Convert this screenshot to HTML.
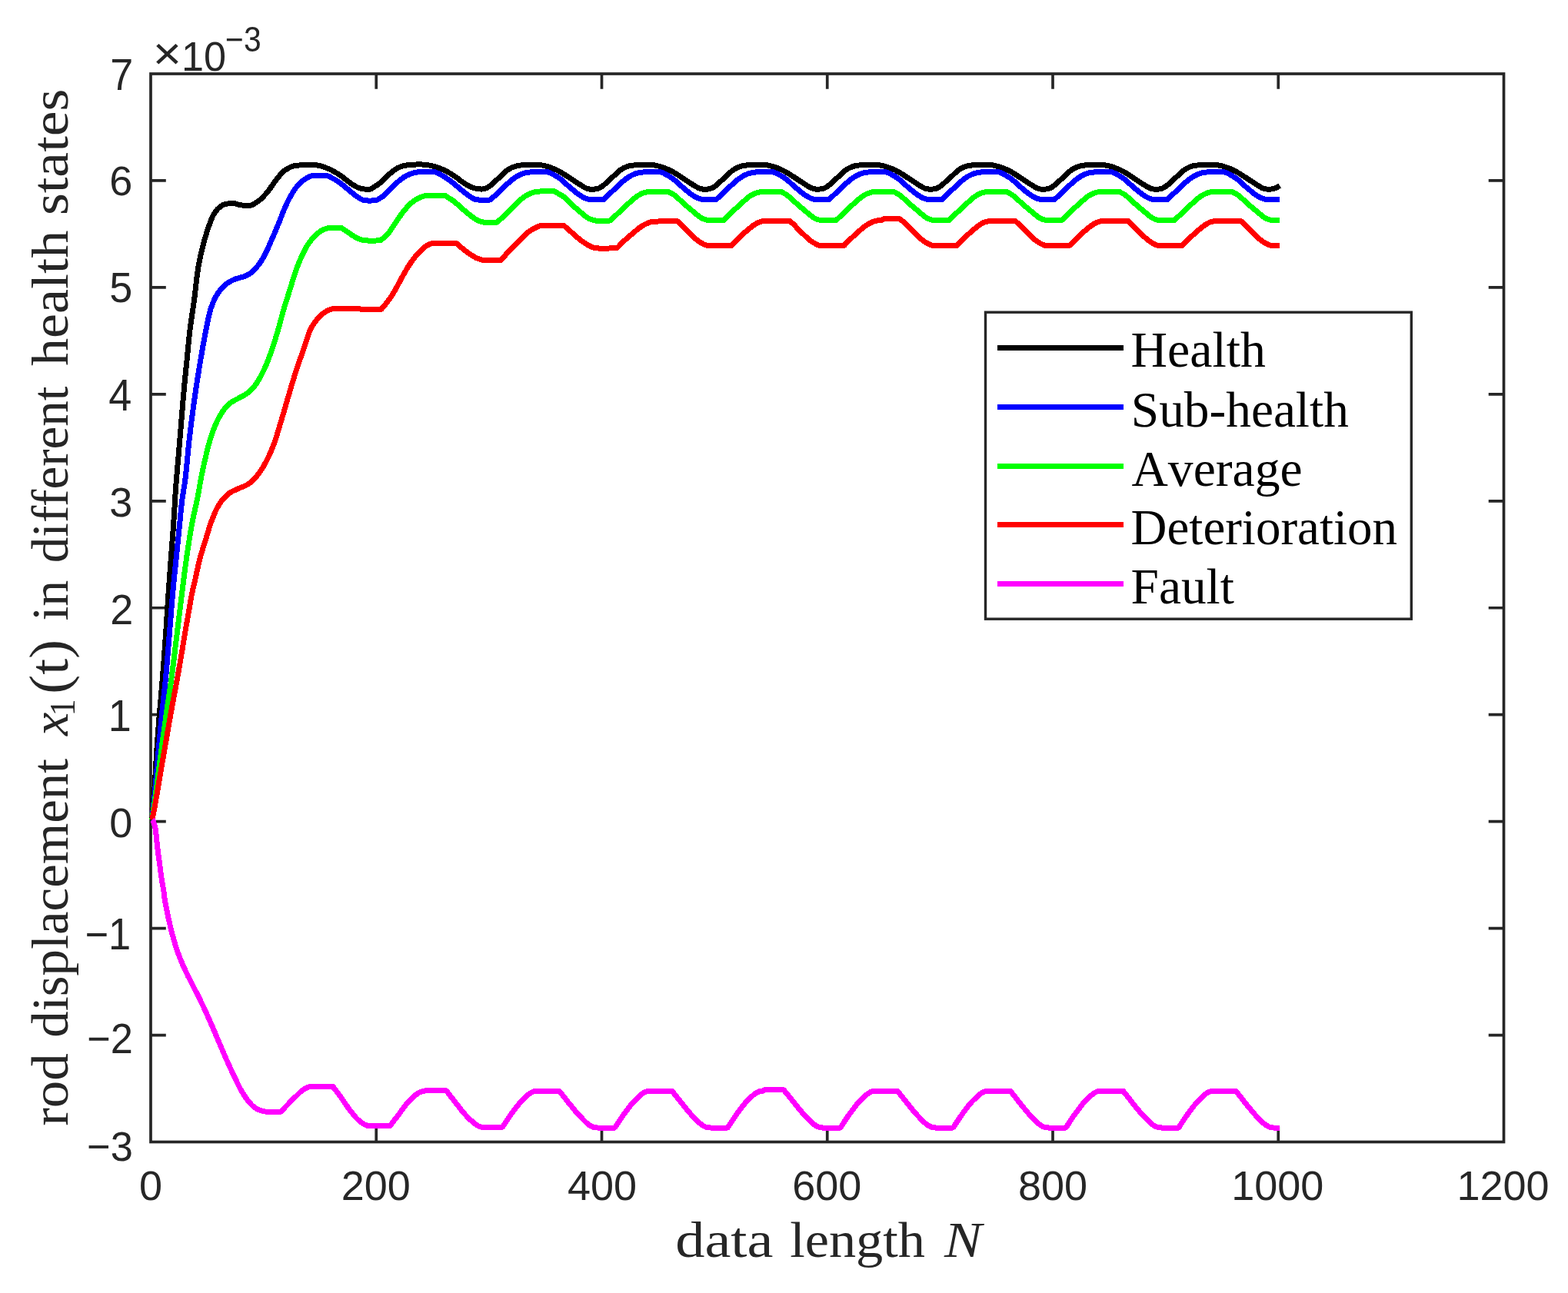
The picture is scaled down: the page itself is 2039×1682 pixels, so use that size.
<!DOCTYPE html>
<html lang="en"><head><meta charset="utf-8"><title>rod displacement in different health states</title>
<style>html,body{margin:0;padding:0;background:#fff}body{width:2039px;height:1682px;overflow:hidden}svg{display:block}text{white-space:pre}</style></head><body>
<svg width="2039" height="1682" viewBox="0 0 2039 1682">
<rect x="0" y="0" width="2039" height="1682" fill="#ffffff"/>
<g stroke="#262626" fill="none" stroke-linecap="butt">
<rect x="196.00" y="96.00" width="1759.50" height="1389.50" stroke-width="3.7"/>
<path d="M489.25,1485.50v-19.80 M489.25,96.00v19.80 M782.50,1485.50v-19.80 M782.50,96.00v19.80 M1075.75,1485.50v-19.80 M1075.75,96.00v19.80 M1369.00,1485.50v-19.80 M1369.00,96.00v19.80 M1662.25,1485.50v-19.80 M1662.25,96.00v19.80 M196.00,1346.55h19.80 M1955.50,1346.55h-19.80 M196.00,1207.60h19.80 M1955.50,1207.60h-19.80 M196.00,1068.65h19.80 M1955.50,1068.65h-19.80 M196.00,929.70h19.80 M1955.50,929.70h-19.80 M196.00,790.75h19.80 M1955.50,790.75h-19.80 M196.00,651.80h19.80 M1955.50,651.80h-19.80 M196.00,512.85h19.80 M1955.50,512.85h-19.80 M196.00,373.90h19.80 M1955.50,373.90h-19.80 M196.00,234.95h19.80 M1955.50,234.95h-19.80" stroke-width="3.7"/>
</g>
<g fill="none" stroke-width="7" stroke-linejoin="bevel" stroke-linecap="butt" shape-rendering="crispEdges">
<path stroke="#000000" d="M197.8,1066.0 L199.3,1048.2 L200.8,1027.4 L202.3,1003.0 L203.8,976.5 L205.3,955.3 L206.8,936.3 L208.3,917.9 L209.8,900.5 L211.3,882.5 L212.8,863.1 L214.3,842.6 L215.8,821.2 L217.3,798.2 L218.8,775.1 L220.3,753.7 L221.8,733.0 L223.3,713.2 L224.8,694.0 L226.3,672.0 L227.8,646.0 L229.3,625.2 L230.8,607.7 L232.3,590.3 L233.8,572.3 L235.3,554.3 L236.8,536.0 L238.3,517.7 L239.8,500.7 L241.3,485.5 L242.8,470.9 L244.3,455.6 L245.8,440.1 L247.3,426.7 L248.8,415.7 L250.3,405.7 L251.8,395.7 L253.3,384.4 L254.8,371.1 L256.3,358.1 L257.8,348.0 L259.3,339.8 L260.8,332.7 L262.3,326.3 L263.8,320.2 L265.3,314.5 L266.8,309.1 L268.3,304.1 L269.8,299.4 L271.3,295.0 L272.8,290.8 L274.3,286.7 L275.8,283.0 L277.3,280.0 L278.8,277.5 L280.3,275.3 L281.8,273.3 L283.3,271.6 L284.8,270.3 L286.3,269.1 L287.8,268.0 L289.3,267.0 L290.8,266.2 L292.3,265.6 L293.8,265.3 L295.3,265.1 L296.8,264.9 L298.3,264.7 L299.8,264.6 L301.3,264.5 L302.8,264.4 L304.3,264.5 L305.8,264.8 L307.3,265.2 L308.8,265.7 L310.3,266.2 L311.8,266.6 L313.3,266.9 L314.8,267.0 L316.3,267.1 L317.8,267.2 L319.3,267.3 L320.8,267.4 L322.3,267.4 L323.8,267.4 L325.3,267.3 L326.8,266.9 L328.3,266.3 L329.8,265.5 L331.3,264.6 L332.8,263.7 L334.3,262.7 L335.8,261.7 L337.3,260.6 L338.8,259.3 L340.3,257.9 L341.8,256.4 L343.3,254.8 L344.8,253.2 L346.3,251.6 L347.8,249.8 L349.3,247.9 L350.8,245.8 L352.3,243.6 L353.8,241.4 L355.3,239.2 L356.8,237.1 L358.3,235.1 L359.8,233.2 L361.3,231.3 L362.8,229.3 L364.3,227.5 L365.8,225.7 L367.3,224.1 L368.8,222.7 L370.3,221.6 L371.8,220.7 L373.3,219.8 L374.8,218.9 L376.3,218.1 L377.8,217.4 L379.3,216.8 L380.8,216.3 L382.3,215.9 L383.8,215.7 L385.3,215.5 L386.8,215.3 L388.3,215.1 L389.8,214.9 L391.3,214.8 L392.8,214.7 L394.3,214.6 L395.8,214.5 L397.3,214.5 L398.8,214.5 L400.3,214.5 L401.8,214.5 L403.3,214.6 L404.8,214.6 L406.3,214.7 L407.8,214.7 L409.3,214.8 L410.8,214.9 L412.3,215.0 L413.8,215.1 L415.3,215.4 L416.8,215.8 L418.3,216.2 L419.8,216.7 L421.3,217.3 L422.8,217.8 L424.3,218.4 L425.8,219.0 L427.3,219.6 L428.8,220.2 L430.3,221.0 L431.8,221.7 L433.3,222.5 L434.8,223.4 L436.3,224.3 L437.8,225.2 L439.3,226.1 L440.8,227.0 L442.3,228.0 L443.8,229.0 L445.3,230.1 L446.8,231.3 L448.3,232.5 L449.8,233.7 L451.3,234.9 L452.8,236.0 L454.3,237.2 L455.8,238.2 L457.3,239.3 L458.8,240.3 L460.3,241.2 L461.8,242.1 L463.3,242.9 L464.8,243.6 L466.3,244.3 L467.8,244.8 L469.3,245.2 L470.8,245.5 L472.3,245.8 L473.8,246.0 L475.3,246.0 L476.8,246.1 L478.3,246.1 L479.8,246.2 L481.3,246.0 L482.8,245.5 L484.3,244.7 L485.8,243.7 L487.3,242.7 L488.8,241.8 L490.3,240.8 L491.8,239.8 L493.3,238.7 L494.8,237.5 L496.3,236.3 L497.8,235.0 L499.3,233.7 L500.8,232.1 L502.3,230.5 L503.8,228.9 L505.3,227.4 L506.8,226.0 L508.3,224.8 L509.8,223.5 L511.3,222.3 L512.8,221.2 L514.3,220.2 L515.8,219.3 L517.3,218.5 L518.8,217.8 L520.3,217.1 L521.8,216.5 L523.3,216.0 L524.8,215.6 L526.3,215.4 L527.8,215.1 L529.3,214.9 L530.8,214.7 L532.3,214.6 L533.8,214.5 L535.3,214.4 L536.8,214.2 L538.3,214.1 L539.8,214.1 L541.3,214.0 L542.8,213.9 L544.3,213.9 L545.8,213.9 L547.3,213.9 L548.8,214.0 L550.3,214.1 L551.8,214.3 L553.3,214.4 L554.8,214.6 L556.3,214.8 L557.8,215.0 L559.3,215.2 L560.8,215.5 L562.3,215.9 L563.8,216.3 L565.3,216.7 L566.8,217.2 L568.3,217.6 L569.8,218.1 L571.3,218.6 L572.8,219.2 L574.3,219.8 L575.8,220.5 L577.3,221.2 L578.8,222.0 L580.3,222.7 L581.8,223.5 L583.3,224.3 L584.8,225.2 L586.3,226.1 L587.8,227.1 L589.3,228.1 L590.8,229.1 L592.3,230.1 L593.8,231.1 L595.3,232.2 L596.8,233.4 L598.3,234.6 L599.8,235.7 L601.3,236.8 L602.8,237.8 L604.3,238.8 L605.8,239.8 L607.3,240.7 L608.8,241.5 L610.3,242.2 L611.8,242.9 L613.3,243.5 L614.8,244.1 L616.3,244.6 L617.8,245.0 L619.3,245.3 L620.8,245.5 L622.3,245.7 L623.8,245.9 L625.3,246.0 L626.8,246.0 L628.3,245.9 L629.8,245.5 L631.3,245.1 L632.8,244.5 L634.3,243.7 L635.8,242.7 L637.3,241.7 L638.8,240.5 L640.3,239.1 L641.8,237.7 L643.3,236.3 L644.8,234.9 L646.3,233.6 L647.8,232.3 L649.3,230.9 L650.8,229.5 L652.3,228.2 L653.8,226.7 L655.3,225.3 L656.8,223.8 L658.3,222.5 L659.8,221.4 L661.3,220.4 L662.8,219.5 L664.3,218.7 L665.8,217.9 L667.3,217.3 L668.8,216.8 L670.3,216.3 L671.8,215.8 L673.3,215.5 L674.8,215.3 L676.3,215.1 L677.8,214.9 L679.3,214.8 L680.8,214.7 L682.3,214.6 L683.8,214.5 L685.3,214.5 L686.8,214.4 L688.3,214.3 L689.8,214.2 L691.3,214.2 L692.8,214.2 L694.3,214.2 L695.8,214.2 L697.3,214.2 L698.8,214.2 L700.3,214.3 L701.8,214.4 L703.3,214.7 L704.8,215.0 L706.3,215.3 L707.8,215.6 L709.3,216.0 L710.8,216.4 L712.3,216.8 L713.8,217.3 L715.3,217.8 L716.8,218.3 L718.3,218.8 L719.8,219.4 L721.3,220.1 L722.8,220.7 L724.3,221.4 L725.8,222.2 L727.3,223.0 L728.8,223.8 L730.3,224.7 L731.8,225.6 L733.3,226.5 L734.8,227.5 L736.3,228.5 L737.8,229.5 L739.3,230.4 L740.8,231.4 L742.3,232.4 L743.8,233.4 L745.3,234.4 L746.8,235.3 L748.3,236.3 L749.8,237.3 L751.3,238.3 L752.8,239.3 L754.3,240.2 L755.8,241.1 L757.3,242.1 L758.8,243.0 L760.3,243.9 L761.8,244.6 L763.3,245.2 L764.8,245.7 L766.3,246.0 L767.8,246.0 L769.3,246.0 L770.8,246.0 L772.3,246.0 L773.8,246.0 L775.3,245.8 L776.8,245.4 L778.3,245.0 L779.8,244.3 L781.3,243.5 L782.8,242.5 L784.3,241.4 L785.8,240.2 L787.3,238.8 L788.8,237.3 L790.3,235.9 L791.8,234.6 L793.3,233.3 L794.8,231.9 L796.3,230.6 L797.8,229.2 L799.3,227.8 L800.8,226.4 L802.3,224.9 L803.8,223.5 L805.3,222.2 L806.8,221.1 L808.3,220.2 L809.8,219.3 L811.3,218.5 L812.8,217.8 L814.3,217.2 L815.8,216.6 L817.3,216.1 L818.8,215.7 L820.3,215.4 L821.8,215.2 L823.3,215.1 L824.8,214.9 L826.3,214.8 L827.8,214.7 L829.3,214.6 L830.8,214.5 L832.3,214.4 L833.8,214.3 L835.3,214.2 L836.8,214.2 L838.3,214.2 L839.8,214.2 L841.3,214.2 L842.8,214.2 L844.3,214.2 L845.8,214.2 L847.3,214.3 L848.8,214.5 L850.3,214.8 L851.8,215.1 L853.3,215.4 L854.8,215.7 L856.3,216.1 L857.8,216.5 L859.3,216.9 L860.8,217.4 L862.3,217.9 L863.8,218.4 L865.3,219.0 L866.8,219.6 L868.3,220.2 L869.8,220.9 L871.3,221.6 L872.8,222.4 L874.3,223.2 L875.8,224.0 L877.3,224.9 L878.8,225.8 L880.3,226.7 L881.8,227.7 L883.3,228.7 L884.8,229.7 L886.3,230.7 L887.8,231.7 L889.3,232.6 L890.8,233.6 L892.3,234.6 L893.8,235.6 L895.3,236.6 L896.8,237.6 L898.3,238.6 L899.8,239.5 L901.3,240.5 L902.8,241.4 L904.3,242.3 L905.8,243.2 L907.3,244.1 L908.8,244.8 L910.3,245.3 L911.8,245.8 L913.3,246.0 L914.8,246.0 L916.3,246.0 L917.8,246.0 L919.3,246.0 L920.8,246.0 L922.3,245.7 L923.8,245.3 L925.3,244.8 L926.8,244.1 L928.3,243.2 L929.8,242.2 L931.3,241.1 L932.8,239.8 L934.3,238.4 L935.8,237.0 L937.3,235.6 L938.8,234.3 L940.3,232.9 L941.8,231.6 L943.3,230.2 L944.8,228.9 L946.3,227.5 L947.8,226.0 L949.3,224.5 L950.8,223.2 L952.3,221.9 L953.8,220.9 L955.3,219.9 L956.8,219.1 L958.3,218.3 L959.8,217.6 L961.3,217.0 L962.8,216.5 L964.3,216.0 L965.8,215.6 L967.3,215.4 L968.8,215.2 L970.3,215.0 L971.8,214.9 L973.3,214.8 L974.8,214.7 L976.3,214.6 L977.8,214.5 L979.3,214.4 L980.8,214.3 L982.3,214.2 L983.8,214.2 L985.3,214.2 L986.8,214.2 L988.3,214.2 L989.8,214.2 L991.3,214.2 L992.8,214.2 L994.3,214.4 L995.8,214.6 L997.3,214.8 L998.8,215.1 L1000.3,215.5 L1001.8,215.8 L1003.3,216.1 L1004.8,216.6 L1006.3,217.0 L1007.8,217.5 L1009.3,218.0 L1010.8,218.6 L1012.3,219.1 L1013.8,219.7 L1015.3,220.4 L1016.8,221.1 L1018.3,221.8 L1019.8,222.6 L1021.3,223.4 L1022.8,224.3 L1024.3,225.1 L1025.8,226.0 L1027.3,227.0 L1028.8,228.0 L1030.3,229.0 L1031.8,229.9 L1033.3,230.9 L1034.8,231.9 L1036.3,232.9 L1037.8,233.9 L1039.3,234.9 L1040.8,235.8 L1042.3,236.8 L1043.8,237.8 L1045.3,238.8 L1046.8,239.8 L1048.3,240.7 L1049.8,241.6 L1051.3,242.5 L1052.8,243.4 L1054.3,244.3 L1055.8,244.9 L1057.3,245.4 L1058.8,245.9 L1060.3,246.0 L1061.8,246.0 L1063.3,246.0 L1064.8,246.0 L1066.3,246.0 L1067.8,245.9 L1069.3,245.6 L1070.8,245.2 L1072.3,244.7 L1073.8,243.9 L1075.3,243.0 L1076.8,241.9 L1078.3,240.8 L1079.8,239.5 L1081.3,238.1 L1082.8,236.6 L1084.3,235.3 L1085.8,233.9 L1087.3,232.6 L1088.8,231.2 L1090.3,229.9 L1091.8,228.5 L1093.3,227.1 L1094.8,225.6 L1096.3,224.2 L1097.8,222.8 L1099.3,221.7 L1100.8,220.7 L1102.3,219.7 L1103.8,218.9 L1105.3,218.1 L1106.8,217.4 L1108.3,216.9 L1109.8,216.4 L1111.3,215.9 L1112.8,215.6 L1114.3,215.3 L1115.8,215.1 L1117.3,215.0 L1118.8,214.9 L1120.3,214.8 L1121.8,214.7 L1123.3,214.6 L1124.8,214.5 L1126.3,214.4 L1127.8,214.3 L1129.3,214.2 L1130.8,214.2 L1132.3,214.2 L1133.8,214.2 L1135.3,214.2 L1136.8,214.2 L1138.3,214.2 L1139.8,214.2 L1141.3,214.4 L1142.8,214.6 L1144.3,214.9 L1145.8,215.2 L1147.3,215.5 L1148.8,215.9 L1150.3,216.2 L1151.8,216.7 L1153.3,217.2 L1154.8,217.7 L1156.3,218.2 L1157.8,218.7 L1159.3,219.3 L1160.8,219.9 L1162.3,220.5 L1163.8,221.2 L1165.3,222.0 L1166.8,222.8 L1168.3,223.6 L1169.8,224.5 L1171.3,225.4 L1172.8,226.3 L1174.3,227.2 L1175.8,228.2 L1177.3,229.2 L1178.8,230.2 L1180.3,231.2 L1181.8,232.2 L1183.3,233.1 L1184.8,234.1 L1186.3,235.1 L1187.8,236.1 L1189.3,237.1 L1190.8,238.1 L1192.3,239.0 L1193.8,240.0 L1195.3,240.9 L1196.8,241.8 L1198.3,242.8 L1199.8,243.7 L1201.3,244.4 L1202.8,245.1 L1204.3,245.6 L1205.8,245.9 L1207.3,246.0 L1208.8,246.0 L1210.3,246.0 L1211.8,246.0 L1213.3,246.0 L1214.8,245.9 L1216.3,245.5 L1217.8,245.1 L1219.3,244.5 L1220.8,243.7 L1222.3,242.7 L1223.8,241.7 L1225.3,240.5 L1226.8,239.1 L1228.3,237.7 L1229.8,236.3 L1231.3,234.9 L1232.8,233.6 L1234.3,232.3 L1235.8,230.9 L1237.3,229.5 L1238.8,228.2 L1240.3,226.7 L1241.8,225.3 L1243.3,223.8 L1244.8,222.5 L1246.3,221.4 L1247.8,220.4 L1249.3,219.5 L1250.8,218.7 L1252.3,217.9 L1253.8,217.3 L1255.3,216.8 L1256.8,216.3 L1258.3,215.8 L1259.8,215.5 L1261.3,215.3 L1262.8,215.1 L1264.3,214.9 L1265.8,214.8 L1267.3,214.7 L1268.8,214.6 L1270.3,214.5 L1271.8,214.5 L1273.3,214.4 L1274.8,214.3 L1276.3,214.2 L1277.8,214.2 L1279.3,214.2 L1280.8,214.2 L1282.3,214.2 L1283.8,214.2 L1285.3,214.2 L1286.8,214.3 L1288.3,214.4 L1289.8,214.7 L1291.3,215.0 L1292.8,215.3 L1294.3,215.6 L1295.8,216.0 L1297.3,216.4 L1298.8,216.8 L1300.3,217.3 L1301.8,217.8 L1303.3,218.3 L1304.8,218.8 L1306.3,219.4 L1307.8,220.1 L1309.3,220.7 L1310.8,221.4 L1312.3,222.2 L1313.8,223.0 L1315.3,223.8 L1316.8,224.7 L1318.3,225.6 L1319.8,226.5 L1321.3,227.5 L1322.8,228.5 L1324.3,229.5 L1325.8,230.4 L1327.3,231.4 L1328.8,232.4 L1330.3,233.4 L1331.8,234.4 L1333.3,235.3 L1334.8,236.3 L1336.3,237.3 L1337.8,238.3 L1339.3,239.3 L1340.8,240.2 L1342.3,241.1 L1343.8,242.1 L1345.3,243.0 L1346.8,243.9 L1348.3,244.6 L1349.8,245.2 L1351.3,245.7 L1352.8,246.0 L1354.3,246.0 L1355.8,246.0 L1357.3,246.0 L1358.8,246.0 L1360.3,246.0 L1361.8,245.8 L1363.3,245.4 L1364.8,245.0 L1366.3,244.3 L1367.8,243.5 L1369.3,242.5 L1370.8,241.4 L1372.3,240.2 L1373.8,238.8 L1375.3,237.3 L1376.8,235.9 L1378.3,234.6 L1379.8,233.3 L1381.3,231.9 L1382.8,230.6 L1384.3,229.2 L1385.8,227.8 L1387.3,226.4 L1388.8,224.9 L1390.3,223.5 L1391.8,222.2 L1393.3,221.1 L1394.8,220.2 L1396.3,219.3 L1397.8,218.5 L1399.3,217.8 L1400.8,217.2 L1402.3,216.6 L1403.8,216.1 L1405.3,215.7 L1406.8,215.4 L1408.3,215.2 L1409.8,215.1 L1411.3,214.9 L1412.8,214.8 L1414.3,214.7 L1415.8,214.6 L1417.3,214.5 L1418.8,214.4 L1420.3,214.3 L1421.8,214.2 L1423.3,214.2 L1424.8,214.2 L1426.3,214.2 L1427.8,214.2 L1429.3,214.2 L1430.8,214.2 L1432.3,214.2 L1433.8,214.3 L1435.3,214.5 L1436.8,214.8 L1438.3,215.1 L1439.8,215.4 L1441.3,215.7 L1442.8,216.1 L1444.3,216.5 L1445.8,216.9 L1447.3,217.4 L1448.8,217.9 L1450.3,218.4 L1451.8,219.0 L1453.3,219.6 L1454.8,220.2 L1456.3,220.9 L1457.8,221.6 L1459.3,222.4 L1460.8,223.2 L1462.3,224.0 L1463.8,224.9 L1465.3,225.8 L1466.8,226.7 L1468.3,227.7 L1469.8,228.7 L1471.3,229.7 L1472.8,230.7 L1474.3,231.7 L1475.8,232.6 L1477.3,233.6 L1478.8,234.6 L1480.3,235.6 L1481.8,236.6 L1483.3,237.6 L1484.8,238.6 L1486.3,239.5 L1487.8,240.5 L1489.3,241.4 L1490.8,242.3 L1492.3,243.2 L1493.8,244.1 L1495.3,244.8 L1496.8,245.3 L1498.3,245.8 L1499.8,246.0 L1501.3,246.0 L1502.8,246.0 L1504.3,246.0 L1505.8,246.0 L1507.3,246.0 L1508.8,245.7 L1510.3,245.3 L1511.8,244.8 L1513.3,244.1 L1514.8,243.2 L1516.3,242.2 L1517.8,241.1 L1519.3,239.8 L1520.8,238.4 L1522.3,237.0 L1523.8,235.6 L1525.3,234.3 L1526.8,232.9 L1528.3,231.6 L1529.8,230.2 L1531.3,228.9 L1532.8,227.5 L1534.3,226.0 L1535.8,224.5 L1537.3,223.2 L1538.8,221.9 L1540.3,220.9 L1541.8,219.9 L1543.3,219.1 L1544.8,218.3 L1546.3,217.6 L1547.8,217.0 L1549.3,216.5 L1550.8,216.0 L1552.3,215.6 L1553.8,215.4 L1555.3,215.2 L1556.8,215.0 L1558.3,214.9 L1559.8,214.8 L1561.3,214.7 L1562.8,214.6 L1564.3,214.5 L1565.8,214.4 L1567.3,214.3 L1568.8,214.2 L1570.3,214.2 L1571.8,214.2 L1573.3,214.2 L1574.8,214.2 L1576.3,214.2 L1577.8,214.2 L1579.3,214.2 L1580.8,214.4 L1582.3,214.6 L1583.8,214.8 L1585.3,215.1 L1586.8,215.5 L1588.3,215.8 L1589.8,216.1 L1591.3,216.6 L1592.8,217.0 L1594.3,217.5 L1595.8,218.0 L1597.3,218.6 L1598.8,219.1 L1600.3,219.7 L1601.8,220.4 L1603.3,221.1 L1604.8,221.8 L1606.3,222.6 L1607.8,223.4 L1609.3,224.3 L1610.8,225.1 L1612.3,226.0 L1613.8,227.0 L1615.3,228.0 L1616.8,229.0 L1618.3,229.9 L1619.8,230.9 L1621.3,231.9 L1622.8,232.9 L1624.3,233.9 L1625.8,234.9 L1627.3,235.8 L1628.8,236.8 L1630.3,237.8 L1631.8,238.8 L1633.3,239.8 L1634.8,240.7 L1636.3,241.6 L1637.8,242.5 L1639.3,243.4 L1640.8,244.3 L1642.3,244.9 L1643.8,245.4 L1645.3,245.9 L1646.8,246.0 L1648.3,246.0 L1649.8,246.0 L1651.3,246.0 L1652.8,246.0 L1654.3,245.9 L1655.8,245.6 L1657.3,245.2 L1658.8,244.7 L1660.3,243.9 L1661.8,243.0 L1663.3,241.9 L1664.0,241.5" stroke-width="5.6" stroke-linejoin="round" shape-rendering="auto"/>
<path stroke="#000000" d="M197.8,1066.0 L199.3,1048.2 L200.8,1027.4 L202.3,1003.0 L203.8,976.5 L205.3,955.3 L206.8,936.3 L208.3,917.9 L209.8,900.5 L211.3,882.5 L212.8,863.1 L214.3,842.6 L215.8,821.2 L217.3,798.2 L218.8,775.1 L220.3,753.7 L221.8,733.0 L223.3,713.2 L224.8,694.0 L226.3,672.0 L227.8,646.0 L229.3,625.2 L230.8,607.7 L232.3,590.3 L233.8,572.3 L235.3,554.3 L236.8,536.0 L238.3,517.7 L239.8,500.7 L241.3,485.5 L242.8,470.9 L244.3,455.6 L245.8,440.1 L247.3,426.7 L248.8,415.7 L250.3,405.7 L251.8,395.7 L253.3,384.4 L254.8,371.1 L256.3,358.1 L257.8,348.0 L259.3,339.8 L260.8,332.7 L262.3,326.3 L263.8,320.2 L265.3,314.5 L266.8,309.1 L268.3,304.1 L269.8,299.4 L271.3,295.0 L272.8,290.8 L274.3,286.7 L275.8,283.0 L277.3,280.0 L278.8,277.5 L280.3,275.3 L281.8,273.3 L283.3,271.6 L284.8,270.3 L286.3,269.1 L287.8,268.0 L289.3,267.0 L290.8,266.2 L292.3,265.6 L293.8,265.3 L295.3,265.1 L296.8,264.9 L298.3,264.7 L299.8,264.6 L301.3,264.5 L302.8,264.4 L304.3,264.5 L305.8,264.8 L307.3,265.2 L308.8,265.7 L310.3,266.2 L311.8,266.6 L313.3,266.9 L314.8,267.0 L316.3,267.1 L317.8,267.2 L319.3,267.3 L320.8,267.4 L322.3,267.4 L323.8,267.4 L325.3,267.3 L326.8,266.9 L328.3,266.3 L329.8,265.5 L331.3,264.6 L332.8,263.7 L334.3,262.7 L335.8,261.7 L337.3,260.6 L338.8,259.3 L340.3,257.9 L341.8,256.4 L343.3,254.8 L344.8,253.2 L346.3,251.6 L347.8,249.8 L349.3,247.9 L350.8,245.8 L352.3,243.6 L353.8,241.4 L355.3,239.2 L356.8,237.1 L358.3,235.1 L359.8,233.2 L361.3,231.3 L362.8,229.3 L364.3,227.5 L365.8,225.7 L367.3,224.1 L368.8,222.7 L370.3,221.6 L371.8,220.7 L373.3,219.8 L374.8,218.9 L376.3,218.1 L377.8,217.4 L379.3,216.8 L380.8,216.3 L382.3,215.9 L383.8,215.7 L385.3,215.5 L386.8,215.3 L388.3,215.1 L389.8,214.9 L391.3,214.8 L392.8,214.7 L394.3,214.6 L395.8,214.5 L397.3,214.5 L398.8,214.5 L400.3,214.5 L401.8,214.5 L403.3,214.6 L404.8,214.6 L406.3,214.7 L407.8,214.7 L409.3,214.8 L410.8,214.9 L412.3,215.0 L413.8,215.1 L415.3,215.4 L416.8,215.8 L418.3,216.2 L419.8,216.7 L421.3,217.3 L422.8,217.8 L424.3,218.4 L425.8,219.0 L427.3,219.6 L428.8,220.2 L430.3,221.0 L431.8,221.7 L433.3,222.5 L434.8,223.4 L436.3,224.3 L437.8,225.2 L439.3,226.1 L440.8,227.0 L442.3,228.0 L443.8,229.0 L445.3,230.1 L446.8,231.3 L448.3,232.5 L449.8,233.7 L451.3,234.9 L452.8,236.0 L454.3,237.2 L455.8,238.2 L457.3,239.3 L458.8,240.3 L460.3,241.2 L461.8,242.1 L463.3,242.9 L464.8,243.6 L466.3,244.3 L467.8,244.8 L469.3,245.2 L470.8,245.5 L472.3,245.8 L473.8,246.0 L475.3,246.0 L476.8,246.1 L478.3,246.1 L479.8,246.2 L481.3,246.0 L482.8,245.5 L484.3,244.7 L485.8,243.7 L487.3,242.7 L488.8,241.8 L490.3,240.8 L491.8,239.8 L493.3,238.7 L494.8,237.5 L496.3,236.3 L497.8,235.0 L499.3,233.7 L500.8,232.1 L502.3,230.5 L503.8,228.9 L505.3,227.4 L506.8,226.0 L508.3,224.8 L509.8,223.5 L511.3,222.3 L512.8,221.2 L514.3,220.2 L515.8,219.3 L517.3,218.5 L518.8,217.8 L520.3,217.1 L521.8,216.5 L523.3,216.0 L524.8,215.6 L526.3,215.4 L527.8,215.1 L529.3,214.9 L530.8,214.7 L532.3,214.6 L533.8,214.5 L535.3,214.4 L536.8,214.2 L538.3,214.1 L539.8,214.1 L541.3,214.0 L542.8,213.9 L544.3,213.9 L545.8,213.9 L547.3,213.9 L548.8,214.0 L550.3,214.1 L551.8,214.3 L553.3,214.4 L554.8,214.6 L556.3,214.8 L557.8,215.0 L559.3,215.2 L560.8,215.5 L562.3,215.9 L563.8,216.3 L565.3,216.7 L566.8,217.2 L568.3,217.6 L569.8,218.1 L571.3,218.6 L572.8,219.2 L574.3,219.8 L575.8,220.5 L577.3,221.2 L578.8,222.0 L580.3,222.7 L581.8,223.5 L583.3,224.3 L584.8,225.2 L586.3,226.1 L587.8,227.1 L589.3,228.1 L590.8,229.1 L592.3,230.1 L593.8,231.1 L595.3,232.2 L596.8,233.4 L598.3,234.6 L599.8,235.7 L601.3,236.8 L602.8,237.8 L604.3,238.8 L605.8,239.8 L607.3,240.7 L608.8,241.5 L610.3,242.2 L611.8,242.9 L613.3,243.5 L614.8,244.1 L616.3,244.6 L617.8,245.0 L619.3,245.3 L620.8,245.5 L622.3,245.7 L623.8,245.9 L625.3,246.0 L626.8,246.0 L628.3,245.9 L629.8,245.5 L631.3,245.1 L632.8,244.5 L634.3,243.7 L635.8,242.7 L637.3,241.7 L638.8,240.5 L640.3,239.1 L641.8,237.7 L643.3,236.3 L644.8,234.9 L646.3,233.6 L647.8,232.3 L649.3,230.9 L650.8,229.5 L652.3,228.2 L653.8,226.7 L655.3,225.3 L656.8,223.8 L658.3,222.5 L659.8,221.4 L661.3,220.4 L662.8,219.5 L664.3,218.7 L665.8,217.9 L667.3,217.3 L668.8,216.8 L670.3,216.3 L671.8,215.8 L673.3,215.5 L674.8,215.3 L676.3,215.1 L677.8,214.9 L679.3,214.8 L680.8,214.7 L682.3,214.6 L683.8,214.5 L685.3,214.5 L686.8,214.4 L688.3,214.3 L689.8,214.2 L691.3,214.2 L692.8,214.2 L694.3,214.2 L695.8,214.2 L697.3,214.2 L698.8,214.2 L700.3,214.3 L701.8,214.4 L703.3,214.7 L704.8,215.0 L706.3,215.3 L707.8,215.6 L709.3,216.0 L710.8,216.4 L712.3,216.8 L713.8,217.3 L715.3,217.8 L716.8,218.3 L718.3,218.8 L719.8,219.4 L721.3,220.1 L722.8,220.7 L724.3,221.4 L725.8,222.2 L727.3,223.0 L728.8,223.8 L730.3,224.7 L731.8,225.6 L733.3,226.5 L734.8,227.5 L736.3,228.5 L737.8,229.5 L739.3,230.4 L740.8,231.4 L742.3,232.4 L743.8,233.4 L745.3,234.4 L746.8,235.3 L748.3,236.3 L749.8,237.3 L751.3,238.3 L752.8,239.3 L754.3,240.2 L755.8,241.1 L757.3,242.1 L758.8,243.0 L760.3,243.9 L761.8,244.6 L763.3,245.2 L764.8,245.7 L766.3,246.0 L767.8,246.0 L769.3,246.0 L770.8,246.0 L772.3,246.0 L773.8,246.0 L775.3,245.8 L776.8,245.4 L778.3,245.0 L779.8,244.3 L781.3,243.5 L782.8,242.5 L784.3,241.4 L785.8,240.2 L787.3,238.8 L788.8,237.3 L790.3,235.9 L791.8,234.6 L793.3,233.3 L794.8,231.9 L796.3,230.6 L797.8,229.2 L799.3,227.8 L800.8,226.4 L802.3,224.9 L803.8,223.5 L805.3,222.2 L806.8,221.1 L808.3,220.2 L809.8,219.3 L811.3,218.5 L812.8,217.8 L814.3,217.2 L815.8,216.6 L817.3,216.1 L818.8,215.7 L820.3,215.4 L821.8,215.2 L823.3,215.1 L824.8,214.9 L826.3,214.8 L827.8,214.7 L829.3,214.6 L830.8,214.5 L832.3,214.4 L833.8,214.3 L835.3,214.2 L836.8,214.2 L838.3,214.2 L839.8,214.2 L841.3,214.2 L842.8,214.2 L844.3,214.2 L845.8,214.2 L847.3,214.3 L848.8,214.5 L850.3,214.8 L851.8,215.1 L853.3,215.4 L854.8,215.7 L856.3,216.1 L857.8,216.5 L859.3,216.9 L860.8,217.4 L862.3,217.9 L863.8,218.4 L865.3,219.0 L866.8,219.6 L868.3,220.2 L869.8,220.9 L871.3,221.6 L872.8,222.4 L874.3,223.2 L875.8,224.0 L877.3,224.9 L878.8,225.8 L880.3,226.7 L881.8,227.7 L883.3,228.7 L884.8,229.7 L886.3,230.7 L887.8,231.7 L889.3,232.6 L890.8,233.6 L892.3,234.6 L893.8,235.6 L895.3,236.6 L896.8,237.6 L898.3,238.6 L899.8,239.5 L901.3,240.5 L902.8,241.4 L904.3,242.3 L905.8,243.2 L907.3,244.1 L908.8,244.8 L910.3,245.3 L911.8,245.8 L913.3,246.0 L914.8,246.0 L916.3,246.0 L917.8,246.0 L919.3,246.0 L920.8,246.0 L922.3,245.7 L923.8,245.3 L925.3,244.8 L926.8,244.1 L928.3,243.2 L929.8,242.2 L931.3,241.1 L932.8,239.8 L934.3,238.4 L935.8,237.0 L937.3,235.6 L938.8,234.3 L940.3,232.9 L941.8,231.6 L943.3,230.2 L944.8,228.9 L946.3,227.5 L947.8,226.0 L949.3,224.5 L950.8,223.2 L952.3,221.9 L953.8,220.9 L955.3,219.9 L956.8,219.1 L958.3,218.3 L959.8,217.6 L961.3,217.0 L962.8,216.5 L964.3,216.0 L965.8,215.6 L967.3,215.4 L968.8,215.2 L970.3,215.0 L971.8,214.9 L973.3,214.8 L974.8,214.7 L976.3,214.6 L977.8,214.5 L979.3,214.4 L980.8,214.3 L982.3,214.2 L983.8,214.2 L985.3,214.2 L986.8,214.2 L988.3,214.2 L989.8,214.2 L991.3,214.2 L992.8,214.2 L994.3,214.4 L995.8,214.6 L997.3,214.8 L998.8,215.1 L1000.3,215.5 L1001.8,215.8 L1003.3,216.1 L1004.8,216.6 L1006.3,217.0 L1007.8,217.5 L1009.3,218.0 L1010.8,218.6 L1012.3,219.1 L1013.8,219.7 L1015.3,220.4 L1016.8,221.1 L1018.3,221.8 L1019.8,222.6 L1021.3,223.4 L1022.8,224.3 L1024.3,225.1 L1025.8,226.0 L1027.3,227.0 L1028.8,228.0 L1030.3,229.0 L1031.8,229.9 L1033.3,230.9 L1034.8,231.9 L1036.3,232.9 L1037.8,233.9 L1039.3,234.9 L1040.8,235.8 L1042.3,236.8 L1043.8,237.8 L1045.3,238.8 L1046.8,239.8 L1048.3,240.7 L1049.8,241.6 L1051.3,242.5 L1052.8,243.4 L1054.3,244.3 L1055.8,244.9 L1057.3,245.4 L1058.8,245.9 L1060.3,246.0 L1061.8,246.0 L1063.3,246.0 L1064.8,246.0 L1066.3,246.0 L1067.8,245.9 L1069.3,245.6 L1070.8,245.2 L1072.3,244.7 L1073.8,243.9 L1075.3,243.0 L1076.8,241.9 L1078.3,240.8 L1079.8,239.5 L1081.3,238.1 L1082.8,236.6 L1084.3,235.3 L1085.8,233.9 L1087.3,232.6 L1088.8,231.2 L1090.3,229.9 L1091.8,228.5 L1093.3,227.1 L1094.8,225.6 L1096.3,224.2 L1097.8,222.8 L1099.3,221.7 L1100.8,220.7 L1102.3,219.7 L1103.8,218.9 L1105.3,218.1 L1106.8,217.4 L1108.3,216.9 L1109.8,216.4 L1111.3,215.9 L1112.8,215.6 L1114.3,215.3 L1115.8,215.1 L1117.3,215.0 L1118.8,214.9 L1120.3,214.8 L1121.8,214.7 L1123.3,214.6 L1124.8,214.5 L1126.3,214.4 L1127.8,214.3 L1129.3,214.2 L1130.8,214.2 L1132.3,214.2 L1133.8,214.2 L1135.3,214.2 L1136.8,214.2 L1138.3,214.2 L1139.8,214.2 L1141.3,214.4 L1142.8,214.6 L1144.3,214.9 L1145.8,215.2 L1147.3,215.5 L1148.8,215.9 L1150.3,216.2 L1151.8,216.7 L1153.3,217.2 L1154.8,217.7 L1156.3,218.2 L1157.8,218.7 L1159.3,219.3 L1160.8,219.9 L1162.3,220.5 L1163.8,221.2 L1165.3,222.0 L1166.8,222.8 L1168.3,223.6 L1169.8,224.5 L1171.3,225.4 L1172.8,226.3 L1174.3,227.2 L1175.8,228.2 L1177.3,229.2 L1178.8,230.2 L1180.3,231.2 L1181.8,232.2 L1183.3,233.1 L1184.8,234.1 L1186.3,235.1 L1187.8,236.1 L1189.3,237.1 L1190.8,238.1 L1192.3,239.0 L1193.8,240.0 L1195.3,240.9 L1196.8,241.8 L1198.3,242.8 L1199.8,243.7 L1201.3,244.4 L1202.8,245.1 L1204.3,245.6 L1205.8,245.9 L1207.3,246.0 L1208.8,246.0 L1210.3,246.0 L1211.8,246.0 L1213.3,246.0 L1214.8,245.9 L1216.3,245.5 L1217.8,245.1 L1219.3,244.5 L1220.8,243.7 L1222.3,242.7 L1223.8,241.7 L1225.3,240.5 L1226.8,239.1 L1228.3,237.7 L1229.8,236.3 L1231.3,234.9 L1232.8,233.6 L1234.3,232.3 L1235.8,230.9 L1237.3,229.5 L1238.8,228.2 L1240.3,226.7 L1241.8,225.3 L1243.3,223.8 L1244.8,222.5 L1246.3,221.4 L1247.8,220.4 L1249.3,219.5 L1250.8,218.7 L1252.3,217.9 L1253.8,217.3 L1255.3,216.8 L1256.8,216.3 L1258.3,215.8 L1259.8,215.5 L1261.3,215.3 L1262.8,215.1 L1264.3,214.9 L1265.8,214.8 L1267.3,214.7 L1268.8,214.6 L1270.3,214.5 L1271.8,214.5 L1273.3,214.4 L1274.8,214.3 L1276.3,214.2 L1277.8,214.2 L1279.3,214.2 L1280.8,214.2 L1282.3,214.2 L1283.8,214.2 L1285.3,214.2 L1286.8,214.3 L1288.3,214.4 L1289.8,214.7 L1291.3,215.0 L1292.8,215.3 L1294.3,215.6 L1295.8,216.0 L1297.3,216.4 L1298.8,216.8 L1300.3,217.3 L1301.8,217.8 L1303.3,218.3 L1304.8,218.8 L1306.3,219.4 L1307.8,220.1 L1309.3,220.7 L1310.8,221.4 L1312.3,222.2 L1313.8,223.0 L1315.3,223.8 L1316.8,224.7 L1318.3,225.6 L1319.8,226.5 L1321.3,227.5 L1322.8,228.5 L1324.3,229.5 L1325.8,230.4 L1327.3,231.4 L1328.8,232.4 L1330.3,233.4 L1331.8,234.4 L1333.3,235.3 L1334.8,236.3 L1336.3,237.3 L1337.8,238.3 L1339.3,239.3 L1340.8,240.2 L1342.3,241.1 L1343.8,242.1 L1345.3,243.0 L1346.8,243.9 L1348.3,244.6 L1349.8,245.2 L1351.3,245.7 L1352.8,246.0 L1354.3,246.0 L1355.8,246.0 L1357.3,246.0 L1358.8,246.0 L1360.3,246.0 L1361.8,245.8 L1363.3,245.4 L1364.8,245.0 L1366.3,244.3 L1367.8,243.5 L1369.3,242.5 L1370.8,241.4 L1372.3,240.2 L1373.8,238.8 L1375.3,237.3 L1376.8,235.9 L1378.3,234.6 L1379.8,233.3 L1381.3,231.9 L1382.8,230.6 L1384.3,229.2 L1385.8,227.8 L1387.3,226.4 L1388.8,224.9 L1390.3,223.5 L1391.8,222.2 L1393.3,221.1 L1394.8,220.2 L1396.3,219.3 L1397.8,218.5 L1399.3,217.8 L1400.8,217.2 L1402.3,216.6 L1403.8,216.1 L1405.3,215.7 L1406.8,215.4 L1408.3,215.2 L1409.8,215.1 L1411.3,214.9 L1412.8,214.8 L1414.3,214.7 L1415.8,214.6 L1417.3,214.5 L1418.8,214.4 L1420.3,214.3 L1421.8,214.2 L1423.3,214.2 L1424.8,214.2 L1426.3,214.2 L1427.8,214.2 L1429.3,214.2 L1430.8,214.2 L1432.3,214.2 L1433.8,214.3 L1435.3,214.5 L1436.8,214.8 L1438.3,215.1 L1439.8,215.4 L1441.3,215.7 L1442.8,216.1 L1444.3,216.5 L1445.8,216.9 L1447.3,217.4 L1448.8,217.9 L1450.3,218.4 L1451.8,219.0 L1453.3,219.6 L1454.8,220.2 L1456.3,220.9 L1457.8,221.6 L1459.3,222.4 L1460.8,223.2 L1462.3,224.0 L1463.8,224.9 L1465.3,225.8 L1466.8,226.7 L1468.3,227.7 L1469.8,228.7 L1471.3,229.7 L1472.8,230.7 L1474.3,231.7 L1475.8,232.6 L1477.3,233.6 L1478.8,234.6 L1480.3,235.6 L1481.8,236.6 L1483.3,237.6 L1484.8,238.6 L1486.3,239.5 L1487.8,240.5 L1489.3,241.4 L1490.8,242.3 L1492.3,243.2 L1493.8,244.1 L1495.3,244.8 L1496.8,245.3 L1498.3,245.8 L1499.8,246.0 L1501.3,246.0 L1502.8,246.0 L1504.3,246.0 L1505.8,246.0 L1507.3,246.0 L1508.8,245.7 L1510.3,245.3 L1511.8,244.8 L1513.3,244.1 L1514.8,243.2 L1516.3,242.2 L1517.8,241.1 L1519.3,239.8 L1520.8,238.4 L1522.3,237.0 L1523.8,235.6 L1525.3,234.3 L1526.8,232.9 L1528.3,231.6 L1529.8,230.2 L1531.3,228.9 L1532.8,227.5 L1534.3,226.0 L1535.8,224.5 L1537.3,223.2 L1538.8,221.9 L1540.3,220.9 L1541.8,219.9 L1543.3,219.1 L1544.8,218.3 L1546.3,217.6 L1547.8,217.0 L1549.3,216.5 L1550.8,216.0 L1552.3,215.6 L1553.8,215.4 L1555.3,215.2 L1556.8,215.0 L1558.3,214.9 L1559.8,214.8 L1561.3,214.7 L1562.8,214.6 L1564.3,214.5 L1565.8,214.4 L1567.3,214.3 L1568.8,214.2 L1570.3,214.2 L1571.8,214.2 L1573.3,214.2 L1574.8,214.2 L1576.3,214.2 L1577.8,214.2 L1579.3,214.2 L1580.8,214.4 L1582.3,214.6 L1583.8,214.8 L1585.3,215.1 L1586.8,215.5 L1588.3,215.8 L1589.8,216.1 L1591.3,216.6 L1592.8,217.0 L1594.3,217.5 L1595.8,218.0 L1597.3,218.6 L1598.8,219.1 L1600.3,219.7 L1601.8,220.4 L1603.3,221.1 L1604.8,221.8 L1606.3,222.6 L1607.8,223.4 L1609.3,224.3 L1610.8,225.1 L1612.3,226.0 L1613.8,227.0 L1615.3,228.0 L1616.8,229.0 L1618.3,229.9 L1619.8,230.9 L1621.3,231.9 L1622.8,232.9 L1624.3,233.9 L1625.8,234.9 L1627.3,235.8 L1628.8,236.8 L1630.3,237.8 L1631.8,238.8 L1633.3,239.8 L1634.8,240.7 L1636.3,241.6 L1637.8,242.5 L1639.3,243.4 L1640.8,244.3 L1642.3,244.9 L1643.8,245.4 L1645.3,245.9 L1646.8,246.0 L1648.3,246.0 L1649.8,246.0 L1651.3,246.0 L1652.8,246.0 L1654.3,245.9 L1655.8,245.6 L1657.3,245.2 L1658.8,244.7 L1660.3,243.9 L1661.8,243.0 L1663.3,241.9 L1664.0,241.5"/>
<path stroke="#0000ff" d="M197.8,1066.0 L199.3,1051.4 L200.8,1036.1 L202.3,1020.1 L203.8,1003.0 L205.3,985.3 L206.8,968.3 L208.3,951.9 L209.8,936.1 L211.3,921.3 L212.8,907.6 L214.3,893.9 L215.8,878.9 L217.3,862.0 L218.8,843.7 L220.3,825.2 L221.8,806.2 L223.3,787.0 L224.8,769.6 L226.3,754.1 L227.8,739.4 L229.3,724.6 L230.8,709.7 L232.3,694.9 L233.8,680.0 L235.3,664.2 L236.8,650.5 L238.3,640.5 L239.8,631.4 L241.3,620.3 L242.8,605.6 L244.3,589.6 L245.8,575.1 L247.3,562.1 L248.8,549.9 L250.3,538.2 L251.8,527.0 L253.3,516.4 L254.8,506.1 L256.3,496.2 L257.8,486.7 L259.3,477.4 L260.8,468.4 L262.3,459.6 L263.8,451.0 L265.3,442.7 L266.8,434.7 L268.3,427.1 L269.8,419.5 L271.3,412.3 L272.8,406.0 L274.3,401.0 L275.8,396.7 L277.3,392.9 L278.8,389.6 L280.3,386.6 L281.8,383.9 L283.3,381.5 L284.8,379.3 L286.3,377.3 L287.8,375.5 L289.3,373.9 L290.8,372.5 L292.3,371.1 L293.8,369.9 L295.3,368.7 L296.8,367.7 L298.3,366.8 L299.8,365.9 L301.3,365.1 L302.8,364.3 L304.3,363.7 L305.8,363.1 L307.3,362.5 L308.8,362.1 L310.3,361.7 L311.8,361.3 L313.3,360.9 L314.8,360.5 L316.3,360.0 L317.8,359.5 L319.3,358.9 L320.8,358.2 L322.3,357.4 L323.8,356.6 L325.3,355.7 L326.8,354.6 L328.3,353.3 L329.8,351.9 L331.3,350.3 L332.8,348.6 L334.3,346.9 L335.8,345.0 L337.3,343.0 L338.8,340.8 L340.3,338.5 L341.8,336.1 L343.3,333.5 L344.8,330.7 L346.3,327.7 L347.8,324.4 L349.3,321.0 L350.8,317.5 L352.3,314.1 L353.8,310.7 L355.3,307.3 L356.8,303.8 L358.3,300.3 L359.8,296.7 L361.3,293.1 L362.8,289.4 L364.3,285.6 L365.8,281.7 L367.3,277.8 L368.8,274.1 L370.3,270.6 L371.8,267.3 L373.3,264.1 L374.8,261.0 L376.3,258.0 L377.8,255.3 L379.3,252.7 L380.8,250.2 L382.3,247.9 L383.8,245.6 L385.3,243.6 L386.8,241.7 L388.3,240.0 L389.8,238.5 L391.3,237.1 L392.8,235.8 L394.3,234.6 L395.8,233.5 L397.3,232.6 L398.8,231.7 L400.3,230.9 L401.8,230.1 L403.3,229.4 L404.8,228.9 L406.3,228.7 L407.8,228.6 L409.3,228.5 L410.8,228.4 L412.3,228.4 L413.8,228.3 L415.3,228.3 L416.8,228.3 L418.3,228.3 L419.8,228.3 L421.3,228.3 L422.8,228.3 L424.3,228.3 L425.8,228.6 L427.3,229.2 L428.8,229.9 L430.3,230.7 L431.8,231.6 L433.3,232.3 L434.8,233.2 L436.3,234.1 L437.8,235.0 L439.3,236.0 L440.8,237.1 L442.3,238.1 L443.8,239.2 L445.3,240.4 L446.8,241.6 L448.3,242.8 L449.8,244.0 L451.3,245.3 L452.8,246.6 L454.3,247.8 L455.8,249.0 L457.3,250.3 L458.8,251.5 L460.3,252.8 L461.8,254.0 L463.3,255.1 L464.8,256.2 L466.3,257.1 L467.8,258.0 L469.3,258.9 L470.8,259.6 L472.3,260.2 L473.8,260.4 L475.3,260.7 L476.8,260.8 L478.3,261.0 L479.8,261.0 L481.3,261.0 L482.8,261.0 L484.3,260.9 L485.8,260.8 L487.3,260.7 L488.8,260.5 L490.3,260.3 L490.4,260.3 L491.8,259.3 L493.3,258.4 L494.8,257.4 L496.3,256.5 L497.8,255.5 L499.3,254.3 L500.8,253.1 L502.3,251.6 L503.8,250.1 L505.3,248.5 L506.8,246.9 L508.3,245.3 L509.8,243.9 L511.3,242.4 L512.8,240.9 L514.3,239.4 L515.8,238.0 L517.3,236.6 L518.8,235.3 L520.3,234.1 L521.8,233.0 L523.3,231.9 L524.8,230.8 L526.3,229.8 L527.8,228.9 L529.3,228.1 L530.8,227.5 L532.3,226.9 L533.8,226.3 L535.3,225.7 L536.8,225.3 L538.3,224.9 L539.8,224.5 L541.3,224.2 L542.8,224.0 L544.3,223.8 L545.8,223.5 L547.3,223.3 L548.8,223.2 L550.3,223.1 L551.8,223.1 L553.3,223.1 L554.8,223.1 L556.3,223.2 L557.8,223.2 L559.3,223.2 L560.8,223.3 L562.3,223.4 L563.8,223.4 L565.3,223.7 L566.8,224.2 L568.3,224.8 L569.8,225.5 L571.3,226.2 L572.8,227.1 L574.3,227.9 L575.8,228.7 L577.3,229.5 L578.8,230.5 L580.3,231.5 L581.8,232.6 L583.3,233.7 L584.8,234.8 L586.3,235.9 L587.8,237.1 L589.3,238.2 L590.8,239.4 L592.3,240.7 L593.8,241.9 L595.3,243.2 L596.8,244.4 L598.3,245.7 L599.8,246.9 L601.3,248.1 L602.8,249.4 L604.3,250.6 L605.8,251.8 L607.3,252.9 L608.8,254.0 L610.3,255.0 L611.8,256.0 L613.3,257.0 L614.8,257.9 L616.3,258.8 L617.8,259.4 L619.3,259.8 L620.8,259.9 L622.3,260.0 L623.8,260.1 L625.3,260.2 L626.8,260.3 L628.3,260.3 L629.8,260.3 L631.3,260.3 L632.8,260.2 L634.3,260.2 L635.8,260.1 L637.3,259.9 L637.6,259.9 L638.8,258.9 L640.3,257.5 L641.8,256.1 L643.3,254.8 L644.8,253.4 L646.3,251.9 L647.8,250.5 L649.3,249.1 L650.8,247.6 L652.3,246.2 L653.8,244.8 L655.3,243.3 L656.8,241.9 L658.3,240.5 L659.8,239.1 L661.3,237.8 L662.8,236.4 L664.3,235.2 L665.8,233.9 L667.3,232.8 L668.8,231.7 L670.3,230.7 L671.8,229.7 L673.3,228.9 L674.8,228.1 L676.3,227.4 L677.8,226.7 L679.3,226.0 L680.8,225.5 L682.3,225.1 L683.8,224.8 L685.3,224.5 L686.8,224.3 L688.3,224.1 L689.8,223.9 L691.3,223.8 L692.8,223.7 L694.3,223.6 L695.8,223.5 L697.3,223.5 L698.8,223.5 L700.3,223.5 L701.8,223.5 L703.3,223.5 L704.8,223.5 L706.3,223.5 L707.8,223.5 L709.3,223.5 L710.8,223.5 L712.3,223.8 L713.8,224.3 L715.3,224.9 L716.8,225.6 L718.3,226.3 L719.8,227.2 L721.3,228.0 L722.8,228.9 L724.3,229.8 L725.8,230.7 L727.3,231.7 L728.8,232.8 L730.3,234.0 L731.8,235.3 L733.3,236.6 L734.8,238.1 L736.3,239.5 L737.8,240.8 L739.3,242.1 L740.8,243.4 L742.3,244.7 L743.8,246.0 L745.3,247.2 L746.8,248.5 L748.3,249.7 L749.8,250.9 L751.3,252.1 L752.8,253.1 L754.3,254.1 L755.8,255.1 L757.3,256.0 L758.8,256.8 L760.3,257.5 L761.8,258.1 L763.3,258.6 L764.8,259.1 L766.3,259.5 L767.8,259.7 L769.3,259.8 L770.8,259.9 L772.3,259.9 L773.8,259.9 L775.3,259.9 L776.8,259.9 L778.3,259.9 L779.8,259.9 L781.3,259.9 L782.8,259.9 L784.3,259.9 L784.3,259.9 L785.8,258.5 L787.3,257.2 L788.8,255.8 L790.3,254.4 L791.8,253.0 L793.3,251.6 L794.8,250.1 L796.3,248.7 L797.8,247.3 L799.3,245.8 L800.8,244.4 L802.3,243.0 L803.8,241.5 L805.3,240.2 L806.8,238.8 L808.3,237.4 L809.8,236.1 L811.3,234.8 L812.8,233.7 L814.3,232.5 L815.8,231.5 L817.3,230.5 L818.8,229.5 L820.3,228.7 L821.8,227.9 L823.3,227.2 L824.8,226.5 L826.3,225.9 L827.8,225.4 L829.3,225.0 L830.8,224.7 L832.3,224.5 L833.8,224.2 L835.3,224.1 L836.8,223.9 L838.3,223.8 L839.8,223.6 L841.3,223.6 L842.8,223.5 L844.3,223.5 L845.8,223.5 L847.3,223.5 L848.8,223.5 L850.3,223.5 L851.8,223.5 L853.3,223.5 L854.8,223.5 L856.3,223.5 L857.8,223.5 L859.3,223.9 L860.8,224.4 L862.3,225.0 L863.8,225.7 L865.3,226.5 L866.8,227.4 L868.3,228.2 L869.8,229.1 L871.3,230.0 L872.8,231.0 L874.3,232.0 L875.8,233.1 L877.3,234.3 L878.8,235.6 L880.3,237.0 L881.8,238.4 L883.3,239.8 L884.8,241.1 L886.3,242.4 L887.8,243.7 L889.3,245.0 L890.8,246.3 L892.3,247.5 L893.8,248.8 L895.3,250.0 L896.8,251.2 L898.3,252.3 L899.8,253.4 L901.3,254.4 L902.8,255.3 L904.3,256.2 L905.8,257.0 L907.3,257.6 L908.8,258.2 L910.3,258.8 L911.8,259.2 L913.3,259.5 L914.8,259.7 L916.3,259.8 L917.8,259.9 L919.3,259.9 L920.8,259.9 L922.3,259.9 L923.8,259.9 L925.3,259.9 L926.8,259.9 L928.3,259.9 L929.8,259.9 L930.9,259.9 L931.3,259.7 L932.8,258.2 L934.3,256.8 L935.8,255.5 L937.3,254.1 L938.8,252.6 L940.3,251.2 L941.8,249.8 L943.3,248.4 L944.8,246.9 L946.3,245.5 L947.8,244.0 L949.3,242.6 L950.8,241.2 L952.3,239.8 L953.8,238.5 L955.3,237.1 L956.8,235.8 L958.3,234.5 L959.8,233.4 L961.3,232.3 L962.8,231.2 L964.3,230.2 L965.8,229.3 L967.3,228.5 L968.8,227.7 L970.3,227.0 L971.8,226.3 L973.3,225.8 L974.8,225.3 L976.3,225.0 L977.8,224.7 L979.3,224.4 L980.8,224.2 L982.3,224.0 L983.8,223.9 L985.3,223.7 L986.8,223.6 L988.3,223.5 L989.8,223.5 L991.3,223.5 L992.8,223.5 L994.3,223.5 L995.8,223.5 L997.3,223.5 L998.8,223.5 L1000.3,223.5 L1001.8,223.5 L1003.3,223.5 L1004.8,223.6 L1006.3,224.1 L1007.8,224.6 L1009.3,225.2 L1010.8,225.9 L1012.3,226.7 L1013.8,227.6 L1015.3,228.4 L1016.8,229.3 L1018.3,230.2 L1019.8,231.2 L1021.3,232.3 L1022.8,233.4 L1024.3,234.6 L1025.8,235.9 L1027.3,237.3 L1028.8,238.8 L1030.3,240.1 L1031.8,241.5 L1033.3,242.8 L1034.8,244.1 L1036.3,245.3 L1037.8,246.6 L1039.3,247.8 L1040.8,249.1 L1042.3,250.3 L1043.8,251.5 L1045.3,252.6 L1046.8,253.6 L1048.3,254.6 L1049.8,255.5 L1051.3,256.4 L1052.8,257.1 L1054.3,257.8 L1055.8,258.4 L1057.3,258.9 L1058.8,259.3 L1060.3,259.6 L1061.8,259.7 L1063.3,259.8 L1064.8,259.9 L1066.3,259.9 L1067.8,259.9 L1069.3,259.9 L1070.8,259.9 L1072.3,259.9 L1073.8,259.9 L1075.3,259.9 L1076.8,259.9 L1077.5,259.9 L1078.3,259.3 L1079.8,257.8 L1081.3,256.5 L1082.8,255.1 L1084.3,253.7 L1085.8,252.3 L1087.3,250.9 L1088.8,249.4 L1090.3,248.0 L1091.8,246.6 L1093.3,245.1 L1094.8,243.7 L1096.3,242.2 L1097.8,240.8 L1099.3,239.5 L1100.8,238.1 L1102.3,236.8 L1103.8,235.5 L1105.3,234.2 L1106.8,233.1 L1108.3,232.0 L1109.8,231.0 L1111.3,230.0 L1112.8,229.1 L1114.3,228.3 L1115.8,227.5 L1117.3,226.8 L1118.8,226.2 L1120.3,225.6 L1121.8,225.2 L1123.3,224.9 L1124.8,224.6 L1126.3,224.4 L1127.8,224.1 L1129.3,224.0 L1130.8,223.8 L1132.3,223.7 L1133.8,223.6 L1135.3,223.5 L1136.8,223.5 L1138.3,223.5 L1139.8,223.5 L1141.3,223.5 L1142.8,223.5 L1144.3,223.5 L1145.8,223.5 L1147.3,223.5 L1148.8,223.5 L1150.3,223.5 L1151.8,223.7 L1153.3,224.2 L1154.8,224.7 L1156.3,225.4 L1157.8,226.1 L1159.3,226.9 L1160.8,227.8 L1162.3,228.6 L1163.8,229.5 L1165.3,230.5 L1166.8,231.5 L1168.3,232.5 L1169.8,233.7 L1171.3,234.9 L1172.8,236.3 L1174.3,237.7 L1175.8,239.1 L1177.3,240.5 L1178.8,241.8 L1180.3,243.1 L1181.8,244.4 L1183.3,245.7 L1184.8,246.9 L1186.3,248.2 L1187.8,249.4 L1189.3,250.6 L1190.8,251.8 L1192.3,252.9 L1193.8,253.9 L1195.3,254.8 L1196.8,255.7 L1198.3,256.6 L1199.8,257.3 L1201.3,257.9 L1202.8,258.5 L1204.3,259.0 L1205.8,259.4 L1207.3,259.6 L1208.8,259.8 L1210.3,259.9 L1211.8,259.9 L1213.3,259.9 L1214.8,259.9 L1216.3,259.9 L1217.8,259.9 L1219.3,259.9 L1220.8,259.9 L1222.3,259.9 L1223.8,259.9 L1224.2,259.9 L1225.3,258.9 L1226.8,257.5 L1228.3,256.1 L1229.8,254.8 L1231.3,253.4 L1232.8,251.9 L1234.3,250.5 L1235.8,249.1 L1237.3,247.6 L1238.8,246.2 L1240.3,244.8 L1241.8,243.3 L1243.3,241.9 L1244.8,240.5 L1246.3,239.1 L1247.8,237.8 L1249.3,236.4 L1250.8,235.2 L1252.3,233.9 L1253.8,232.8 L1255.3,231.7 L1256.8,230.7 L1258.3,229.7 L1259.8,228.9 L1261.3,228.1 L1262.8,227.4 L1264.3,226.7 L1265.8,226.0 L1267.3,225.5 L1268.8,225.1 L1270.3,224.8 L1271.8,224.5 L1273.3,224.3 L1274.8,224.1 L1276.3,223.9 L1277.8,223.8 L1279.3,223.7 L1280.8,223.6 L1282.3,223.5 L1283.8,223.5 L1285.3,223.5 L1286.8,223.5 L1288.3,223.5 L1289.8,223.5 L1291.3,223.5 L1292.8,223.5 L1294.3,223.5 L1295.8,223.5 L1297.3,223.5 L1298.8,223.8 L1300.3,224.3 L1301.8,224.9 L1303.3,225.6 L1304.8,226.3 L1306.3,227.2 L1307.8,228.0 L1309.3,228.9 L1310.8,229.8 L1312.3,230.7 L1313.8,231.7 L1315.3,232.8 L1316.8,234.0 L1318.3,235.3 L1319.8,236.6 L1321.3,238.1 L1322.8,239.5 L1324.3,240.8 L1325.8,242.1 L1327.3,243.4 L1328.8,244.7 L1330.3,246.0 L1331.8,247.2 L1333.3,248.5 L1334.8,249.7 L1336.3,250.9 L1337.8,252.1 L1339.3,253.1 L1340.8,254.1 L1342.3,255.1 L1343.8,256.0 L1345.3,256.8 L1346.8,257.5 L1348.3,258.1 L1349.8,258.6 L1351.3,259.1 L1352.8,259.5 L1354.3,259.7 L1355.8,259.8 L1357.3,259.9 L1358.8,259.9 L1360.3,259.9 L1361.8,259.9 L1363.3,259.9 L1364.8,259.9 L1366.3,259.9 L1367.8,259.9 L1369.3,259.9 L1370.8,259.9 L1370.8,259.9 L1372.3,258.5 L1373.8,257.2 L1375.3,255.8 L1376.8,254.4 L1378.3,253.0 L1379.8,251.6 L1381.3,250.1 L1382.8,248.7 L1384.3,247.3 L1385.8,245.8 L1387.3,244.4 L1388.8,243.0 L1390.3,241.5 L1391.8,240.2 L1393.3,238.8 L1394.8,237.4 L1396.3,236.1 L1397.8,234.8 L1399.3,233.7 L1400.8,232.5 L1402.3,231.5 L1403.8,230.5 L1405.3,229.5 L1406.8,228.7 L1408.3,227.9 L1409.8,227.2 L1411.3,226.5 L1412.8,225.9 L1414.3,225.4 L1415.8,225.0 L1417.3,224.7 L1418.8,224.5 L1420.3,224.2 L1421.8,224.1 L1423.3,223.9 L1424.8,223.8 L1426.3,223.6 L1427.8,223.6 L1429.3,223.5 L1430.8,223.5 L1432.3,223.5 L1433.8,223.5 L1435.3,223.5 L1436.8,223.5 L1438.3,223.5 L1439.8,223.5 L1441.3,223.5 L1442.8,223.5 L1444.3,223.5 L1445.8,223.9 L1447.3,224.4 L1448.8,225.0 L1450.3,225.7 L1451.8,226.5 L1453.3,227.4 L1454.8,228.2 L1456.3,229.1 L1457.8,230.0 L1459.3,231.0 L1460.8,232.0 L1462.3,233.1 L1463.8,234.3 L1465.3,235.6 L1466.8,237.0 L1468.3,238.4 L1469.8,239.8 L1471.3,241.1 L1472.8,242.4 L1474.3,243.7 L1475.8,245.0 L1477.3,246.3 L1478.8,247.5 L1480.3,248.8 L1481.8,250.0 L1483.3,251.2 L1484.8,252.3 L1486.3,253.4 L1487.8,254.4 L1489.3,255.3 L1490.8,256.2 L1492.3,257.0 L1493.8,257.6 L1495.3,258.2 L1496.8,258.8 L1498.3,259.2 L1499.8,259.5 L1501.3,259.7 L1502.8,259.8 L1504.3,259.9 L1505.8,259.9 L1507.3,259.9 L1508.8,259.9 L1510.3,259.9 L1511.8,259.9 L1513.3,259.9 L1514.8,259.9 L1516.3,259.9 L1517.4,259.9 L1517.8,259.7 L1519.3,258.2 L1520.8,256.8 L1522.3,255.5 L1523.8,254.1 L1525.3,252.6 L1526.8,251.2 L1528.3,249.8 L1529.8,248.4 L1531.3,246.9 L1532.8,245.5 L1534.3,244.0 L1535.8,242.6 L1537.3,241.2 L1538.8,239.8 L1540.3,238.5 L1541.8,237.1 L1543.3,235.8 L1544.8,234.5 L1546.3,233.4 L1547.8,232.3 L1549.3,231.2 L1550.8,230.2 L1552.3,229.3 L1553.8,228.5 L1555.3,227.7 L1556.8,227.0 L1558.3,226.3 L1559.8,225.8 L1561.3,225.3 L1562.8,225.0 L1564.3,224.7 L1565.8,224.4 L1567.3,224.2 L1568.8,224.0 L1570.3,223.9 L1571.8,223.7 L1573.3,223.6 L1574.8,223.5 L1576.3,223.5 L1577.8,223.5 L1579.3,223.5 L1580.8,223.5 L1582.3,223.5 L1583.8,223.5 L1585.3,223.5 L1586.8,223.5 L1588.3,223.5 L1589.8,223.5 L1591.3,223.6 L1592.8,224.1 L1594.3,224.6 L1595.8,225.2 L1597.3,225.9 L1598.8,226.7 L1600.3,227.6 L1601.8,228.4 L1603.3,229.3 L1604.8,230.2 L1606.3,231.2 L1607.8,232.3 L1609.3,233.4 L1610.8,234.6 L1612.3,235.9 L1613.8,237.3 L1615.3,238.8 L1616.8,240.1 L1618.3,241.5 L1619.8,242.8 L1621.3,244.1 L1622.8,245.3 L1624.3,246.6 L1625.8,247.8 L1627.3,249.1 L1628.8,250.3 L1630.3,251.5 L1631.8,252.6 L1633.3,253.6 L1634.8,254.6 L1636.3,255.5 L1637.8,256.4 L1639.3,257.1 L1640.8,257.8 L1642.3,258.4 L1643.8,258.9 L1645.3,259.3 L1646.8,259.6 L1648.3,259.7 L1649.8,259.8 L1651.3,259.9 L1652.8,259.9 L1654.3,259.9 L1655.8,259.9 L1657.3,259.9 L1658.8,259.9 L1660.3,259.9 L1661.8,259.9 L1663.3,259.9 L1664.0,259.9" stroke-width="5.6" stroke-linejoin="round" shape-rendering="auto"/>
<path stroke="#0000ff" d="M197.8,1066.0 L199.3,1051.4 L200.8,1036.1 L202.3,1020.1 L203.8,1003.0 L205.3,985.3 L206.8,968.3 L208.3,951.9 L209.8,936.1 L211.3,921.3 L212.8,907.6 L214.3,893.9 L215.8,878.9 L217.3,862.0 L218.8,843.7 L220.3,825.2 L221.8,806.2 L223.3,787.0 L224.8,769.6 L226.3,754.1 L227.8,739.4 L229.3,724.6 L230.8,709.7 L232.3,694.9 L233.8,680.0 L235.3,664.2 L236.8,650.5 L238.3,640.5 L239.8,631.4 L241.3,620.3 L242.8,605.6 L244.3,589.6 L245.8,575.1 L247.3,562.1 L248.8,549.9 L250.3,538.2 L251.8,527.0 L253.3,516.4 L254.8,506.1 L256.3,496.2 L257.8,486.7 L259.3,477.4 L260.8,468.4 L262.3,459.6 L263.8,451.0 L265.3,442.7 L266.8,434.7 L268.3,427.1 L269.8,419.5 L271.3,412.3 L272.8,406.0 L274.3,401.0 L275.8,396.7 L277.3,392.9 L278.8,389.6 L280.3,386.6 L281.8,383.9 L283.3,381.5 L284.8,379.3 L286.3,377.3 L287.8,375.5 L289.3,373.9 L290.8,372.5 L292.3,371.1 L293.8,369.9 L295.3,368.7 L296.8,367.7 L298.3,366.8 L299.8,365.9 L301.3,365.1 L302.8,364.3 L304.3,363.7 L305.8,363.1 L307.3,362.5 L308.8,362.1 L310.3,361.7 L311.8,361.3 L313.3,360.9 L314.8,360.5 L316.3,360.0 L317.8,359.5 L319.3,358.9 L320.8,358.2 L322.3,357.4 L323.8,356.6 L325.3,355.7 L326.8,354.6 L328.3,353.3 L329.8,351.9 L331.3,350.3 L332.8,348.6 L334.3,346.9 L335.8,345.0 L337.3,343.0 L338.8,340.8 L340.3,338.5 L341.8,336.1 L343.3,333.5 L344.8,330.7 L346.3,327.7 L347.8,324.4 L349.3,321.0 L350.8,317.5 L352.3,314.1 L353.8,310.7 L355.3,307.3 L356.8,303.8 L358.3,300.3 L359.8,296.7 L361.3,293.1 L362.8,289.4 L364.3,285.6 L365.8,281.7 L367.3,277.8 L368.8,274.1 L370.3,270.6 L371.8,267.3 L373.3,264.1 L374.8,261.0 L376.3,258.0 L377.8,255.3 L379.3,252.7 L380.8,250.2 L382.3,247.9 L383.8,245.6 L385.3,243.6 L386.8,241.7 L388.3,240.0 L389.8,238.5 L391.3,237.1 L392.8,235.8 L394.3,234.6 L395.8,233.5 L397.3,232.6 L398.8,231.7 L400.3,230.9 L401.8,230.1 L403.3,229.4 L404.8,228.9 L406.3,228.7 L407.8,228.6 L409.3,228.5 L410.8,228.4 L412.3,228.4 L413.8,228.3 L415.3,228.3 L416.8,228.3 L418.3,228.3 L419.8,228.3 L421.3,228.3 L422.8,228.3 L424.3,228.3 L425.8,228.6 L427.3,229.2 L428.8,229.9 L430.3,230.7 L431.8,231.6 L433.3,232.3 L434.8,233.2 L436.3,234.1 L437.8,235.0 L439.3,236.0 L440.8,237.1 L442.3,238.1 L443.8,239.2 L445.3,240.4 L446.8,241.6 L448.3,242.8 L449.8,244.0 L451.3,245.3 L452.8,246.6 L454.3,247.8 L455.8,249.0 L457.3,250.3 L458.8,251.5 L460.3,252.8 L461.8,254.0 L463.3,255.1 L464.8,256.2 L466.3,257.1 L467.8,258.0 L469.3,258.9 L470.8,259.6 L472.3,260.2 L473.8,260.4 L475.3,260.7 L476.8,260.8 L478.3,261.0 L479.8,261.0 L481.3,261.0 L482.8,261.0 L484.3,260.9 L485.8,260.8 L487.3,260.7 L488.8,260.5 L490.3,260.3 L490.4,260.3 L491.8,259.3 L493.3,258.4 L494.8,257.4 L496.3,256.5 L497.8,255.5 L499.3,254.3 L500.8,253.1 L502.3,251.6 L503.8,250.1 L505.3,248.5 L506.8,246.9 L508.3,245.3 L509.8,243.9 L511.3,242.4 L512.8,240.9 L514.3,239.4 L515.8,238.0 L517.3,236.6 L518.8,235.3 L520.3,234.1 L521.8,233.0 L523.3,231.9 L524.8,230.8 L526.3,229.8 L527.8,228.9 L529.3,228.1 L530.8,227.5 L532.3,226.9 L533.8,226.3 L535.3,225.7 L536.8,225.3 L538.3,224.9 L539.8,224.5 L541.3,224.2 L542.8,224.0 L544.3,223.8 L545.8,223.5 L547.3,223.3 L548.8,223.2 L550.3,223.1 L551.8,223.1 L553.3,223.1 L554.8,223.1 L556.3,223.2 L557.8,223.2 L559.3,223.2 L560.8,223.3 L562.3,223.4 L563.8,223.4 L565.3,223.7 L566.8,224.2 L568.3,224.8 L569.8,225.5 L571.3,226.2 L572.8,227.1 L574.3,227.9 L575.8,228.7 L577.3,229.5 L578.8,230.5 L580.3,231.5 L581.8,232.6 L583.3,233.7 L584.8,234.8 L586.3,235.9 L587.8,237.1 L589.3,238.2 L590.8,239.4 L592.3,240.7 L593.8,241.9 L595.3,243.2 L596.8,244.4 L598.3,245.7 L599.8,246.9 L601.3,248.1 L602.8,249.4 L604.3,250.6 L605.8,251.8 L607.3,252.9 L608.8,254.0 L610.3,255.0 L611.8,256.0 L613.3,257.0 L614.8,257.9 L616.3,258.8 L617.8,259.4 L619.3,259.8 L620.8,259.9 L622.3,260.0 L623.8,260.1 L625.3,260.2 L626.8,260.3 L628.3,260.3 L629.8,260.3 L631.3,260.3 L632.8,260.2 L634.3,260.2 L635.8,260.1 L637.3,259.9 L637.6,259.9 L638.8,258.9 L640.3,257.5 L641.8,256.1 L643.3,254.8 L644.8,253.4 L646.3,251.9 L647.8,250.5 L649.3,249.1 L650.8,247.6 L652.3,246.2 L653.8,244.8 L655.3,243.3 L656.8,241.9 L658.3,240.5 L659.8,239.1 L661.3,237.8 L662.8,236.4 L664.3,235.2 L665.8,233.9 L667.3,232.8 L668.8,231.7 L670.3,230.7 L671.8,229.7 L673.3,228.9 L674.8,228.1 L676.3,227.4 L677.8,226.7 L679.3,226.0 L680.8,225.5 L682.3,225.1 L683.8,224.8 L685.3,224.5 L686.8,224.3 L688.3,224.1 L689.8,223.9 L691.3,223.8 L692.8,223.7 L694.3,223.6 L695.8,223.5 L697.3,223.5 L698.8,223.5 L700.3,223.5 L701.8,223.5 L703.3,223.5 L704.8,223.5 L706.3,223.5 L707.8,223.5 L709.3,223.5 L710.8,223.5 L712.3,223.8 L713.8,224.3 L715.3,224.9 L716.8,225.6 L718.3,226.3 L719.8,227.2 L721.3,228.0 L722.8,228.9 L724.3,229.8 L725.8,230.7 L727.3,231.7 L728.8,232.8 L730.3,234.0 L731.8,235.3 L733.3,236.6 L734.8,238.1 L736.3,239.5 L737.8,240.8 L739.3,242.1 L740.8,243.4 L742.3,244.7 L743.8,246.0 L745.3,247.2 L746.8,248.5 L748.3,249.7 L749.8,250.9 L751.3,252.1 L752.8,253.1 L754.3,254.1 L755.8,255.1 L757.3,256.0 L758.8,256.8 L760.3,257.5 L761.8,258.1 L763.3,258.6 L764.8,259.1 L766.3,259.5 L767.8,259.7 L769.3,259.8 L770.8,259.9 L772.3,259.9 L773.8,259.9 L775.3,259.9 L776.8,259.9 L778.3,259.9 L779.8,259.9 L781.3,259.9 L782.8,259.9 L784.3,259.9 L784.3,259.9 L785.8,258.5 L787.3,257.2 L788.8,255.8 L790.3,254.4 L791.8,253.0 L793.3,251.6 L794.8,250.1 L796.3,248.7 L797.8,247.3 L799.3,245.8 L800.8,244.4 L802.3,243.0 L803.8,241.5 L805.3,240.2 L806.8,238.8 L808.3,237.4 L809.8,236.1 L811.3,234.8 L812.8,233.7 L814.3,232.5 L815.8,231.5 L817.3,230.5 L818.8,229.5 L820.3,228.7 L821.8,227.9 L823.3,227.2 L824.8,226.5 L826.3,225.9 L827.8,225.4 L829.3,225.0 L830.8,224.7 L832.3,224.5 L833.8,224.2 L835.3,224.1 L836.8,223.9 L838.3,223.8 L839.8,223.6 L841.3,223.6 L842.8,223.5 L844.3,223.5 L845.8,223.5 L847.3,223.5 L848.8,223.5 L850.3,223.5 L851.8,223.5 L853.3,223.5 L854.8,223.5 L856.3,223.5 L857.8,223.5 L859.3,223.9 L860.8,224.4 L862.3,225.0 L863.8,225.7 L865.3,226.5 L866.8,227.4 L868.3,228.2 L869.8,229.1 L871.3,230.0 L872.8,231.0 L874.3,232.0 L875.8,233.1 L877.3,234.3 L878.8,235.6 L880.3,237.0 L881.8,238.4 L883.3,239.8 L884.8,241.1 L886.3,242.4 L887.8,243.7 L889.3,245.0 L890.8,246.3 L892.3,247.5 L893.8,248.8 L895.3,250.0 L896.8,251.2 L898.3,252.3 L899.8,253.4 L901.3,254.4 L902.8,255.3 L904.3,256.2 L905.8,257.0 L907.3,257.6 L908.8,258.2 L910.3,258.8 L911.8,259.2 L913.3,259.5 L914.8,259.7 L916.3,259.8 L917.8,259.9 L919.3,259.9 L920.8,259.9 L922.3,259.9 L923.8,259.9 L925.3,259.9 L926.8,259.9 L928.3,259.9 L929.8,259.9 L930.9,259.9 L931.3,259.7 L932.8,258.2 L934.3,256.8 L935.8,255.5 L937.3,254.1 L938.8,252.6 L940.3,251.2 L941.8,249.8 L943.3,248.4 L944.8,246.9 L946.3,245.5 L947.8,244.0 L949.3,242.6 L950.8,241.2 L952.3,239.8 L953.8,238.5 L955.3,237.1 L956.8,235.8 L958.3,234.5 L959.8,233.4 L961.3,232.3 L962.8,231.2 L964.3,230.2 L965.8,229.3 L967.3,228.5 L968.8,227.7 L970.3,227.0 L971.8,226.3 L973.3,225.8 L974.8,225.3 L976.3,225.0 L977.8,224.7 L979.3,224.4 L980.8,224.2 L982.3,224.0 L983.8,223.9 L985.3,223.7 L986.8,223.6 L988.3,223.5 L989.8,223.5 L991.3,223.5 L992.8,223.5 L994.3,223.5 L995.8,223.5 L997.3,223.5 L998.8,223.5 L1000.3,223.5 L1001.8,223.5 L1003.3,223.5 L1004.8,223.6 L1006.3,224.1 L1007.8,224.6 L1009.3,225.2 L1010.8,225.9 L1012.3,226.7 L1013.8,227.6 L1015.3,228.4 L1016.8,229.3 L1018.3,230.2 L1019.8,231.2 L1021.3,232.3 L1022.8,233.4 L1024.3,234.6 L1025.8,235.9 L1027.3,237.3 L1028.8,238.8 L1030.3,240.1 L1031.8,241.5 L1033.3,242.8 L1034.8,244.1 L1036.3,245.3 L1037.8,246.6 L1039.3,247.8 L1040.8,249.1 L1042.3,250.3 L1043.8,251.5 L1045.3,252.6 L1046.8,253.6 L1048.3,254.6 L1049.8,255.5 L1051.3,256.4 L1052.8,257.1 L1054.3,257.8 L1055.8,258.4 L1057.3,258.9 L1058.8,259.3 L1060.3,259.6 L1061.8,259.7 L1063.3,259.8 L1064.8,259.9 L1066.3,259.9 L1067.8,259.9 L1069.3,259.9 L1070.8,259.9 L1072.3,259.9 L1073.8,259.9 L1075.3,259.9 L1076.8,259.9 L1077.5,259.9 L1078.3,259.3 L1079.8,257.8 L1081.3,256.5 L1082.8,255.1 L1084.3,253.7 L1085.8,252.3 L1087.3,250.9 L1088.8,249.4 L1090.3,248.0 L1091.8,246.6 L1093.3,245.1 L1094.8,243.7 L1096.3,242.2 L1097.8,240.8 L1099.3,239.5 L1100.8,238.1 L1102.3,236.8 L1103.8,235.5 L1105.3,234.2 L1106.8,233.1 L1108.3,232.0 L1109.8,231.0 L1111.3,230.0 L1112.8,229.1 L1114.3,228.3 L1115.8,227.5 L1117.3,226.8 L1118.8,226.2 L1120.3,225.6 L1121.8,225.2 L1123.3,224.9 L1124.8,224.6 L1126.3,224.4 L1127.8,224.1 L1129.3,224.0 L1130.8,223.8 L1132.3,223.7 L1133.8,223.6 L1135.3,223.5 L1136.8,223.5 L1138.3,223.5 L1139.8,223.5 L1141.3,223.5 L1142.8,223.5 L1144.3,223.5 L1145.8,223.5 L1147.3,223.5 L1148.8,223.5 L1150.3,223.5 L1151.8,223.7 L1153.3,224.2 L1154.8,224.7 L1156.3,225.4 L1157.8,226.1 L1159.3,226.9 L1160.8,227.8 L1162.3,228.6 L1163.8,229.5 L1165.3,230.5 L1166.8,231.5 L1168.3,232.5 L1169.8,233.7 L1171.3,234.9 L1172.8,236.3 L1174.3,237.7 L1175.8,239.1 L1177.3,240.5 L1178.8,241.8 L1180.3,243.1 L1181.8,244.4 L1183.3,245.7 L1184.8,246.9 L1186.3,248.2 L1187.8,249.4 L1189.3,250.6 L1190.8,251.8 L1192.3,252.9 L1193.8,253.9 L1195.3,254.8 L1196.8,255.7 L1198.3,256.6 L1199.8,257.3 L1201.3,257.9 L1202.8,258.5 L1204.3,259.0 L1205.8,259.4 L1207.3,259.6 L1208.8,259.8 L1210.3,259.9 L1211.8,259.9 L1213.3,259.9 L1214.8,259.9 L1216.3,259.9 L1217.8,259.9 L1219.3,259.9 L1220.8,259.9 L1222.3,259.9 L1223.8,259.9 L1224.2,259.9 L1225.3,258.9 L1226.8,257.5 L1228.3,256.1 L1229.8,254.8 L1231.3,253.4 L1232.8,251.9 L1234.3,250.5 L1235.8,249.1 L1237.3,247.6 L1238.8,246.2 L1240.3,244.8 L1241.8,243.3 L1243.3,241.9 L1244.8,240.5 L1246.3,239.1 L1247.8,237.8 L1249.3,236.4 L1250.8,235.2 L1252.3,233.9 L1253.8,232.8 L1255.3,231.7 L1256.8,230.7 L1258.3,229.7 L1259.8,228.9 L1261.3,228.1 L1262.8,227.4 L1264.3,226.7 L1265.8,226.0 L1267.3,225.5 L1268.8,225.1 L1270.3,224.8 L1271.8,224.5 L1273.3,224.3 L1274.8,224.1 L1276.3,223.9 L1277.8,223.8 L1279.3,223.7 L1280.8,223.6 L1282.3,223.5 L1283.8,223.5 L1285.3,223.5 L1286.8,223.5 L1288.3,223.5 L1289.8,223.5 L1291.3,223.5 L1292.8,223.5 L1294.3,223.5 L1295.8,223.5 L1297.3,223.5 L1298.8,223.8 L1300.3,224.3 L1301.8,224.9 L1303.3,225.6 L1304.8,226.3 L1306.3,227.2 L1307.8,228.0 L1309.3,228.9 L1310.8,229.8 L1312.3,230.7 L1313.8,231.7 L1315.3,232.8 L1316.8,234.0 L1318.3,235.3 L1319.8,236.6 L1321.3,238.1 L1322.8,239.5 L1324.3,240.8 L1325.8,242.1 L1327.3,243.4 L1328.8,244.7 L1330.3,246.0 L1331.8,247.2 L1333.3,248.5 L1334.8,249.7 L1336.3,250.9 L1337.8,252.1 L1339.3,253.1 L1340.8,254.1 L1342.3,255.1 L1343.8,256.0 L1345.3,256.8 L1346.8,257.5 L1348.3,258.1 L1349.8,258.6 L1351.3,259.1 L1352.8,259.5 L1354.3,259.7 L1355.8,259.8 L1357.3,259.9 L1358.8,259.9 L1360.3,259.9 L1361.8,259.9 L1363.3,259.9 L1364.8,259.9 L1366.3,259.9 L1367.8,259.9 L1369.3,259.9 L1370.8,259.9 L1370.8,259.9 L1372.3,258.5 L1373.8,257.2 L1375.3,255.8 L1376.8,254.4 L1378.3,253.0 L1379.8,251.6 L1381.3,250.1 L1382.8,248.7 L1384.3,247.3 L1385.8,245.8 L1387.3,244.4 L1388.8,243.0 L1390.3,241.5 L1391.8,240.2 L1393.3,238.8 L1394.8,237.4 L1396.3,236.1 L1397.8,234.8 L1399.3,233.7 L1400.8,232.5 L1402.3,231.5 L1403.8,230.5 L1405.3,229.5 L1406.8,228.7 L1408.3,227.9 L1409.8,227.2 L1411.3,226.5 L1412.8,225.9 L1414.3,225.4 L1415.8,225.0 L1417.3,224.7 L1418.8,224.5 L1420.3,224.2 L1421.8,224.1 L1423.3,223.9 L1424.8,223.8 L1426.3,223.6 L1427.8,223.6 L1429.3,223.5 L1430.8,223.5 L1432.3,223.5 L1433.8,223.5 L1435.3,223.5 L1436.8,223.5 L1438.3,223.5 L1439.8,223.5 L1441.3,223.5 L1442.8,223.5 L1444.3,223.5 L1445.8,223.9 L1447.3,224.4 L1448.8,225.0 L1450.3,225.7 L1451.8,226.5 L1453.3,227.4 L1454.8,228.2 L1456.3,229.1 L1457.8,230.0 L1459.3,231.0 L1460.8,232.0 L1462.3,233.1 L1463.8,234.3 L1465.3,235.6 L1466.8,237.0 L1468.3,238.4 L1469.8,239.8 L1471.3,241.1 L1472.8,242.4 L1474.3,243.7 L1475.8,245.0 L1477.3,246.3 L1478.8,247.5 L1480.3,248.8 L1481.8,250.0 L1483.3,251.2 L1484.8,252.3 L1486.3,253.4 L1487.8,254.4 L1489.3,255.3 L1490.8,256.2 L1492.3,257.0 L1493.8,257.6 L1495.3,258.2 L1496.8,258.8 L1498.3,259.2 L1499.8,259.5 L1501.3,259.7 L1502.8,259.8 L1504.3,259.9 L1505.8,259.9 L1507.3,259.9 L1508.8,259.9 L1510.3,259.9 L1511.8,259.9 L1513.3,259.9 L1514.8,259.9 L1516.3,259.9 L1517.4,259.9 L1517.8,259.7 L1519.3,258.2 L1520.8,256.8 L1522.3,255.5 L1523.8,254.1 L1525.3,252.6 L1526.8,251.2 L1528.3,249.8 L1529.8,248.4 L1531.3,246.9 L1532.8,245.5 L1534.3,244.0 L1535.8,242.6 L1537.3,241.2 L1538.8,239.8 L1540.3,238.5 L1541.8,237.1 L1543.3,235.8 L1544.8,234.5 L1546.3,233.4 L1547.8,232.3 L1549.3,231.2 L1550.8,230.2 L1552.3,229.3 L1553.8,228.5 L1555.3,227.7 L1556.8,227.0 L1558.3,226.3 L1559.8,225.8 L1561.3,225.3 L1562.8,225.0 L1564.3,224.7 L1565.8,224.4 L1567.3,224.2 L1568.8,224.0 L1570.3,223.9 L1571.8,223.7 L1573.3,223.6 L1574.8,223.5 L1576.3,223.5 L1577.8,223.5 L1579.3,223.5 L1580.8,223.5 L1582.3,223.5 L1583.8,223.5 L1585.3,223.5 L1586.8,223.5 L1588.3,223.5 L1589.8,223.5 L1591.3,223.6 L1592.8,224.1 L1594.3,224.6 L1595.8,225.2 L1597.3,225.9 L1598.8,226.7 L1600.3,227.6 L1601.8,228.4 L1603.3,229.3 L1604.8,230.2 L1606.3,231.2 L1607.8,232.3 L1609.3,233.4 L1610.8,234.6 L1612.3,235.9 L1613.8,237.3 L1615.3,238.8 L1616.8,240.1 L1618.3,241.5 L1619.8,242.8 L1621.3,244.1 L1622.8,245.3 L1624.3,246.6 L1625.8,247.8 L1627.3,249.1 L1628.8,250.3 L1630.3,251.5 L1631.8,252.6 L1633.3,253.6 L1634.8,254.6 L1636.3,255.5 L1637.8,256.4 L1639.3,257.1 L1640.8,257.8 L1642.3,258.4 L1643.8,258.9 L1645.3,259.3 L1646.8,259.6 L1648.3,259.7 L1649.8,259.8 L1651.3,259.9 L1652.8,259.9 L1654.3,259.9 L1655.8,259.9 L1657.3,259.9 L1658.8,259.9 L1660.3,259.9 L1661.8,259.9 L1663.3,259.9 L1664.0,259.9"/>
<path stroke="#00ff00" d="M197.8,1066.0 L199.3,1055.5 L200.8,1044.8 L202.3,1033.9 L203.8,1022.8 L205.3,1011.3 L206.8,999.4 L208.3,987.4 L209.8,975.8 L211.3,964.6 L212.8,953.6 L214.3,942.8 L215.8,932.1 L217.3,921.6 L218.8,911.4 L220.3,901.3 L221.8,890.9 L223.3,880.0 L224.8,868.5 L226.3,856.4 L227.8,844.1 L229.3,831.7 L230.8,819.4 L232.3,807.1 L233.8,794.7 L235.3,782.4 L236.8,770.3 L238.3,758.2 L239.8,746.2 L241.3,734.8 L242.8,724.1 L244.3,713.9 L245.8,704.2 L247.3,694.8 L248.8,686.0 L250.3,677.9 L251.8,670.6 L253.3,663.9 L254.8,657.4 L256.3,650.5 L257.8,642.9 L259.3,634.2 L260.8,625.5 L262.3,617.6 L263.8,610.4 L265.3,603.7 L266.8,597.2 L268.3,590.8 L269.8,584.6 L271.3,578.8 L272.8,573.5 L274.3,568.7 L275.8,564.2 L277.3,560.0 L278.8,556.1 L280.3,552.5 L281.8,549.1 L283.3,545.9 L284.8,543.1 L286.3,540.4 L287.8,537.9 L289.3,535.6 L290.8,533.5 L292.3,531.6 L293.8,529.8 L295.3,528.2 L296.8,526.7 L298.3,525.3 L299.8,524.1 L301.3,523.0 L302.8,522.1 L304.3,521.2 L305.8,520.4 L307.3,519.6 L308.8,518.8 L310.3,518.0 L311.8,517.2 L313.3,516.4 L314.8,515.6 L316.3,514.8 L317.8,514.0 L319.3,513.1 L320.8,512.1 L322.3,510.9 L323.8,509.7 L325.3,508.3 L326.8,506.9 L328.3,505.3 L329.8,503.6 L331.3,501.8 L332.8,499.8 L334.3,497.6 L335.8,495.1 L337.3,492.5 L338.8,489.8 L340.3,487.0 L341.8,484.0 L343.3,480.9 L344.8,477.6 L346.3,474.2 L347.8,470.6 L349.3,466.8 L350.8,462.7 L352.3,458.5 L353.8,454.1 L355.3,449.7 L356.8,445.1 L358.3,440.3 L359.8,435.3 L361.3,430.2 L362.8,424.9 L364.3,419.4 L365.8,413.8 L367.3,408.2 L368.8,403.0 L370.3,398.0 L371.8,393.1 L373.3,388.4 L374.8,383.7 L376.3,379.0 L377.8,374.1 L379.3,369.1 L380.8,364.2 L382.3,359.5 L383.8,355.0 L385.3,350.8 L386.8,346.7 L388.3,342.8 L389.8,339.1 L391.3,335.6 L392.8,332.3 L394.3,329.1 L395.8,326.1 L397.3,323.3 L398.8,320.8 L400.3,318.4 L401.8,316.2 L403.3,314.1 L404.8,312.2 L406.3,310.4 L407.8,308.7 L409.3,307.1 L410.8,305.6 L412.3,304.3 L413.8,303.1 L415.3,301.9 L416.8,300.8 L418.3,299.9 L419.8,299.1 L421.3,298.4 L422.8,297.9 L424.3,297.4 L425.8,296.9 L427.3,296.6 L428.8,296.3 L430.3,296.2 L431.8,296.2 L433.3,296.1 L434.8,296.1 L436.3,296.0 L437.8,296.0 L439.3,296.0 L440.8,296.0 L442.3,296.0 L443.1,296.0 L443.8,296.3 L445.3,297.4 L446.8,298.4 L448.3,299.4 L449.8,300.4 L451.3,301.4 L452.8,302.4 L454.3,303.4 L455.8,304.5 L457.3,305.5 L458.8,306.5 L460.3,307.4 L461.8,308.3 L463.3,309.0 L464.8,309.8 L466.3,310.6 L467.8,311.2 L469.3,311.8 L470.8,312.2 L472.3,312.4 L473.8,312.6 L475.3,312.8 L476.8,312.9 L478.3,313.0 L479.8,313.0 L481.3,313.0 L482.8,313.0 L484.3,313.0 L485.8,313.0 L487.3,313.0 L488.8,313.0 L490.3,312.9 L491.8,312.9 L493.3,312.8 L494.8,312.8 L494.9,312.7 L496.3,311.5 L497.8,310.2 L499.3,309.0 L500.8,307.7 L502.3,306.4 L503.8,304.9 L505.3,303.1 L506.8,301.1 L508.3,298.9 L509.8,296.7 L511.3,294.3 L512.8,292.0 L514.3,289.8 L515.8,287.7 L517.3,285.4 L518.8,283.2 L520.3,281.0 L521.8,278.8 L523.3,276.8 L524.8,274.9 L526.3,273.1 L527.8,271.3 L529.3,269.6 L530.8,268.0 L532.3,266.4 L533.8,265.0 L535.3,263.7 L536.8,262.6 L538.3,261.4 L539.8,260.4 L541.3,259.5 L542.8,258.6 L544.3,257.9 L545.8,257.2 L547.3,256.5 L548.8,255.9 L550.3,255.3 L551.8,254.9 L553.3,254.7 L554.8,254.5 L556.3,254.4 L557.8,254.3 L559.3,254.2 L560.8,254.1 L562.3,254.0 L563.8,254.0 L565.3,254.0 L566.8,254.0 L568.3,254.0 L569.8,254.0 L571.3,254.0 L572.8,254.0 L574.3,254.0 L575.8,254.0 L577.3,254.0 L578.1,254.0 L578.8,254.4 L580.3,255.4 L581.8,256.4 L583.3,257.3 L584.8,258.2 L586.3,259.2 L587.8,260.2 L589.3,261.2 L590.8,262.4 L592.3,263.6 L593.8,264.9 L595.3,266.2 L596.8,267.6 L598.3,269.0 L599.8,270.3 L601.3,271.7 L602.8,272.9 L604.3,274.2 L605.8,275.5 L607.3,276.8 L608.8,278.0 L610.3,279.2 L611.8,280.4 L613.3,281.5 L614.8,282.5 L616.3,283.6 L617.8,284.6 L619.3,285.6 L620.8,286.5 L622.3,287.2 L623.8,287.7 L625.3,288.3 L626.8,288.7 L628.3,289.0 L629.8,289.0 L631.3,289.0 L632.8,289.0 L634.3,289.0 L635.8,289.0 L637.3,289.0 L638.8,289.0 L640.3,289.0 L641.8,289.0 L643.3,289.0 L644.8,289.0 L646.3,289.0 L646.5,289.0 L647.8,287.8 L649.3,286.5 L650.8,285.2 L652.3,283.9 L653.8,282.6 L655.3,281.2 L656.8,279.8 L658.3,278.3 L659.8,276.8 L661.3,275.3 L662.8,273.7 L664.3,272.2 L665.8,270.7 L667.3,269.2 L668.8,267.6 L670.3,266.0 L671.8,264.4 L673.3,262.9 L674.8,261.5 L676.3,260.2 L677.8,259.0 L679.3,257.8 L680.8,256.7 L682.3,255.7 L683.8,254.7 L685.3,253.8 L686.8,253.1 L688.3,252.4 L689.8,251.7 L691.3,251.1 L692.8,250.5 L694.3,250.1 L695.8,249.8 L697.3,249.6 L698.8,249.4 L700.3,249.2 L701.8,249.0 L703.3,248.9 L704.8,248.8 L706.3,248.8 L707.8,248.8 L709.3,248.8 L710.8,248.8 L712.3,248.8 L713.8,248.8 L715.3,248.8 L716.8,248.8 L718.3,248.8 L719.8,248.8 L720.8,248.8 L721.3,249.0 L722.8,250.0 L724.3,250.8 L725.8,251.6 L727.3,252.5 L728.8,253.3 L730.3,254.2 L731.8,255.2 L733.3,256.2 L734.8,257.5 L736.3,258.8 L737.8,260.3 L739.3,261.8 L740.8,263.3 L742.3,264.8 L743.8,266.2 L745.3,267.6 L746.8,269.0 L748.3,270.3 L749.8,271.6 L751.3,273.0 L752.8,274.3 L754.3,275.6 L755.8,276.8 L757.3,278.0 L758.8,279.3 L760.3,280.5 L761.8,281.7 L763.3,282.8 L764.8,283.7 L766.3,284.5 L767.8,285.1 L769.3,285.7 L770.8,286.2 L772.3,286.6 L773.8,286.9 L775.3,287.2 L776.8,287.4 L778.3,287.6 L779.8,287.6 L781.3,287.6 L782.8,287.6 L784.3,287.6 L785.8,287.5 L787.3,287.5 L788.8,287.4 L790.3,287.3 L791.8,287.1 L793.3,286.9 L793.7,286.9 L794.8,285.8 L796.3,284.4 L797.8,283.0 L799.3,281.6 L800.8,280.1 L802.3,278.7 L803.8,277.3 L805.3,275.9 L806.8,274.4 L808.3,273.0 L809.8,271.6 L811.3,270.1 L812.8,268.7 L814.3,267.4 L815.8,266.0 L817.3,264.6 L818.8,263.3 L820.3,262.0 L821.8,260.7 L823.3,259.4 L824.8,258.1 L826.3,256.8 L827.8,255.7 L829.3,254.7 L830.8,253.8 L832.3,253.0 L833.8,252.2 L835.3,251.5 L836.8,251.0 L838.3,250.6 L839.8,250.2 L841.3,249.8 L842.8,249.6 L844.3,249.4 L845.8,249.4 L847.3,249.3 L848.8,249.3 L850.3,249.3 L851.8,249.3 L853.3,249.3 L854.8,249.3 L856.3,249.3 L857.8,249.3 L859.3,249.3 L860.8,249.3 L862.3,249.3 L863.8,249.3 L865.3,249.3 L866.8,249.3 L868.3,249.3 L869.1,249.3 L869.8,249.6 L871.3,250.6 L872.8,251.4 L874.3,252.2 L875.8,253.1 L877.3,254.2 L878.8,255.4 L880.3,256.7 L881.8,258.0 L883.3,259.4 L884.8,260.7 L886.3,262.1 L887.8,263.5 L889.3,264.9 L890.8,266.2 L892.3,267.6 L893.8,268.8 L895.3,270.1 L896.8,271.3 L898.3,272.6 L899.8,273.8 L901.3,275.1 L902.8,276.4 L904.3,277.6 L905.8,278.9 L907.3,280.1 L908.8,281.3 L910.3,282.4 L911.8,283.5 L913.3,284.2 L914.8,284.9 L916.3,285.4 L917.8,285.9 L919.3,286.3 L920.8,286.5 L922.3,286.7 L923.8,286.8 L925.3,286.9 L926.8,286.9 L928.3,286.9 L929.8,286.9 L931.3,286.9 L932.8,286.9 L934.3,286.9 L935.8,286.9 L937.3,286.9 L938.8,286.9 L940.3,286.9 L941.8,285.5 L943.3,284.1 L944.8,282.6 L946.3,281.2 L947.8,279.8 L949.3,278.4 L950.8,276.9 L952.3,275.5 L953.8,274.1 L955.3,272.6 L956.8,271.2 L958.3,269.8 L959.8,268.4 L961.3,267.0 L962.8,265.6 L964.3,264.3 L965.8,262.9 L967.3,261.6 L968.8,260.3 L970.3,259.0 L971.8,257.7 L973.3,256.5 L974.8,255.4 L976.3,254.5 L977.8,253.6 L979.3,252.8 L980.8,252.0 L982.3,251.4 L983.8,250.9 L985.3,250.5 L986.8,250.1 L988.3,249.7 L989.8,249.5 L991.3,249.4 L992.8,249.4 L994.3,249.3 L995.8,249.3 L997.3,249.3 L998.8,249.3 L1000.3,249.3 L1001.8,249.3 L1003.3,249.3 L1004.8,249.3 L1006.3,249.3 L1007.8,249.3 L1009.3,249.3 L1010.8,249.3 L1012.3,249.3 L1013.8,249.3 L1015.3,249.3 L1015.7,249.3 L1016.8,249.9 L1018.3,250.8 L1019.8,251.6 L1021.3,252.4 L1022.8,253.4 L1024.3,254.5 L1025.8,255.7 L1027.3,257.0 L1028.8,258.4 L1030.3,259.7 L1031.8,261.1 L1033.3,262.4 L1034.8,263.8 L1036.3,265.2 L1037.8,266.6 L1039.3,267.9 L1040.8,269.1 L1042.3,270.4 L1043.8,271.6 L1045.3,272.9 L1046.8,274.1 L1048.3,275.4 L1049.8,276.7 L1051.3,277.9 L1052.8,279.2 L1054.3,280.4 L1055.8,281.6 L1057.3,282.7 L1058.8,283.7 L1060.3,284.4 L1061.8,285.0 L1063.3,285.6 L1064.8,286.0 L1066.3,286.3 L1067.8,286.6 L1069.3,286.7 L1070.8,286.9 L1072.3,286.9 L1073.8,286.9 L1075.3,286.9 L1076.8,286.9 L1078.3,286.9 L1079.8,286.9 L1081.3,286.9 L1082.8,286.9 L1084.3,286.9 L1085.8,286.9 L1086.9,286.9 L1087.3,286.7 L1088.8,285.1 L1090.3,283.7 L1091.8,282.3 L1093.3,280.9 L1094.8,279.4 L1096.3,278.0 L1097.8,276.6 L1099.3,275.2 L1100.8,273.7 L1102.3,272.3 L1103.8,270.9 L1105.3,269.4 L1106.8,268.0 L1108.3,266.7 L1109.8,265.3 L1111.3,263.9 L1112.8,262.6 L1114.3,261.3 L1115.8,260.0 L1117.3,258.7 L1118.8,257.4 L1120.3,256.2 L1121.8,255.2 L1123.3,254.2 L1124.8,253.4 L1126.3,252.6 L1127.8,251.9 L1129.3,251.3 L1130.8,250.8 L1132.3,250.4 L1133.8,250.0 L1135.3,249.7 L1136.8,249.5 L1138.3,249.4 L1139.8,249.4 L1141.3,249.3 L1142.8,249.3 L1144.3,249.3 L1145.8,249.3 L1147.3,249.3 L1148.8,249.3 L1150.3,249.3 L1151.8,249.3 L1153.3,249.3 L1154.8,249.3 L1156.3,249.3 L1157.8,249.3 L1159.3,249.3 L1160.8,249.3 L1162.3,249.3 L1162.3,249.3 L1163.8,250.1 L1165.3,251.0 L1166.8,251.8 L1168.3,252.6 L1169.8,253.6 L1171.3,254.8 L1172.8,256.0 L1174.3,257.4 L1175.8,258.7 L1177.3,260.1 L1178.8,261.4 L1180.3,262.8 L1181.8,264.2 L1183.3,265.6 L1184.8,266.9 L1186.3,268.2 L1187.8,269.5 L1189.3,270.7 L1190.8,271.9 L1192.3,273.2 L1193.8,274.4 L1195.3,275.7 L1196.8,277.0 L1198.3,278.3 L1199.8,279.5 L1201.3,280.6 L1202.8,281.9 L1204.3,283.0 L1205.8,283.9 L1207.3,284.6 L1208.8,285.2 L1210.3,285.7 L1211.8,286.1 L1213.3,286.4 L1214.8,286.6 L1216.3,286.8 L1217.8,286.9 L1219.3,286.9 L1220.8,286.9 L1222.3,286.9 L1223.8,286.9 L1225.3,286.9 L1226.8,286.9 L1228.3,286.9 L1229.8,286.9 L1231.3,286.9 L1232.8,286.9 L1233.5,286.9 L1234.3,286.3 L1235.8,284.8 L1237.3,283.3 L1238.8,281.9 L1240.3,280.5 L1241.8,279.1 L1243.3,277.6 L1244.8,276.2 L1246.3,274.8 L1247.8,273.4 L1249.3,271.9 L1250.8,270.5 L1252.3,269.1 L1253.8,267.7 L1255.3,266.3 L1256.8,265.0 L1258.3,263.6 L1259.8,262.3 L1261.3,261.0 L1262.8,259.7 L1264.3,258.4 L1265.8,257.1 L1267.3,255.9 L1268.8,254.9 L1270.3,254.0 L1271.8,253.2 L1273.3,252.4 L1274.8,251.7 L1276.3,251.1 L1277.8,250.7 L1279.3,250.3 L1280.8,249.9 L1282.3,249.6 L1283.8,249.4 L1285.3,249.4 L1286.8,249.4 L1288.3,249.3 L1289.8,249.3 L1291.3,249.3 L1292.8,249.3 L1294.3,249.3 L1295.8,249.3 L1297.3,249.3 L1298.8,249.3 L1300.3,249.3 L1301.8,249.3 L1303.3,249.3 L1304.8,249.3 L1306.3,249.3 L1307.8,249.3 L1309.0,249.3 L1309.3,249.4 L1310.8,250.4 L1312.3,251.2 L1313.8,252.0 L1315.3,252.9 L1316.8,253.9 L1318.3,255.1 L1319.8,256.4 L1321.3,257.7 L1322.8,259.1 L1324.3,260.4 L1325.8,261.8 L1327.3,263.1 L1328.8,264.5 L1330.3,265.9 L1331.8,267.2 L1333.3,268.5 L1334.8,269.8 L1336.3,271.0 L1337.8,272.2 L1339.3,273.5 L1340.8,274.8 L1342.3,276.0 L1343.8,277.3 L1345.3,278.6 L1346.8,279.8 L1348.3,281.0 L1349.8,282.2 L1351.3,283.2 L1352.8,284.1 L1354.3,284.7 L1355.8,285.3 L1357.3,285.8 L1358.8,286.2 L1360.3,286.5 L1361.8,286.6 L1363.3,286.8 L1364.8,286.9 L1366.3,286.9 L1367.8,286.9 L1369.3,286.9 L1370.8,286.9 L1372.3,286.9 L1373.8,286.9 L1375.3,286.9 L1376.8,286.9 L1378.3,286.9 L1379.8,286.9 L1380.2,286.9 L1381.3,285.8 L1382.8,284.4 L1384.3,283.0 L1385.8,281.6 L1387.3,280.1 L1388.8,278.7 L1390.3,277.3 L1391.8,275.9 L1393.3,274.4 L1394.8,273.0 L1396.3,271.6 L1397.8,270.1 L1399.3,268.7 L1400.8,267.4 L1402.3,266.0 L1403.8,264.6 L1405.3,263.3 L1406.8,262.0 L1408.3,260.7 L1409.8,259.4 L1411.3,258.1 L1412.8,256.8 L1414.3,255.7 L1415.8,254.7 L1417.3,253.8 L1418.8,253.0 L1420.3,252.2 L1421.8,251.5 L1423.3,251.0 L1424.8,250.6 L1426.3,250.2 L1427.8,249.8 L1429.3,249.6 L1430.8,249.4 L1432.3,249.4 L1433.8,249.3 L1435.3,249.3 L1436.8,249.3 L1438.3,249.3 L1439.8,249.3 L1441.3,249.3 L1442.8,249.3 L1444.3,249.3 L1445.8,249.3 L1447.3,249.3 L1448.8,249.3 L1450.3,249.3 L1451.8,249.3 L1453.3,249.3 L1454.8,249.3 L1455.6,249.3 L1456.3,249.6 L1457.8,250.6 L1459.3,251.4 L1460.8,252.2 L1462.3,253.1 L1463.8,254.2 L1465.3,255.4 L1466.8,256.7 L1468.3,258.0 L1469.8,259.4 L1471.3,260.7 L1472.8,262.1 L1474.3,263.5 L1475.8,264.9 L1477.3,266.2 L1478.8,267.6 L1480.3,268.8 L1481.8,270.1 L1483.3,271.3 L1484.8,272.6 L1486.3,273.8 L1487.8,275.1 L1489.3,276.4 L1490.8,277.6 L1492.3,278.9 L1493.8,280.1 L1495.3,281.3 L1496.8,282.4 L1498.3,283.5 L1499.8,284.2 L1501.3,284.9 L1502.8,285.4 L1504.3,285.9 L1505.8,286.3 L1507.3,286.5 L1508.8,286.7 L1510.3,286.8 L1511.8,286.9 L1513.3,286.9 L1514.8,286.9 L1516.3,286.9 L1517.8,286.9 L1519.3,286.9 L1520.8,286.9 L1522.3,286.9 L1523.8,286.9 L1525.3,286.9 L1526.8,286.9 L1528.3,285.5 L1529.8,284.1 L1531.3,282.6 L1532.8,281.2 L1534.3,279.8 L1535.8,278.4 L1537.3,276.9 L1538.8,275.5 L1540.3,274.1 L1541.8,272.6 L1543.3,271.2 L1544.8,269.8 L1546.3,268.4 L1547.8,267.0 L1549.3,265.6 L1550.8,264.3 L1552.3,262.9 L1553.8,261.6 L1555.3,260.3 L1556.8,259.0 L1558.3,257.7 L1559.8,256.5 L1561.3,255.4 L1562.8,254.5 L1564.3,253.6 L1565.8,252.8 L1567.3,252.0 L1568.8,251.4 L1570.3,250.9 L1571.8,250.5 L1573.3,250.1 L1574.8,249.7 L1576.3,249.5 L1577.8,249.4 L1579.3,249.4 L1580.8,249.3 L1582.3,249.3 L1583.8,249.3 L1585.3,249.3 L1586.8,249.3 L1588.3,249.3 L1589.8,249.3 L1591.3,249.3 L1592.8,249.3 L1594.3,249.3 L1595.8,249.3 L1597.3,249.3 L1598.8,249.3 L1600.3,249.3 L1601.8,249.3 L1602.2,249.3 L1603.3,249.9 L1604.8,250.8 L1606.3,251.6 L1607.8,252.4 L1609.3,253.4 L1610.8,254.5 L1612.3,255.7 L1613.8,257.0 L1615.3,258.4 L1616.8,259.7 L1618.3,261.1 L1619.8,262.4 L1621.3,263.8 L1622.8,265.2 L1624.3,266.6 L1625.8,267.9 L1627.3,269.1 L1628.8,270.4 L1630.3,271.6 L1631.8,272.9 L1633.3,274.1 L1634.8,275.4 L1636.3,276.7 L1637.8,277.9 L1639.3,279.2 L1640.8,280.4 L1642.3,281.6 L1643.8,282.7 L1645.3,283.7 L1646.8,284.4 L1648.3,285.0 L1649.8,285.6 L1651.3,286.0 L1652.8,286.3 L1654.3,286.6 L1655.8,286.7 L1657.3,286.9 L1658.8,286.9 L1660.3,286.9 L1661.8,286.9 L1663.3,286.9 L1664.0,286.9" stroke-width="5.6" stroke-linejoin="round" shape-rendering="auto"/>
<path stroke="#00ff00" d="M197.8,1066.0 L199.3,1055.5 L200.8,1044.8 L202.3,1033.9 L203.8,1022.8 L205.3,1011.3 L206.8,999.4 L208.3,987.4 L209.8,975.8 L211.3,964.6 L212.8,953.6 L214.3,942.8 L215.8,932.1 L217.3,921.6 L218.8,911.4 L220.3,901.3 L221.8,890.9 L223.3,880.0 L224.8,868.5 L226.3,856.4 L227.8,844.1 L229.3,831.7 L230.8,819.4 L232.3,807.1 L233.8,794.7 L235.3,782.4 L236.8,770.3 L238.3,758.2 L239.8,746.2 L241.3,734.8 L242.8,724.1 L244.3,713.9 L245.8,704.2 L247.3,694.8 L248.8,686.0 L250.3,677.9 L251.8,670.6 L253.3,663.9 L254.8,657.4 L256.3,650.5 L257.8,642.9 L259.3,634.2 L260.8,625.5 L262.3,617.6 L263.8,610.4 L265.3,603.7 L266.8,597.2 L268.3,590.8 L269.8,584.6 L271.3,578.8 L272.8,573.5 L274.3,568.7 L275.8,564.2 L277.3,560.0 L278.8,556.1 L280.3,552.5 L281.8,549.1 L283.3,545.9 L284.8,543.1 L286.3,540.4 L287.8,537.9 L289.3,535.6 L290.8,533.5 L292.3,531.6 L293.8,529.8 L295.3,528.2 L296.8,526.7 L298.3,525.3 L299.8,524.1 L301.3,523.0 L302.8,522.1 L304.3,521.2 L305.8,520.4 L307.3,519.6 L308.8,518.8 L310.3,518.0 L311.8,517.2 L313.3,516.4 L314.8,515.6 L316.3,514.8 L317.8,514.0 L319.3,513.1 L320.8,512.1 L322.3,510.9 L323.8,509.7 L325.3,508.3 L326.8,506.9 L328.3,505.3 L329.8,503.6 L331.3,501.8 L332.8,499.8 L334.3,497.6 L335.8,495.1 L337.3,492.5 L338.8,489.8 L340.3,487.0 L341.8,484.0 L343.3,480.9 L344.8,477.6 L346.3,474.2 L347.8,470.6 L349.3,466.8 L350.8,462.7 L352.3,458.5 L353.8,454.1 L355.3,449.7 L356.8,445.1 L358.3,440.3 L359.8,435.3 L361.3,430.2 L362.8,424.9 L364.3,419.4 L365.8,413.8 L367.3,408.2 L368.8,403.0 L370.3,398.0 L371.8,393.1 L373.3,388.4 L374.8,383.7 L376.3,379.0 L377.8,374.1 L379.3,369.1 L380.8,364.2 L382.3,359.5 L383.8,355.0 L385.3,350.8 L386.8,346.7 L388.3,342.8 L389.8,339.1 L391.3,335.6 L392.8,332.3 L394.3,329.1 L395.8,326.1 L397.3,323.3 L398.8,320.8 L400.3,318.4 L401.8,316.2 L403.3,314.1 L404.8,312.2 L406.3,310.4 L407.8,308.7 L409.3,307.1 L410.8,305.6 L412.3,304.3 L413.8,303.1 L415.3,301.9 L416.8,300.8 L418.3,299.9 L419.8,299.1 L421.3,298.4 L422.8,297.9 L424.3,297.4 L425.8,296.9 L427.3,296.6 L428.8,296.3 L430.3,296.2 L431.8,296.2 L433.3,296.1 L434.8,296.1 L436.3,296.0 L437.8,296.0 L439.3,296.0 L440.8,296.0 L442.3,296.0 L443.1,296.0 L443.8,296.3 L445.3,297.4 L446.8,298.4 L448.3,299.4 L449.8,300.4 L451.3,301.4 L452.8,302.4 L454.3,303.4 L455.8,304.5 L457.3,305.5 L458.8,306.5 L460.3,307.4 L461.8,308.3 L463.3,309.0 L464.8,309.8 L466.3,310.6 L467.8,311.2 L469.3,311.8 L470.8,312.2 L472.3,312.4 L473.8,312.6 L475.3,312.8 L476.8,312.9 L478.3,313.0 L479.8,313.0 L481.3,313.0 L482.8,313.0 L484.3,313.0 L485.8,313.0 L487.3,313.0 L488.8,313.0 L490.3,312.9 L491.8,312.9 L493.3,312.8 L494.8,312.8 L494.9,312.7 L496.3,311.5 L497.8,310.2 L499.3,309.0 L500.8,307.7 L502.3,306.4 L503.8,304.9 L505.3,303.1 L506.8,301.1 L508.3,298.9 L509.8,296.7 L511.3,294.3 L512.8,292.0 L514.3,289.8 L515.8,287.7 L517.3,285.4 L518.8,283.2 L520.3,281.0 L521.8,278.8 L523.3,276.8 L524.8,274.9 L526.3,273.1 L527.8,271.3 L529.3,269.6 L530.8,268.0 L532.3,266.4 L533.8,265.0 L535.3,263.7 L536.8,262.6 L538.3,261.4 L539.8,260.4 L541.3,259.5 L542.8,258.6 L544.3,257.9 L545.8,257.2 L547.3,256.5 L548.8,255.9 L550.3,255.3 L551.8,254.9 L553.3,254.7 L554.8,254.5 L556.3,254.4 L557.8,254.3 L559.3,254.2 L560.8,254.1 L562.3,254.0 L563.8,254.0 L565.3,254.0 L566.8,254.0 L568.3,254.0 L569.8,254.0 L571.3,254.0 L572.8,254.0 L574.3,254.0 L575.8,254.0 L577.3,254.0 L578.1,254.0 L578.8,254.4 L580.3,255.4 L581.8,256.4 L583.3,257.3 L584.8,258.2 L586.3,259.2 L587.8,260.2 L589.3,261.2 L590.8,262.4 L592.3,263.6 L593.8,264.9 L595.3,266.2 L596.8,267.6 L598.3,269.0 L599.8,270.3 L601.3,271.7 L602.8,272.9 L604.3,274.2 L605.8,275.5 L607.3,276.8 L608.8,278.0 L610.3,279.2 L611.8,280.4 L613.3,281.5 L614.8,282.5 L616.3,283.6 L617.8,284.6 L619.3,285.6 L620.8,286.5 L622.3,287.2 L623.8,287.7 L625.3,288.3 L626.8,288.7 L628.3,289.0 L629.8,289.0 L631.3,289.0 L632.8,289.0 L634.3,289.0 L635.8,289.0 L637.3,289.0 L638.8,289.0 L640.3,289.0 L641.8,289.0 L643.3,289.0 L644.8,289.0 L646.3,289.0 L646.5,289.0 L647.8,287.8 L649.3,286.5 L650.8,285.2 L652.3,283.9 L653.8,282.6 L655.3,281.2 L656.8,279.8 L658.3,278.3 L659.8,276.8 L661.3,275.3 L662.8,273.7 L664.3,272.2 L665.8,270.7 L667.3,269.2 L668.8,267.6 L670.3,266.0 L671.8,264.4 L673.3,262.9 L674.8,261.5 L676.3,260.2 L677.8,259.0 L679.3,257.8 L680.8,256.7 L682.3,255.7 L683.8,254.7 L685.3,253.8 L686.8,253.1 L688.3,252.4 L689.8,251.7 L691.3,251.1 L692.8,250.5 L694.3,250.1 L695.8,249.8 L697.3,249.6 L698.8,249.4 L700.3,249.2 L701.8,249.0 L703.3,248.9 L704.8,248.8 L706.3,248.8 L707.8,248.8 L709.3,248.8 L710.8,248.8 L712.3,248.8 L713.8,248.8 L715.3,248.8 L716.8,248.8 L718.3,248.8 L719.8,248.8 L720.8,248.8 L721.3,249.0 L722.8,250.0 L724.3,250.8 L725.8,251.6 L727.3,252.5 L728.8,253.3 L730.3,254.2 L731.8,255.2 L733.3,256.2 L734.8,257.5 L736.3,258.8 L737.8,260.3 L739.3,261.8 L740.8,263.3 L742.3,264.8 L743.8,266.2 L745.3,267.6 L746.8,269.0 L748.3,270.3 L749.8,271.6 L751.3,273.0 L752.8,274.3 L754.3,275.6 L755.8,276.8 L757.3,278.0 L758.8,279.3 L760.3,280.5 L761.8,281.7 L763.3,282.8 L764.8,283.7 L766.3,284.5 L767.8,285.1 L769.3,285.7 L770.8,286.2 L772.3,286.6 L773.8,286.9 L775.3,287.2 L776.8,287.4 L778.3,287.6 L779.8,287.6 L781.3,287.6 L782.8,287.6 L784.3,287.6 L785.8,287.5 L787.3,287.5 L788.8,287.4 L790.3,287.3 L791.8,287.1 L793.3,286.9 L793.7,286.9 L794.8,285.8 L796.3,284.4 L797.8,283.0 L799.3,281.6 L800.8,280.1 L802.3,278.7 L803.8,277.3 L805.3,275.9 L806.8,274.4 L808.3,273.0 L809.8,271.6 L811.3,270.1 L812.8,268.7 L814.3,267.4 L815.8,266.0 L817.3,264.6 L818.8,263.3 L820.3,262.0 L821.8,260.7 L823.3,259.4 L824.8,258.1 L826.3,256.8 L827.8,255.7 L829.3,254.7 L830.8,253.8 L832.3,253.0 L833.8,252.2 L835.3,251.5 L836.8,251.0 L838.3,250.6 L839.8,250.2 L841.3,249.8 L842.8,249.6 L844.3,249.4 L845.8,249.4 L847.3,249.3 L848.8,249.3 L850.3,249.3 L851.8,249.3 L853.3,249.3 L854.8,249.3 L856.3,249.3 L857.8,249.3 L859.3,249.3 L860.8,249.3 L862.3,249.3 L863.8,249.3 L865.3,249.3 L866.8,249.3 L868.3,249.3 L869.1,249.3 L869.8,249.6 L871.3,250.6 L872.8,251.4 L874.3,252.2 L875.8,253.1 L877.3,254.2 L878.8,255.4 L880.3,256.7 L881.8,258.0 L883.3,259.4 L884.8,260.7 L886.3,262.1 L887.8,263.5 L889.3,264.9 L890.8,266.2 L892.3,267.6 L893.8,268.8 L895.3,270.1 L896.8,271.3 L898.3,272.6 L899.8,273.8 L901.3,275.1 L902.8,276.4 L904.3,277.6 L905.8,278.9 L907.3,280.1 L908.8,281.3 L910.3,282.4 L911.8,283.5 L913.3,284.2 L914.8,284.9 L916.3,285.4 L917.8,285.9 L919.3,286.3 L920.8,286.5 L922.3,286.7 L923.8,286.8 L925.3,286.9 L926.8,286.9 L928.3,286.9 L929.8,286.9 L931.3,286.9 L932.8,286.9 L934.3,286.9 L935.8,286.9 L937.3,286.9 L938.8,286.9 L940.3,286.9 L941.8,285.5 L943.3,284.1 L944.8,282.6 L946.3,281.2 L947.8,279.8 L949.3,278.4 L950.8,276.9 L952.3,275.5 L953.8,274.1 L955.3,272.6 L956.8,271.2 L958.3,269.8 L959.8,268.4 L961.3,267.0 L962.8,265.6 L964.3,264.3 L965.8,262.9 L967.3,261.6 L968.8,260.3 L970.3,259.0 L971.8,257.7 L973.3,256.5 L974.8,255.4 L976.3,254.5 L977.8,253.6 L979.3,252.8 L980.8,252.0 L982.3,251.4 L983.8,250.9 L985.3,250.5 L986.8,250.1 L988.3,249.7 L989.8,249.5 L991.3,249.4 L992.8,249.4 L994.3,249.3 L995.8,249.3 L997.3,249.3 L998.8,249.3 L1000.3,249.3 L1001.8,249.3 L1003.3,249.3 L1004.8,249.3 L1006.3,249.3 L1007.8,249.3 L1009.3,249.3 L1010.8,249.3 L1012.3,249.3 L1013.8,249.3 L1015.3,249.3 L1015.7,249.3 L1016.8,249.9 L1018.3,250.8 L1019.8,251.6 L1021.3,252.4 L1022.8,253.4 L1024.3,254.5 L1025.8,255.7 L1027.3,257.0 L1028.8,258.4 L1030.3,259.7 L1031.8,261.1 L1033.3,262.4 L1034.8,263.8 L1036.3,265.2 L1037.8,266.6 L1039.3,267.9 L1040.8,269.1 L1042.3,270.4 L1043.8,271.6 L1045.3,272.9 L1046.8,274.1 L1048.3,275.4 L1049.8,276.7 L1051.3,277.9 L1052.8,279.2 L1054.3,280.4 L1055.8,281.6 L1057.3,282.7 L1058.8,283.7 L1060.3,284.4 L1061.8,285.0 L1063.3,285.6 L1064.8,286.0 L1066.3,286.3 L1067.8,286.6 L1069.3,286.7 L1070.8,286.9 L1072.3,286.9 L1073.8,286.9 L1075.3,286.9 L1076.8,286.9 L1078.3,286.9 L1079.8,286.9 L1081.3,286.9 L1082.8,286.9 L1084.3,286.9 L1085.8,286.9 L1086.9,286.9 L1087.3,286.7 L1088.8,285.1 L1090.3,283.7 L1091.8,282.3 L1093.3,280.9 L1094.8,279.4 L1096.3,278.0 L1097.8,276.6 L1099.3,275.2 L1100.8,273.7 L1102.3,272.3 L1103.8,270.9 L1105.3,269.4 L1106.8,268.0 L1108.3,266.7 L1109.8,265.3 L1111.3,263.9 L1112.8,262.6 L1114.3,261.3 L1115.8,260.0 L1117.3,258.7 L1118.8,257.4 L1120.3,256.2 L1121.8,255.2 L1123.3,254.2 L1124.8,253.4 L1126.3,252.6 L1127.8,251.9 L1129.3,251.3 L1130.8,250.8 L1132.3,250.4 L1133.8,250.0 L1135.3,249.7 L1136.8,249.5 L1138.3,249.4 L1139.8,249.4 L1141.3,249.3 L1142.8,249.3 L1144.3,249.3 L1145.8,249.3 L1147.3,249.3 L1148.8,249.3 L1150.3,249.3 L1151.8,249.3 L1153.3,249.3 L1154.8,249.3 L1156.3,249.3 L1157.8,249.3 L1159.3,249.3 L1160.8,249.3 L1162.3,249.3 L1162.3,249.3 L1163.8,250.1 L1165.3,251.0 L1166.8,251.8 L1168.3,252.6 L1169.8,253.6 L1171.3,254.8 L1172.8,256.0 L1174.3,257.4 L1175.8,258.7 L1177.3,260.1 L1178.8,261.4 L1180.3,262.8 L1181.8,264.2 L1183.3,265.6 L1184.8,266.9 L1186.3,268.2 L1187.8,269.5 L1189.3,270.7 L1190.8,271.9 L1192.3,273.2 L1193.8,274.4 L1195.3,275.7 L1196.8,277.0 L1198.3,278.3 L1199.8,279.5 L1201.3,280.6 L1202.8,281.9 L1204.3,283.0 L1205.8,283.9 L1207.3,284.6 L1208.8,285.2 L1210.3,285.7 L1211.8,286.1 L1213.3,286.4 L1214.8,286.6 L1216.3,286.8 L1217.8,286.9 L1219.3,286.9 L1220.8,286.9 L1222.3,286.9 L1223.8,286.9 L1225.3,286.9 L1226.8,286.9 L1228.3,286.9 L1229.8,286.9 L1231.3,286.9 L1232.8,286.9 L1233.5,286.9 L1234.3,286.3 L1235.8,284.8 L1237.3,283.3 L1238.8,281.9 L1240.3,280.5 L1241.8,279.1 L1243.3,277.6 L1244.8,276.2 L1246.3,274.8 L1247.8,273.4 L1249.3,271.9 L1250.8,270.5 L1252.3,269.1 L1253.8,267.7 L1255.3,266.3 L1256.8,265.0 L1258.3,263.6 L1259.8,262.3 L1261.3,261.0 L1262.8,259.7 L1264.3,258.4 L1265.8,257.1 L1267.3,255.9 L1268.8,254.9 L1270.3,254.0 L1271.8,253.2 L1273.3,252.4 L1274.8,251.7 L1276.3,251.1 L1277.8,250.7 L1279.3,250.3 L1280.8,249.9 L1282.3,249.6 L1283.8,249.4 L1285.3,249.4 L1286.8,249.4 L1288.3,249.3 L1289.8,249.3 L1291.3,249.3 L1292.8,249.3 L1294.3,249.3 L1295.8,249.3 L1297.3,249.3 L1298.8,249.3 L1300.3,249.3 L1301.8,249.3 L1303.3,249.3 L1304.8,249.3 L1306.3,249.3 L1307.8,249.3 L1309.0,249.3 L1309.3,249.4 L1310.8,250.4 L1312.3,251.2 L1313.8,252.0 L1315.3,252.9 L1316.8,253.9 L1318.3,255.1 L1319.8,256.4 L1321.3,257.7 L1322.8,259.1 L1324.3,260.4 L1325.8,261.8 L1327.3,263.1 L1328.8,264.5 L1330.3,265.9 L1331.8,267.2 L1333.3,268.5 L1334.8,269.8 L1336.3,271.0 L1337.8,272.2 L1339.3,273.5 L1340.8,274.8 L1342.3,276.0 L1343.8,277.3 L1345.3,278.6 L1346.8,279.8 L1348.3,281.0 L1349.8,282.2 L1351.3,283.2 L1352.8,284.1 L1354.3,284.7 L1355.8,285.3 L1357.3,285.8 L1358.8,286.2 L1360.3,286.5 L1361.8,286.6 L1363.3,286.8 L1364.8,286.9 L1366.3,286.9 L1367.8,286.9 L1369.3,286.9 L1370.8,286.9 L1372.3,286.9 L1373.8,286.9 L1375.3,286.9 L1376.8,286.9 L1378.3,286.9 L1379.8,286.9 L1380.2,286.9 L1381.3,285.8 L1382.8,284.4 L1384.3,283.0 L1385.8,281.6 L1387.3,280.1 L1388.8,278.7 L1390.3,277.3 L1391.8,275.9 L1393.3,274.4 L1394.8,273.0 L1396.3,271.6 L1397.8,270.1 L1399.3,268.7 L1400.8,267.4 L1402.3,266.0 L1403.8,264.6 L1405.3,263.3 L1406.8,262.0 L1408.3,260.7 L1409.8,259.4 L1411.3,258.1 L1412.8,256.8 L1414.3,255.7 L1415.8,254.7 L1417.3,253.8 L1418.8,253.0 L1420.3,252.2 L1421.8,251.5 L1423.3,251.0 L1424.8,250.6 L1426.3,250.2 L1427.8,249.8 L1429.3,249.6 L1430.8,249.4 L1432.3,249.4 L1433.8,249.3 L1435.3,249.3 L1436.8,249.3 L1438.3,249.3 L1439.8,249.3 L1441.3,249.3 L1442.8,249.3 L1444.3,249.3 L1445.8,249.3 L1447.3,249.3 L1448.8,249.3 L1450.3,249.3 L1451.8,249.3 L1453.3,249.3 L1454.8,249.3 L1455.6,249.3 L1456.3,249.6 L1457.8,250.6 L1459.3,251.4 L1460.8,252.2 L1462.3,253.1 L1463.8,254.2 L1465.3,255.4 L1466.8,256.7 L1468.3,258.0 L1469.8,259.4 L1471.3,260.7 L1472.8,262.1 L1474.3,263.5 L1475.8,264.9 L1477.3,266.2 L1478.8,267.6 L1480.3,268.8 L1481.8,270.1 L1483.3,271.3 L1484.8,272.6 L1486.3,273.8 L1487.8,275.1 L1489.3,276.4 L1490.8,277.6 L1492.3,278.9 L1493.8,280.1 L1495.3,281.3 L1496.8,282.4 L1498.3,283.5 L1499.8,284.2 L1501.3,284.9 L1502.8,285.4 L1504.3,285.9 L1505.8,286.3 L1507.3,286.5 L1508.8,286.7 L1510.3,286.8 L1511.8,286.9 L1513.3,286.9 L1514.8,286.9 L1516.3,286.9 L1517.8,286.9 L1519.3,286.9 L1520.8,286.9 L1522.3,286.9 L1523.8,286.9 L1525.3,286.9 L1526.8,286.9 L1528.3,285.5 L1529.8,284.1 L1531.3,282.6 L1532.8,281.2 L1534.3,279.8 L1535.8,278.4 L1537.3,276.9 L1538.8,275.5 L1540.3,274.1 L1541.8,272.6 L1543.3,271.2 L1544.8,269.8 L1546.3,268.4 L1547.8,267.0 L1549.3,265.6 L1550.8,264.3 L1552.3,262.9 L1553.8,261.6 L1555.3,260.3 L1556.8,259.0 L1558.3,257.7 L1559.8,256.5 L1561.3,255.4 L1562.8,254.5 L1564.3,253.6 L1565.8,252.8 L1567.3,252.0 L1568.8,251.4 L1570.3,250.9 L1571.8,250.5 L1573.3,250.1 L1574.8,249.7 L1576.3,249.5 L1577.8,249.4 L1579.3,249.4 L1580.8,249.3 L1582.3,249.3 L1583.8,249.3 L1585.3,249.3 L1586.8,249.3 L1588.3,249.3 L1589.8,249.3 L1591.3,249.3 L1592.8,249.3 L1594.3,249.3 L1595.8,249.3 L1597.3,249.3 L1598.8,249.3 L1600.3,249.3 L1601.8,249.3 L1602.2,249.3 L1603.3,249.9 L1604.8,250.8 L1606.3,251.6 L1607.8,252.4 L1609.3,253.4 L1610.8,254.5 L1612.3,255.7 L1613.8,257.0 L1615.3,258.4 L1616.8,259.7 L1618.3,261.1 L1619.8,262.4 L1621.3,263.8 L1622.8,265.2 L1624.3,266.6 L1625.8,267.9 L1627.3,269.1 L1628.8,270.4 L1630.3,271.6 L1631.8,272.9 L1633.3,274.1 L1634.8,275.4 L1636.3,276.7 L1637.8,277.9 L1639.3,279.2 L1640.8,280.4 L1642.3,281.6 L1643.8,282.7 L1645.3,283.7 L1646.8,284.4 L1648.3,285.0 L1649.8,285.6 L1651.3,286.0 L1652.8,286.3 L1654.3,286.6 L1655.8,286.7 L1657.3,286.9 L1658.8,286.9 L1660.3,286.9 L1661.8,286.9 L1663.3,286.9 L1664.0,286.9"/>
<path stroke="#ff0000" d="M197.8,1066.0 L199.3,1058.9 L200.8,1051.3 L202.3,1043.3 L203.8,1034.5 L205.3,1025.5 L206.8,1016.7 L208.3,1008.0 L209.8,999.3 L211.3,990.6 L212.8,981.9 L214.3,973.3 L215.8,964.6 L217.3,955.8 L218.8,947.1 L220.3,938.5 L221.8,930.0 L223.3,921.7 L224.8,913.6 L226.3,905.5 L227.8,897.5 L229.3,889.4 L230.8,881.1 L232.3,872.7 L233.8,864.1 L235.3,855.4 L236.8,846.5 L238.3,837.4 L239.8,828.1 L241.3,819.2 L242.8,810.7 L244.3,802.3 L245.8,793.6 L247.3,784.6 L248.8,776.1 L250.3,768.9 L251.8,762.4 L253.3,756.1 L254.8,749.5 L256.3,742.5 L257.8,735.6 L259.3,729.2 L260.8,723.5 L262.3,718.4 L263.8,713.6 L265.3,708.9 L266.8,704.1 L268.3,699.2 L269.8,694.1 L271.3,689.1 L272.8,684.4 L274.3,680.0 L275.8,676.0 L277.3,672.1 L278.8,668.4 L280.3,665.0 L281.8,661.9 L283.3,659.1 L284.8,656.5 L286.3,654.2 L287.8,652.0 L289.3,650.1 L290.8,648.4 L292.3,646.8 L293.8,645.3 L295.3,643.9 L296.8,642.6 L298.3,641.5 L299.8,640.5 L301.3,639.7 L302.8,638.9 L304.3,638.2 L305.8,637.5 L307.3,636.8 L308.8,636.1 L310.3,635.4 L311.8,634.8 L313.3,634.2 L314.8,633.6 L316.3,633.0 L317.8,632.4 L319.3,631.7 L320.8,630.9 L322.3,630.0 L323.8,629.0 L325.3,627.8 L326.8,626.5 L328.3,625.1 L329.8,623.6 L331.3,622.1 L332.8,620.5 L334.3,618.7 L335.8,616.8 L337.3,614.7 L338.8,612.5 L340.3,610.3 L341.8,607.9 L343.3,605.4 L344.8,602.7 L346.3,599.9 L347.8,596.9 L349.3,593.9 L350.8,590.7 L352.3,587.3 L353.8,583.7 L355.3,579.9 L356.8,576.0 L358.3,571.6 L359.8,567.0 L361.3,562.0 L362.8,557.0 L364.3,552.0 L365.8,547.0 L367.3,541.9 L368.8,536.8 L370.3,531.6 L371.8,526.5 L373.3,521.4 L374.8,516.2 L376.3,511.1 L377.8,506.0 L379.3,501.0 L380.8,496.1 L382.3,491.2 L383.8,486.4 L385.3,481.6 L386.8,477.1 L388.3,472.7 L389.8,468.4 L391.3,464.2 L392.8,460.1 L394.3,455.9 L395.8,451.6 L397.3,446.9 L398.8,441.9 L400.3,437.2 L401.8,432.9 L403.3,429.4 L404.8,426.4 L406.3,423.8 L407.8,421.5 L409.3,419.3 L410.8,417.3 L412.3,415.5 L413.8,413.7 L415.3,412.1 L416.8,410.6 L418.3,409.3 L419.8,408.1 L421.3,406.9 L422.8,405.9 L424.3,405.0 L425.8,404.2 L427.3,403.5 L428.8,402.8 L430.3,402.2 L431.8,401.9 L433.3,401.8 L434.8,401.8 L436.3,401.8 L437.8,401.8 L439.3,401.8 L440.8,401.8 L442.3,401.8 L443.8,401.8 L445.3,401.8 L446.8,401.8 L448.3,401.8 L449.8,401.8 L451.3,401.8 L452.8,401.8 L454.3,401.8 L455.8,401.8 L457.3,401.8 L458.8,401.8 L460.3,401.8 L461.8,401.8 L463.3,401.8 L464.8,401.8 L466.3,401.8 L467.8,401.9 L469.3,402.2 L470.8,402.5 L472.3,402.5 L473.8,402.5 L475.3,402.5 L476.8,402.5 L478.3,402.5 L479.8,402.5 L481.3,402.5 L482.8,402.5 L484.3,402.5 L485.8,402.5 L487.3,402.5 L488.8,402.5 L490.3,402.5 L491.8,402.5 L493.3,402.5 L494.8,402.5 L495.6,402.5 L496.3,401.8 L497.8,399.9 L499.3,398.1 L500.8,396.3 L502.3,394.5 L503.8,392.6 L505.3,390.5 L506.8,388.4 L508.3,386.2 L509.8,383.9 L511.3,381.5 L512.8,379.0 L514.3,376.5 L515.8,373.7 L517.3,370.9 L518.8,368.1 L520.3,365.3 L521.8,362.5 L523.3,359.8 L524.8,357.1 L526.3,354.4 L527.8,351.8 L529.3,349.2 L530.8,346.8 L532.3,344.5 L533.8,342.3 L535.3,340.1 L536.8,338.0 L538.3,336.1 L539.8,334.2 L541.3,332.4 L542.8,330.6 L544.3,329.0 L545.8,327.4 L547.3,325.9 L548.8,324.6 L550.3,323.2 L551.8,321.9 L553.3,320.7 L554.8,319.6 L556.3,318.7 L557.8,318.0 L559.3,317.4 L560.8,316.8 L562.3,316.4 L563.8,316.1 L565.3,316.0 L566.8,316.0 L568.3,316.0 L569.8,316.0 L571.3,316.0 L572.8,316.0 L574.3,316.0 L575.8,316.0 L577.3,316.0 L578.8,316.0 L580.3,316.0 L581.8,316.0 L583.3,316.0 L584.8,316.0 L586.3,316.0 L587.8,316.0 L589.3,316.0 L590.8,316.0 L592.3,316.0 L593.0,316.0 L593.8,316.7 L595.3,318.0 L596.8,319.3 L598.3,320.7 L599.8,322.0 L601.3,323.2 L602.8,324.5 L604.3,325.7 L605.8,326.8 L607.3,328.0 L608.8,329.1 L610.3,330.1 L611.8,331.1 L613.3,332.1 L614.8,333.0 L616.3,333.8 L617.8,334.7 L619.3,335.5 L620.8,336.1 L622.3,336.7 L623.8,337.2 L625.3,337.6 L626.8,338.0 L628.3,338.4 L629.8,338.6 L631.3,338.8 L632.8,338.8 L634.3,338.8 L635.8,338.8 L637.3,338.8 L638.8,338.8 L640.3,338.8 L641.8,338.8 L643.3,338.8 L644.8,338.8 L646.3,338.8 L647.8,338.8 L649.3,338.8 L650.8,338.8 L651.0,338.8 L652.3,337.3 L653.8,335.6 L655.3,333.9 L656.8,332.3 L658.3,330.6 L659.8,329.0 L661.3,327.3 L662.8,325.7 L664.3,324.2 L665.8,322.6 L667.3,321.1 L668.8,319.7 L670.3,318.2 L671.8,316.7 L673.3,315.2 L674.8,313.7 L676.3,312.2 L677.8,310.6 L679.3,309.0 L680.8,307.4 L682.3,305.9 L683.8,304.5 L685.3,303.3 L686.8,302.1 L688.3,301.0 L689.8,300.0 L691.3,299.0 L692.8,298.1 L694.3,297.3 L695.8,296.5 L697.3,295.8 L698.8,295.0 L700.3,294.4 L701.8,294.0 L703.3,293.7 L704.8,293.5 L706.3,293.3 L707.8,293.2 L709.3,293.1 L710.8,293.0 L712.3,293.0 L713.8,293.0 L715.3,293.0 L716.8,293.0 L718.3,293.0 L719.8,293.0 L721.3,293.0 L722.8,293.0 L724.3,293.0 L725.8,293.0 L727.3,293.0 L728.8,293.0 L730.3,293.0 L731.8,293.0 L732.7,293.0 L733.3,293.4 L734.8,294.8 L736.3,296.1 L737.8,297.4 L739.3,298.8 L740.8,300.1 L742.3,301.4 L743.8,302.7 L745.3,304.0 L746.8,305.3 L748.3,306.7 L749.8,308.0 L751.3,309.3 L752.8,310.6 L754.3,311.8 L755.8,312.9 L757.3,314.0 L758.8,315.0 L760.3,316.0 L761.8,317.0 L763.3,317.9 L764.8,318.8 L766.3,319.7 L767.8,320.5 L769.3,321.3 L770.8,321.8 L772.3,322.1 L773.8,322.4 L775.3,322.6 L776.8,322.8 L778.3,323.0 L779.8,323.0 L781.3,323.0 L782.8,323.0 L784.3,323.0 L785.8,323.0 L787.3,323.0 L788.8,323.0 L790.3,323.0 L791.8,323.0 L793.3,322.9 L794.8,322.9 L796.3,322.9 L797.8,322.8 L799.3,322.8 L800.8,322.8 L802.3,322.7 L802.3,322.7 L803.8,321.2 L805.3,319.7 L806.8,318.1 L808.3,316.6 L809.8,315.1 L811.3,313.6 L812.8,312.2 L814.3,310.9 L815.8,309.5 L817.3,308.3 L818.8,307.0 L820.3,305.7 L821.8,304.5 L823.3,303.2 L824.8,301.9 L826.3,300.6 L827.8,299.3 L829.3,298.0 L830.8,296.8 L832.3,295.8 L833.8,294.7 L835.3,293.8 L836.8,292.9 L838.3,292.0 L839.8,291.3 L841.3,290.7 L842.8,290.0 L844.3,289.5 L845.8,289.0 L847.3,288.8 L848.8,288.6 L850.3,288.4 L851.8,288.2 L853.3,288.1 L854.8,288.0 L856.3,288.0 L857.8,287.9 L859.3,287.8 L860.8,287.7 L862.3,287.6 L863.8,287.5 L865.3,287.5 L866.8,287.4 L868.3,287.3 L869.8,287.3 L871.3,287.2 L872.8,287.2 L874.3,287.2 L875.8,287.1 L877.3,287.1 L878.8,287.1 L880.0,287.1 L880.3,287.2 L881.8,288.7 L883.3,290.0 L884.8,291.4 L886.3,292.9 L887.8,294.4 L889.3,296.0 L890.8,297.5 L892.3,299.0 L893.8,300.5 L895.3,302.0 L896.8,303.5 L898.3,305.0 L899.8,306.4 L901.3,307.9 L902.8,309.3 L904.3,310.6 L905.8,311.8 L907.3,313.0 L908.8,314.0 L910.3,315.0 L911.8,316.0 L913.3,316.8 L914.8,317.6 L916.3,318.3 L917.8,318.9 L919.3,319.3 L920.8,319.7 L922.3,319.9 L923.8,319.9 L925.3,319.9 L926.8,319.9 L928.3,319.9 L929.8,319.9 L931.3,319.9 L932.8,319.9 L934.3,319.9 L935.8,319.9 L937.3,319.9 L938.8,319.9 L940.3,319.9 L941.8,319.9 L943.3,319.9 L944.8,319.9 L946.3,319.9 L947.8,319.9 L949.3,319.9 L950.5,319.9 L950.8,319.8 L952.3,318.0 L953.8,316.5 L955.3,314.9 L956.8,313.4 L958.3,311.9 L959.8,310.5 L961.3,309.0 L962.8,307.6 L964.3,306.2 L965.8,304.8 L967.3,303.5 L968.8,302.1 L970.3,300.8 L971.8,299.5 L973.3,298.2 L974.8,297.0 L976.3,295.8 L977.8,294.6 L979.3,293.5 L980.8,292.5 L982.3,291.6 L983.8,290.7 L985.3,289.9 L986.8,289.2 L988.3,288.7 L989.8,288.3 L991.3,287.9 L992.8,287.6 L994.3,287.4 L995.8,287.3 L997.3,287.2 L998.8,287.1 L1000.3,287.1 L1001.8,287.1 L1003.3,287.1 L1004.8,287.1 L1006.3,287.1 L1007.8,287.1 L1009.3,287.1 L1010.8,287.1 L1012.3,287.1 L1013.8,287.1 L1015.3,287.1 L1016.8,287.1 L1018.3,287.1 L1019.8,287.1 L1021.3,287.1 L1022.8,287.1 L1024.3,287.1 L1025.8,287.1 L1026.6,287.1 L1027.3,287.6 L1028.8,289.0 L1030.3,290.3 L1031.8,291.7 L1033.3,293.2 L1034.8,294.8 L1036.3,296.4 L1037.8,297.9 L1039.3,299.4 L1040.8,300.9 L1042.3,302.4 L1043.8,303.9 L1045.3,305.3 L1046.8,306.8 L1048.3,308.2 L1049.8,309.7 L1051.3,311.0 L1052.8,312.1 L1054.3,313.3 L1055.8,314.3 L1057.3,315.3 L1058.8,316.2 L1060.3,317.0 L1061.8,317.8 L1063.3,318.5 L1064.8,319.1 L1066.3,319.4 L1067.8,319.7 L1069.3,319.9 L1070.8,319.9 L1072.3,319.9 L1073.8,319.9 L1075.3,319.9 L1076.8,319.9 L1078.3,319.9 L1079.8,319.9 L1081.3,319.9 L1082.8,319.9 L1084.3,319.9 L1085.8,319.9 L1087.3,319.9 L1088.8,319.9 L1090.3,319.9 L1091.8,319.9 L1093.3,319.9 L1094.8,319.9 L1096.3,319.9 L1097.1,319.9 L1097.8,319.3 L1099.3,317.6 L1100.8,316.1 L1102.3,314.5 L1103.8,313.0 L1105.3,311.6 L1106.8,310.1 L1108.3,308.7 L1109.8,307.3 L1111.3,305.9 L1112.8,304.5 L1114.3,303.1 L1115.8,301.8 L1117.3,300.5 L1118.8,299.2 L1120.3,297.9 L1121.8,296.7 L1123.3,295.5 L1124.8,294.3 L1126.3,293.3 L1127.8,292.3 L1129.3,291.4 L1130.8,290.5 L1132.3,289.7 L1133.8,289.1 L1135.3,288.5 L1136.8,288.0 L1138.3,287.6 L1139.8,287.2 L1141.3,286.9 L1142.8,286.7 L1144.3,286.6 L1145.8,286.4 L1147.3,285.9 L1148.8,284.9 L1150.3,284.4 L1151.8,284.3 L1153.3,284.3 L1154.8,284.3 L1156.3,284.3 L1157.8,284.3 L1159.3,284.3 L1160.8,284.3 L1162.3,284.3 L1163.8,284.3 L1165.3,284.3 L1166.8,284.3 L1168.3,284.3 L1169.1,284.3 L1169.8,284.7 L1171.3,286.0 L1172.8,287.1 L1174.3,288.2 L1175.8,289.4 L1177.3,290.7 L1178.8,292.1 L1180.3,293.6 L1181.8,295.1 L1183.3,296.7 L1184.8,298.3 L1186.3,299.8 L1187.8,301.3 L1189.3,302.8 L1190.8,304.2 L1192.3,305.7 L1193.8,307.1 L1195.3,308.6 L1196.8,310.0 L1198.3,311.3 L1199.8,312.4 L1201.3,313.5 L1202.8,314.6 L1204.3,315.5 L1205.8,316.4 L1207.3,317.2 L1208.8,318.0 L1210.3,318.6 L1211.8,319.2 L1213.3,319.5 L1214.8,319.8 L1216.3,319.9 L1217.8,319.9 L1219.3,319.9 L1220.8,319.9 L1222.3,319.9 L1223.8,319.9 L1225.3,319.9 L1226.8,319.9 L1228.3,319.9 L1229.8,319.9 L1231.3,319.9 L1232.8,319.9 L1234.3,319.9 L1235.8,319.9 L1237.3,319.9 L1238.8,319.9 L1240.3,319.9 L1241.8,319.9 L1243.3,319.9 L1243.8,319.9 L1244.8,318.8 L1246.3,317.2 L1247.8,315.7 L1249.3,314.1 L1250.8,312.7 L1252.3,311.2 L1253.8,309.8 L1255.3,308.3 L1256.8,306.9 L1258.3,305.5 L1259.8,304.2 L1261.3,302.8 L1262.8,301.5 L1264.3,300.2 L1265.8,298.9 L1267.3,297.6 L1268.8,296.4 L1270.3,295.2 L1271.8,294.0 L1273.3,293.0 L1274.8,292.1 L1276.3,291.1 L1277.8,290.2 L1279.3,289.5 L1280.8,289.0 L1282.3,288.5 L1283.8,288.1 L1285.3,287.8 L1286.8,287.5 L1288.3,287.3 L1289.8,287.2 L1291.3,287.1 L1292.8,287.1 L1294.3,287.1 L1295.8,287.1 L1297.3,287.1 L1298.8,287.1 L1300.3,287.1 L1301.8,287.1 L1303.3,287.1 L1304.8,287.1 L1306.3,287.1 L1307.8,287.1 L1309.3,287.1 L1310.8,287.1 L1312.3,287.1 L1313.8,287.1 L1315.3,287.1 L1316.8,287.1 L1318.3,287.1 L1319.8,287.1 L1319.8,287.1 L1321.3,288.4 L1322.8,289.7 L1324.3,291.0 L1325.8,292.5 L1327.3,294.0 L1328.8,295.6 L1330.3,297.1 L1331.8,298.7 L1333.3,300.2 L1334.8,301.7 L1336.3,303.1 L1337.8,304.6 L1339.3,306.1 L1340.8,307.5 L1342.3,309.0 L1343.8,310.3 L1345.3,311.6 L1346.8,312.7 L1348.3,313.8 L1349.8,314.8 L1351.3,315.7 L1352.8,316.6 L1354.3,317.4 L1355.8,318.1 L1357.3,318.8 L1358.8,319.3 L1360.3,319.6 L1361.8,319.8 L1363.3,319.9 L1364.8,319.9 L1366.3,319.9 L1367.8,319.9 L1369.3,319.9 L1370.8,319.9 L1372.3,319.9 L1373.8,319.9 L1375.3,319.9 L1376.8,319.9 L1378.3,319.9 L1379.8,319.9 L1381.3,319.9 L1382.8,319.9 L1384.3,319.9 L1385.8,319.9 L1387.3,319.9 L1388.8,319.9 L1390.3,319.9 L1390.4,319.9 L1391.8,318.4 L1393.3,316.9 L1394.8,315.3 L1396.3,313.8 L1397.8,312.3 L1399.3,310.8 L1400.8,309.4 L1402.3,308.0 L1403.8,306.6 L1405.3,305.2 L1406.8,303.8 L1408.3,302.5 L1409.8,301.1 L1411.3,299.8 L1412.8,298.6 L1414.3,297.3 L1415.8,296.1 L1417.3,294.9 L1418.8,293.8 L1420.3,292.8 L1421.8,291.8 L1423.3,290.9 L1424.8,290.0 L1426.3,289.3 L1427.8,288.8 L1429.3,288.4 L1430.8,288.0 L1432.3,287.7 L1433.8,287.4 L1435.3,287.3 L1436.8,287.2 L1438.3,287.1 L1439.8,287.1 L1441.3,287.1 L1442.8,287.1 L1444.3,287.1 L1445.8,287.1 L1447.3,287.1 L1448.8,287.1 L1450.3,287.1 L1451.8,287.1 L1453.3,287.1 L1454.8,287.1 L1456.3,287.1 L1457.8,287.1 L1459.3,287.1 L1460.8,287.1 L1462.3,287.1 L1463.8,287.1 L1465.3,287.1 L1466.5,287.1 L1466.8,287.2 L1468.3,288.7 L1469.8,290.0 L1471.3,291.4 L1472.8,292.9 L1474.3,294.4 L1475.8,296.0 L1477.3,297.5 L1478.8,299.0 L1480.3,300.5 L1481.8,302.0 L1483.3,303.5 L1484.8,305.0 L1486.3,306.4 L1487.8,307.9 L1489.3,309.3 L1490.8,310.6 L1492.3,311.8 L1493.8,313.0 L1495.3,314.0 L1496.8,315.0 L1498.3,316.0 L1499.8,316.8 L1501.3,317.6 L1502.8,318.3 L1504.3,318.9 L1505.8,319.3 L1507.3,319.7 L1508.8,319.9 L1510.3,319.9 L1511.8,319.9 L1513.3,319.9 L1514.8,319.9 L1516.3,319.9 L1517.8,319.9 L1519.3,319.9 L1520.8,319.9 L1522.3,319.9 L1523.8,319.9 L1525.3,319.9 L1526.8,319.9 L1528.3,319.9 L1529.8,319.9 L1531.3,319.9 L1532.8,319.9 L1534.3,319.9 L1535.8,319.9 L1537.0,319.9 L1537.3,319.8 L1538.8,318.0 L1540.3,316.5 L1541.8,314.9 L1543.3,313.4 L1544.8,311.9 L1546.3,310.5 L1547.8,309.0 L1549.3,307.6 L1550.8,306.2 L1552.3,304.8 L1553.8,303.5 L1555.3,302.1 L1556.8,300.8 L1558.3,299.5 L1559.8,298.2 L1561.3,297.0 L1562.8,295.8 L1564.3,294.6 L1565.8,293.5 L1567.3,292.5 L1568.8,291.6 L1570.3,290.7 L1571.8,289.9 L1573.3,289.2 L1574.8,288.7 L1576.3,288.3 L1577.8,287.9 L1579.3,287.6 L1580.8,287.4 L1582.3,287.3 L1583.8,287.2 L1585.3,287.1 L1586.8,287.1 L1588.3,287.1 L1589.8,287.1 L1591.3,287.1 L1592.8,287.1 L1594.3,287.1 L1595.8,287.1 L1597.3,287.1 L1598.8,287.1 L1600.3,287.1 L1601.8,287.1 L1603.3,287.1 L1604.8,287.1 L1606.3,287.1 L1607.8,287.1 L1609.3,287.1 L1610.8,287.1 L1612.3,287.1 L1613.1,287.1 L1613.8,287.6 L1615.3,289.0 L1616.8,290.3 L1618.3,291.7 L1619.8,293.2 L1621.3,294.8 L1622.8,296.4 L1624.3,297.9 L1625.8,299.4 L1627.3,300.9 L1628.8,302.4 L1630.3,303.9 L1631.8,305.3 L1633.3,306.8 L1634.8,308.2 L1636.3,309.7 L1637.8,311.0 L1639.3,312.1 L1640.8,313.3 L1642.3,314.3 L1643.8,315.3 L1645.3,316.2 L1646.8,317.0 L1648.3,317.8 L1649.8,318.5 L1651.3,319.1 L1652.8,319.4 L1654.3,319.7 L1655.8,319.9 L1657.3,319.9 L1658.8,319.9 L1660.3,319.9 L1661.8,319.9 L1663.3,319.9 L1664.0,319.9" stroke-width="5.6" stroke-linejoin="round" shape-rendering="auto"/>
<path stroke="#ff0000" d="M197.8,1066.0 L199.3,1058.9 L200.8,1051.3 L202.3,1043.3 L203.8,1034.5 L205.3,1025.5 L206.8,1016.7 L208.3,1008.0 L209.8,999.3 L211.3,990.6 L212.8,981.9 L214.3,973.3 L215.8,964.6 L217.3,955.8 L218.8,947.1 L220.3,938.5 L221.8,930.0 L223.3,921.7 L224.8,913.6 L226.3,905.5 L227.8,897.5 L229.3,889.4 L230.8,881.1 L232.3,872.7 L233.8,864.1 L235.3,855.4 L236.8,846.5 L238.3,837.4 L239.8,828.1 L241.3,819.2 L242.8,810.7 L244.3,802.3 L245.8,793.6 L247.3,784.6 L248.8,776.1 L250.3,768.9 L251.8,762.4 L253.3,756.1 L254.8,749.5 L256.3,742.5 L257.8,735.6 L259.3,729.2 L260.8,723.5 L262.3,718.4 L263.8,713.6 L265.3,708.9 L266.8,704.1 L268.3,699.2 L269.8,694.1 L271.3,689.1 L272.8,684.4 L274.3,680.0 L275.8,676.0 L277.3,672.1 L278.8,668.4 L280.3,665.0 L281.8,661.9 L283.3,659.1 L284.8,656.5 L286.3,654.2 L287.8,652.0 L289.3,650.1 L290.8,648.4 L292.3,646.8 L293.8,645.3 L295.3,643.9 L296.8,642.6 L298.3,641.5 L299.8,640.5 L301.3,639.7 L302.8,638.9 L304.3,638.2 L305.8,637.5 L307.3,636.8 L308.8,636.1 L310.3,635.4 L311.8,634.8 L313.3,634.2 L314.8,633.6 L316.3,633.0 L317.8,632.4 L319.3,631.7 L320.8,630.9 L322.3,630.0 L323.8,629.0 L325.3,627.8 L326.8,626.5 L328.3,625.1 L329.8,623.6 L331.3,622.1 L332.8,620.5 L334.3,618.7 L335.8,616.8 L337.3,614.7 L338.8,612.5 L340.3,610.3 L341.8,607.9 L343.3,605.4 L344.8,602.7 L346.3,599.9 L347.8,596.9 L349.3,593.9 L350.8,590.7 L352.3,587.3 L353.8,583.7 L355.3,579.9 L356.8,576.0 L358.3,571.6 L359.8,567.0 L361.3,562.0 L362.8,557.0 L364.3,552.0 L365.8,547.0 L367.3,541.9 L368.8,536.8 L370.3,531.6 L371.8,526.5 L373.3,521.4 L374.8,516.2 L376.3,511.1 L377.8,506.0 L379.3,501.0 L380.8,496.1 L382.3,491.2 L383.8,486.4 L385.3,481.6 L386.8,477.1 L388.3,472.7 L389.8,468.4 L391.3,464.2 L392.8,460.1 L394.3,455.9 L395.8,451.6 L397.3,446.9 L398.8,441.9 L400.3,437.2 L401.8,432.9 L403.3,429.4 L404.8,426.4 L406.3,423.8 L407.8,421.5 L409.3,419.3 L410.8,417.3 L412.3,415.5 L413.8,413.7 L415.3,412.1 L416.8,410.6 L418.3,409.3 L419.8,408.1 L421.3,406.9 L422.8,405.9 L424.3,405.0 L425.8,404.2 L427.3,403.5 L428.8,402.8 L430.3,402.2 L431.8,401.9 L433.3,401.8 L434.8,401.8 L436.3,401.8 L437.8,401.8 L439.3,401.8 L440.8,401.8 L442.3,401.8 L443.8,401.8 L445.3,401.8 L446.8,401.8 L448.3,401.8 L449.8,401.8 L451.3,401.8 L452.8,401.8 L454.3,401.8 L455.8,401.8 L457.3,401.8 L458.8,401.8 L460.3,401.8 L461.8,401.8 L463.3,401.8 L464.8,401.8 L466.3,401.8 L467.8,401.9 L469.3,402.2 L470.8,402.5 L472.3,402.5 L473.8,402.5 L475.3,402.5 L476.8,402.5 L478.3,402.5 L479.8,402.5 L481.3,402.5 L482.8,402.5 L484.3,402.5 L485.8,402.5 L487.3,402.5 L488.8,402.5 L490.3,402.5 L491.8,402.5 L493.3,402.5 L494.8,402.5 L495.6,402.5 L496.3,401.8 L497.8,399.9 L499.3,398.1 L500.8,396.3 L502.3,394.5 L503.8,392.6 L505.3,390.5 L506.8,388.4 L508.3,386.2 L509.8,383.9 L511.3,381.5 L512.8,379.0 L514.3,376.5 L515.8,373.7 L517.3,370.9 L518.8,368.1 L520.3,365.3 L521.8,362.5 L523.3,359.8 L524.8,357.1 L526.3,354.4 L527.8,351.8 L529.3,349.2 L530.8,346.8 L532.3,344.5 L533.8,342.3 L535.3,340.1 L536.8,338.0 L538.3,336.1 L539.8,334.2 L541.3,332.4 L542.8,330.6 L544.3,329.0 L545.8,327.4 L547.3,325.9 L548.8,324.6 L550.3,323.2 L551.8,321.9 L553.3,320.7 L554.8,319.6 L556.3,318.7 L557.8,318.0 L559.3,317.4 L560.8,316.8 L562.3,316.4 L563.8,316.1 L565.3,316.0 L566.8,316.0 L568.3,316.0 L569.8,316.0 L571.3,316.0 L572.8,316.0 L574.3,316.0 L575.8,316.0 L577.3,316.0 L578.8,316.0 L580.3,316.0 L581.8,316.0 L583.3,316.0 L584.8,316.0 L586.3,316.0 L587.8,316.0 L589.3,316.0 L590.8,316.0 L592.3,316.0 L593.0,316.0 L593.8,316.7 L595.3,318.0 L596.8,319.3 L598.3,320.7 L599.8,322.0 L601.3,323.2 L602.8,324.5 L604.3,325.7 L605.8,326.8 L607.3,328.0 L608.8,329.1 L610.3,330.1 L611.8,331.1 L613.3,332.1 L614.8,333.0 L616.3,333.8 L617.8,334.7 L619.3,335.5 L620.8,336.1 L622.3,336.7 L623.8,337.2 L625.3,337.6 L626.8,338.0 L628.3,338.4 L629.8,338.6 L631.3,338.8 L632.8,338.8 L634.3,338.8 L635.8,338.8 L637.3,338.8 L638.8,338.8 L640.3,338.8 L641.8,338.8 L643.3,338.8 L644.8,338.8 L646.3,338.8 L647.8,338.8 L649.3,338.8 L650.8,338.8 L651.0,338.8 L652.3,337.3 L653.8,335.6 L655.3,333.9 L656.8,332.3 L658.3,330.6 L659.8,329.0 L661.3,327.3 L662.8,325.7 L664.3,324.2 L665.8,322.6 L667.3,321.1 L668.8,319.7 L670.3,318.2 L671.8,316.7 L673.3,315.2 L674.8,313.7 L676.3,312.2 L677.8,310.6 L679.3,309.0 L680.8,307.4 L682.3,305.9 L683.8,304.5 L685.3,303.3 L686.8,302.1 L688.3,301.0 L689.8,300.0 L691.3,299.0 L692.8,298.1 L694.3,297.3 L695.8,296.5 L697.3,295.8 L698.8,295.0 L700.3,294.4 L701.8,294.0 L703.3,293.7 L704.8,293.5 L706.3,293.3 L707.8,293.2 L709.3,293.1 L710.8,293.0 L712.3,293.0 L713.8,293.0 L715.3,293.0 L716.8,293.0 L718.3,293.0 L719.8,293.0 L721.3,293.0 L722.8,293.0 L724.3,293.0 L725.8,293.0 L727.3,293.0 L728.8,293.0 L730.3,293.0 L731.8,293.0 L732.7,293.0 L733.3,293.4 L734.8,294.8 L736.3,296.1 L737.8,297.4 L739.3,298.8 L740.8,300.1 L742.3,301.4 L743.8,302.7 L745.3,304.0 L746.8,305.3 L748.3,306.7 L749.8,308.0 L751.3,309.3 L752.8,310.6 L754.3,311.8 L755.8,312.9 L757.3,314.0 L758.8,315.0 L760.3,316.0 L761.8,317.0 L763.3,317.9 L764.8,318.8 L766.3,319.7 L767.8,320.5 L769.3,321.3 L770.8,321.8 L772.3,322.1 L773.8,322.4 L775.3,322.6 L776.8,322.8 L778.3,323.0 L779.8,323.0 L781.3,323.0 L782.8,323.0 L784.3,323.0 L785.8,323.0 L787.3,323.0 L788.8,323.0 L790.3,323.0 L791.8,323.0 L793.3,322.9 L794.8,322.9 L796.3,322.9 L797.8,322.8 L799.3,322.8 L800.8,322.8 L802.3,322.7 L802.3,322.7 L803.8,321.2 L805.3,319.7 L806.8,318.1 L808.3,316.6 L809.8,315.1 L811.3,313.6 L812.8,312.2 L814.3,310.9 L815.8,309.5 L817.3,308.3 L818.8,307.0 L820.3,305.7 L821.8,304.5 L823.3,303.2 L824.8,301.9 L826.3,300.6 L827.8,299.3 L829.3,298.0 L830.8,296.8 L832.3,295.8 L833.8,294.7 L835.3,293.8 L836.8,292.9 L838.3,292.0 L839.8,291.3 L841.3,290.7 L842.8,290.0 L844.3,289.5 L845.8,289.0 L847.3,288.8 L848.8,288.6 L850.3,288.4 L851.8,288.2 L853.3,288.1 L854.8,288.0 L856.3,288.0 L857.8,287.9 L859.3,287.8 L860.8,287.7 L862.3,287.6 L863.8,287.5 L865.3,287.5 L866.8,287.4 L868.3,287.3 L869.8,287.3 L871.3,287.2 L872.8,287.2 L874.3,287.2 L875.8,287.1 L877.3,287.1 L878.8,287.1 L880.0,287.1 L880.3,287.2 L881.8,288.7 L883.3,290.0 L884.8,291.4 L886.3,292.9 L887.8,294.4 L889.3,296.0 L890.8,297.5 L892.3,299.0 L893.8,300.5 L895.3,302.0 L896.8,303.5 L898.3,305.0 L899.8,306.4 L901.3,307.9 L902.8,309.3 L904.3,310.6 L905.8,311.8 L907.3,313.0 L908.8,314.0 L910.3,315.0 L911.8,316.0 L913.3,316.8 L914.8,317.6 L916.3,318.3 L917.8,318.9 L919.3,319.3 L920.8,319.7 L922.3,319.9 L923.8,319.9 L925.3,319.9 L926.8,319.9 L928.3,319.9 L929.8,319.9 L931.3,319.9 L932.8,319.9 L934.3,319.9 L935.8,319.9 L937.3,319.9 L938.8,319.9 L940.3,319.9 L941.8,319.9 L943.3,319.9 L944.8,319.9 L946.3,319.9 L947.8,319.9 L949.3,319.9 L950.5,319.9 L950.8,319.8 L952.3,318.0 L953.8,316.5 L955.3,314.9 L956.8,313.4 L958.3,311.9 L959.8,310.5 L961.3,309.0 L962.8,307.6 L964.3,306.2 L965.8,304.8 L967.3,303.5 L968.8,302.1 L970.3,300.8 L971.8,299.5 L973.3,298.2 L974.8,297.0 L976.3,295.8 L977.8,294.6 L979.3,293.5 L980.8,292.5 L982.3,291.6 L983.8,290.7 L985.3,289.9 L986.8,289.2 L988.3,288.7 L989.8,288.3 L991.3,287.9 L992.8,287.6 L994.3,287.4 L995.8,287.3 L997.3,287.2 L998.8,287.1 L1000.3,287.1 L1001.8,287.1 L1003.3,287.1 L1004.8,287.1 L1006.3,287.1 L1007.8,287.1 L1009.3,287.1 L1010.8,287.1 L1012.3,287.1 L1013.8,287.1 L1015.3,287.1 L1016.8,287.1 L1018.3,287.1 L1019.8,287.1 L1021.3,287.1 L1022.8,287.1 L1024.3,287.1 L1025.8,287.1 L1026.6,287.1 L1027.3,287.6 L1028.8,289.0 L1030.3,290.3 L1031.8,291.7 L1033.3,293.2 L1034.8,294.8 L1036.3,296.4 L1037.8,297.9 L1039.3,299.4 L1040.8,300.9 L1042.3,302.4 L1043.8,303.9 L1045.3,305.3 L1046.8,306.8 L1048.3,308.2 L1049.8,309.7 L1051.3,311.0 L1052.8,312.1 L1054.3,313.3 L1055.8,314.3 L1057.3,315.3 L1058.8,316.2 L1060.3,317.0 L1061.8,317.8 L1063.3,318.5 L1064.8,319.1 L1066.3,319.4 L1067.8,319.7 L1069.3,319.9 L1070.8,319.9 L1072.3,319.9 L1073.8,319.9 L1075.3,319.9 L1076.8,319.9 L1078.3,319.9 L1079.8,319.9 L1081.3,319.9 L1082.8,319.9 L1084.3,319.9 L1085.8,319.9 L1087.3,319.9 L1088.8,319.9 L1090.3,319.9 L1091.8,319.9 L1093.3,319.9 L1094.8,319.9 L1096.3,319.9 L1097.1,319.9 L1097.8,319.3 L1099.3,317.6 L1100.8,316.1 L1102.3,314.5 L1103.8,313.0 L1105.3,311.6 L1106.8,310.1 L1108.3,308.7 L1109.8,307.3 L1111.3,305.9 L1112.8,304.5 L1114.3,303.1 L1115.8,301.8 L1117.3,300.5 L1118.8,299.2 L1120.3,297.9 L1121.8,296.7 L1123.3,295.5 L1124.8,294.3 L1126.3,293.3 L1127.8,292.3 L1129.3,291.4 L1130.8,290.5 L1132.3,289.7 L1133.8,289.1 L1135.3,288.5 L1136.8,288.0 L1138.3,287.6 L1139.8,287.2 L1141.3,286.9 L1142.8,286.7 L1144.3,286.6 L1145.8,286.4 L1147.3,285.9 L1148.8,284.9 L1150.3,284.4 L1151.8,284.3 L1153.3,284.3 L1154.8,284.3 L1156.3,284.3 L1157.8,284.3 L1159.3,284.3 L1160.8,284.3 L1162.3,284.3 L1163.8,284.3 L1165.3,284.3 L1166.8,284.3 L1168.3,284.3 L1169.1,284.3 L1169.8,284.7 L1171.3,286.0 L1172.8,287.1 L1174.3,288.2 L1175.8,289.4 L1177.3,290.7 L1178.8,292.1 L1180.3,293.6 L1181.8,295.1 L1183.3,296.7 L1184.8,298.3 L1186.3,299.8 L1187.8,301.3 L1189.3,302.8 L1190.8,304.2 L1192.3,305.7 L1193.8,307.1 L1195.3,308.6 L1196.8,310.0 L1198.3,311.3 L1199.8,312.4 L1201.3,313.5 L1202.8,314.6 L1204.3,315.5 L1205.8,316.4 L1207.3,317.2 L1208.8,318.0 L1210.3,318.6 L1211.8,319.2 L1213.3,319.5 L1214.8,319.8 L1216.3,319.9 L1217.8,319.9 L1219.3,319.9 L1220.8,319.9 L1222.3,319.9 L1223.8,319.9 L1225.3,319.9 L1226.8,319.9 L1228.3,319.9 L1229.8,319.9 L1231.3,319.9 L1232.8,319.9 L1234.3,319.9 L1235.8,319.9 L1237.3,319.9 L1238.8,319.9 L1240.3,319.9 L1241.8,319.9 L1243.3,319.9 L1243.8,319.9 L1244.8,318.8 L1246.3,317.2 L1247.8,315.7 L1249.3,314.1 L1250.8,312.7 L1252.3,311.2 L1253.8,309.8 L1255.3,308.3 L1256.8,306.9 L1258.3,305.5 L1259.8,304.2 L1261.3,302.8 L1262.8,301.5 L1264.3,300.2 L1265.8,298.9 L1267.3,297.6 L1268.8,296.4 L1270.3,295.2 L1271.8,294.0 L1273.3,293.0 L1274.8,292.1 L1276.3,291.1 L1277.8,290.2 L1279.3,289.5 L1280.8,289.0 L1282.3,288.5 L1283.8,288.1 L1285.3,287.8 L1286.8,287.5 L1288.3,287.3 L1289.8,287.2 L1291.3,287.1 L1292.8,287.1 L1294.3,287.1 L1295.8,287.1 L1297.3,287.1 L1298.8,287.1 L1300.3,287.1 L1301.8,287.1 L1303.3,287.1 L1304.8,287.1 L1306.3,287.1 L1307.8,287.1 L1309.3,287.1 L1310.8,287.1 L1312.3,287.1 L1313.8,287.1 L1315.3,287.1 L1316.8,287.1 L1318.3,287.1 L1319.8,287.1 L1319.8,287.1 L1321.3,288.4 L1322.8,289.7 L1324.3,291.0 L1325.8,292.5 L1327.3,294.0 L1328.8,295.6 L1330.3,297.1 L1331.8,298.7 L1333.3,300.2 L1334.8,301.7 L1336.3,303.1 L1337.8,304.6 L1339.3,306.1 L1340.8,307.5 L1342.3,309.0 L1343.8,310.3 L1345.3,311.6 L1346.8,312.7 L1348.3,313.8 L1349.8,314.8 L1351.3,315.7 L1352.8,316.6 L1354.3,317.4 L1355.8,318.1 L1357.3,318.8 L1358.8,319.3 L1360.3,319.6 L1361.8,319.8 L1363.3,319.9 L1364.8,319.9 L1366.3,319.9 L1367.8,319.9 L1369.3,319.9 L1370.8,319.9 L1372.3,319.9 L1373.8,319.9 L1375.3,319.9 L1376.8,319.9 L1378.3,319.9 L1379.8,319.9 L1381.3,319.9 L1382.8,319.9 L1384.3,319.9 L1385.8,319.9 L1387.3,319.9 L1388.8,319.9 L1390.3,319.9 L1390.4,319.9 L1391.8,318.4 L1393.3,316.9 L1394.8,315.3 L1396.3,313.8 L1397.8,312.3 L1399.3,310.8 L1400.8,309.4 L1402.3,308.0 L1403.8,306.6 L1405.3,305.2 L1406.8,303.8 L1408.3,302.5 L1409.8,301.1 L1411.3,299.8 L1412.8,298.6 L1414.3,297.3 L1415.8,296.1 L1417.3,294.9 L1418.8,293.8 L1420.3,292.8 L1421.8,291.8 L1423.3,290.9 L1424.8,290.0 L1426.3,289.3 L1427.8,288.8 L1429.3,288.4 L1430.8,288.0 L1432.3,287.7 L1433.8,287.4 L1435.3,287.3 L1436.8,287.2 L1438.3,287.1 L1439.8,287.1 L1441.3,287.1 L1442.8,287.1 L1444.3,287.1 L1445.8,287.1 L1447.3,287.1 L1448.8,287.1 L1450.3,287.1 L1451.8,287.1 L1453.3,287.1 L1454.8,287.1 L1456.3,287.1 L1457.8,287.1 L1459.3,287.1 L1460.8,287.1 L1462.3,287.1 L1463.8,287.1 L1465.3,287.1 L1466.5,287.1 L1466.8,287.2 L1468.3,288.7 L1469.8,290.0 L1471.3,291.4 L1472.8,292.9 L1474.3,294.4 L1475.8,296.0 L1477.3,297.5 L1478.8,299.0 L1480.3,300.5 L1481.8,302.0 L1483.3,303.5 L1484.8,305.0 L1486.3,306.4 L1487.8,307.9 L1489.3,309.3 L1490.8,310.6 L1492.3,311.8 L1493.8,313.0 L1495.3,314.0 L1496.8,315.0 L1498.3,316.0 L1499.8,316.8 L1501.3,317.6 L1502.8,318.3 L1504.3,318.9 L1505.8,319.3 L1507.3,319.7 L1508.8,319.9 L1510.3,319.9 L1511.8,319.9 L1513.3,319.9 L1514.8,319.9 L1516.3,319.9 L1517.8,319.9 L1519.3,319.9 L1520.8,319.9 L1522.3,319.9 L1523.8,319.9 L1525.3,319.9 L1526.8,319.9 L1528.3,319.9 L1529.8,319.9 L1531.3,319.9 L1532.8,319.9 L1534.3,319.9 L1535.8,319.9 L1537.0,319.9 L1537.3,319.8 L1538.8,318.0 L1540.3,316.5 L1541.8,314.9 L1543.3,313.4 L1544.8,311.9 L1546.3,310.5 L1547.8,309.0 L1549.3,307.6 L1550.8,306.2 L1552.3,304.8 L1553.8,303.5 L1555.3,302.1 L1556.8,300.8 L1558.3,299.5 L1559.8,298.2 L1561.3,297.0 L1562.8,295.8 L1564.3,294.6 L1565.8,293.5 L1567.3,292.5 L1568.8,291.6 L1570.3,290.7 L1571.8,289.9 L1573.3,289.2 L1574.8,288.7 L1576.3,288.3 L1577.8,287.9 L1579.3,287.6 L1580.8,287.4 L1582.3,287.3 L1583.8,287.2 L1585.3,287.1 L1586.8,287.1 L1588.3,287.1 L1589.8,287.1 L1591.3,287.1 L1592.8,287.1 L1594.3,287.1 L1595.8,287.1 L1597.3,287.1 L1598.8,287.1 L1600.3,287.1 L1601.8,287.1 L1603.3,287.1 L1604.8,287.1 L1606.3,287.1 L1607.8,287.1 L1609.3,287.1 L1610.8,287.1 L1612.3,287.1 L1613.1,287.1 L1613.8,287.6 L1615.3,289.0 L1616.8,290.3 L1618.3,291.7 L1619.8,293.2 L1621.3,294.8 L1622.8,296.4 L1624.3,297.9 L1625.8,299.4 L1627.3,300.9 L1628.8,302.4 L1630.3,303.9 L1631.8,305.3 L1633.3,306.8 L1634.8,308.2 L1636.3,309.7 L1637.8,311.0 L1639.3,312.1 L1640.8,313.3 L1642.3,314.3 L1643.8,315.3 L1645.3,316.2 L1646.8,317.0 L1648.3,317.8 L1649.8,318.5 L1651.3,319.1 L1652.8,319.4 L1654.3,319.7 L1655.8,319.9 L1657.3,319.9 L1658.8,319.9 L1660.3,319.9 L1661.8,319.9 L1663.3,319.9 L1664.0,319.9"/>
<path stroke="#ff00ff" d="M197.8,1066.5 L199.3,1068.1 L200.8,1072.5 L202.3,1078.7 L203.8,1093.3 L205.3,1107.2 L206.8,1118.1 L208.3,1129.4 L209.8,1140.9 L211.3,1150.1 L212.8,1158.4 L214.3,1170.7 L215.8,1178.5 L217.3,1186.1 L218.8,1193.2 L220.3,1200.0 L221.8,1206.4 L223.3,1212.4 L224.8,1218.2 L226.3,1223.5 L227.8,1228.5 L229.3,1233.2 L230.8,1237.7 L232.3,1241.8 L233.8,1245.7 L235.3,1249.5 L236.8,1253.0 L238.3,1256.5 L239.8,1259.8 L241.3,1263.1 L242.8,1266.2 L244.3,1269.3 L245.8,1272.2 L247.3,1275.2 L248.8,1278.1 L250.3,1281.0 L251.8,1284.0 L253.3,1287.0 L254.8,1289.9 L256.3,1292.9 L257.8,1295.9 L259.3,1298.9 L260.8,1301.9 L262.3,1305.0 L263.8,1308.1 L265.3,1311.3 L266.8,1314.5 L268.3,1317.8 L269.8,1321.1 L271.3,1324.4 L272.8,1327.8 L274.3,1331.2 L275.8,1334.6 L277.3,1338.1 L278.8,1341.7 L280.3,1345.2 L281.8,1348.8 L283.3,1352.3 L284.8,1355.8 L286.3,1359.3 L287.8,1362.9 L289.3,1366.4 L290.8,1369.9 L292.3,1373.4 L293.8,1376.8 L295.3,1380.2 L296.8,1383.5 L298.3,1386.8 L299.8,1390.1 L301.3,1393.3 L302.8,1396.5 L304.3,1399.6 L305.8,1402.8 L307.3,1405.9 L308.8,1409.1 L310.3,1412.1 L311.8,1415.1 L313.3,1417.8 L314.8,1420.4 L316.3,1422.9 L317.8,1425.2 L319.3,1427.5 L320.8,1429.6 L322.3,1431.5 L323.8,1433.3 L325.3,1435.1 L326.8,1436.8 L328.3,1438.3 L329.8,1439.6 L331.3,1440.8 L332.8,1441.7 L334.3,1442.5 L335.8,1443.3 L337.3,1444.0 L338.8,1444.6 L340.3,1445.0 L341.8,1445.4 L343.3,1445.7 L344.8,1446.0 L346.3,1446.2 L347.8,1446.5 L349.3,1446.6 L350.8,1446.7 L352.3,1446.7 L353.8,1446.7 L355.3,1446.7 L356.8,1446.7 L358.3,1446.7 L359.8,1446.7 L361.3,1446.7 L362.8,1446.7 L364.3,1446.7 L364.6,1446.7 L365.8,1445.5 L367.3,1443.9 L368.8,1442.4 L370.3,1440.8 L371.8,1439.2 L373.3,1437.7 L374.8,1436.2 L376.3,1434.6 L377.8,1433.1 L379.3,1431.6 L380.8,1430.1 L382.3,1428.6 L383.8,1427.1 L385.3,1425.7 L386.8,1424.2 L388.3,1422.7 L389.8,1421.2 L391.3,1419.9 L392.8,1418.6 L394.3,1417.6 L395.8,1416.7 L397.3,1415.9 L398.8,1415.1 L400.3,1414.4 L401.8,1413.9 L403.3,1413.6 L404.8,1413.4 L406.3,1413.3 L407.8,1413.1 L409.3,1413.0 L410.8,1413.0 L412.3,1413.0 L413.8,1413.0 L415.3,1413.0 L416.8,1413.0 L418.3,1413.0 L419.8,1413.0 L421.3,1413.0 L422.8,1413.0 L424.3,1413.0 L425.8,1413.0 L427.3,1413.0 L428.8,1413.0 L430.3,1413.0 L431.8,1413.0 L432.4,1413.0 L433.3,1414.0 L434.8,1416.1 L436.3,1418.0 L437.8,1419.9 L439.3,1421.9 L440.8,1423.9 L442.3,1425.9 L443.8,1428.0 L445.3,1430.1 L446.8,1432.3 L448.3,1434.6 L449.8,1436.8 L451.3,1439.0 L452.8,1441.1 L454.3,1443.1 L455.8,1445.1 L457.3,1447.1 L458.8,1449.0 L460.3,1450.9 L461.8,1452.7 L463.3,1454.3 L464.8,1455.8 L466.3,1457.1 L467.8,1458.4 L469.3,1459.7 L470.8,1460.8 L472.3,1461.8 L473.8,1462.6 L475.3,1463.3 L476.8,1464.0 L478.3,1464.6 L479.8,1464.9 L481.3,1464.9 L482.8,1464.9 L484.3,1464.9 L485.8,1464.9 L487.3,1464.9 L488.8,1464.9 L490.3,1464.9 L491.8,1464.9 L493.3,1464.9 L494.8,1464.9 L496.3,1464.9 L497.8,1464.9 L499.3,1464.9 L500.8,1464.9 L502.3,1464.9 L503.8,1464.9 L505.3,1464.9 L506.8,1464.9 L506.9,1464.9 L508.3,1463.1 L509.8,1461.2 L511.3,1459.2 L512.8,1457.2 L514.3,1455.3 L515.8,1453.3 L517.3,1451.3 L518.8,1449.3 L520.3,1447.3 L521.8,1445.2 L523.3,1443.1 L524.8,1441.0 L526.3,1439.0 L527.8,1437.1 L529.3,1435.3 L530.8,1433.6 L532.3,1432.0 L533.8,1430.4 L535.3,1428.8 L536.8,1427.4 L538.3,1426.1 L539.8,1424.9 L541.3,1423.8 L542.8,1422.7 L544.3,1421.7 L545.8,1420.9 L547.3,1420.4 L548.8,1419.9 L550.3,1419.5 L551.8,1419.2 L553.3,1418.9 L554.8,1418.8 L556.3,1418.8 L557.8,1418.8 L559.3,1418.8 L560.8,1418.8 L562.3,1418.8 L563.8,1418.8 L565.3,1418.8 L566.8,1418.8 L568.3,1418.8 L569.8,1418.8 L571.3,1418.8 L572.8,1418.8 L574.3,1418.8 L575.8,1418.8 L577.3,1418.8 L578.8,1418.8 L580.3,1418.8 L580.5,1418.8 L581.8,1420.6 L583.3,1422.5 L584.8,1424.5 L586.3,1426.4 L587.8,1428.4 L589.3,1430.3 L590.8,1432.3 L592.3,1434.2 L593.8,1436.1 L595.3,1438.1 L596.8,1440.0 L598.3,1442.0 L599.8,1443.8 L601.3,1445.7 L602.8,1447.5 L604.3,1449.2 L605.8,1450.8 L607.3,1452.4 L608.8,1453.9 L610.3,1455.4 L611.8,1456.9 L613.3,1458.2 L614.8,1459.5 L616.3,1460.8 L617.8,1462.0 L619.3,1463.2 L620.8,1464.1 L622.3,1464.8 L623.8,1465.5 L625.3,1466.1 L626.8,1466.5 L628.3,1466.5 L629.8,1466.5 L631.3,1466.5 L632.8,1466.5 L634.3,1466.5 L635.8,1466.5 L637.3,1466.5 L638.8,1466.5 L640.3,1466.5 L641.8,1466.5 L643.3,1466.5 L644.8,1466.5 L646.3,1466.5 L647.8,1466.5 L649.3,1466.5 L650.8,1466.5 L652.3,1466.5 L653.1,1466.5 L653.8,1465.6 L655.3,1463.2 L656.8,1461.1 L658.3,1458.8 L659.8,1456.6 L661.3,1454.3 L662.8,1452.1 L664.3,1449.9 L665.8,1447.8 L667.3,1445.8 L668.8,1443.8 L670.3,1441.8 L671.8,1439.8 L673.3,1437.9 L674.8,1436.1 L676.3,1434.3 L677.8,1432.7 L679.3,1431.2 L680.8,1429.8 L682.3,1428.3 L683.8,1426.9 L685.3,1425.4 L686.8,1424.1 L688.3,1422.9 L689.8,1421.9 L691.3,1421.1 L692.8,1420.3 L694.3,1419.8 L695.8,1419.4 L697.3,1419.2 L698.8,1419.1 L700.3,1419.1 L701.8,1419.1 L703.3,1419.1 L704.8,1419.1 L706.3,1419.1 L707.8,1419.1 L709.3,1419.1 L710.8,1419.1 L712.3,1419.1 L713.8,1419.1 L715.3,1419.1 L716.8,1419.1 L718.3,1419.1 L719.8,1419.1 L721.3,1419.1 L722.8,1419.1 L724.3,1419.1 L725.8,1419.1 L727.2,1419.1 L727.3,1419.1 L728.8,1421.1 L730.3,1423.0 L731.8,1424.8 L733.3,1426.7 L734.8,1428.6 L736.3,1430.6 L737.8,1432.5 L739.3,1434.4 L740.8,1436.2 L742.3,1438.1 L743.8,1440.0 L745.3,1441.8 L746.8,1443.6 L748.3,1445.4 L749.8,1447.2 L751.3,1448.9 L752.8,1450.6 L754.3,1452.2 L755.8,1453.7 L757.3,1455.2 L758.8,1456.8 L760.3,1458.3 L761.8,1459.8 L763.3,1461.1 L764.8,1462.4 L766.3,1463.5 L767.8,1464.4 L769.3,1465.3 L770.8,1466.0 L772.3,1466.4 L773.8,1466.7 L775.3,1466.9 L776.8,1467.0 L778.3,1467.0 L779.8,1467.0 L781.3,1467.0 L782.8,1467.0 L784.3,1467.0 L785.8,1467.0 L787.3,1467.0 L788.8,1467.0 L790.3,1467.0 L791.8,1467.0 L793.3,1467.0 L794.8,1467.0 L796.3,1467.0 L797.8,1467.0 L799.3,1467.0 L799.6,1467.0 L800.8,1465.1 L802.3,1462.8 L803.8,1460.5 L805.3,1458.2 L806.8,1456.0 L808.3,1453.7 L809.8,1451.5 L811.3,1449.4 L812.8,1447.3 L814.3,1445.3 L815.8,1443.3 L817.3,1441.3 L818.8,1439.4 L820.3,1437.4 L821.8,1435.6 L823.3,1433.9 L824.8,1432.4 L826.3,1430.9 L827.8,1429.4 L829.3,1428.0 L830.8,1426.5 L832.3,1425.1 L833.8,1423.8 L835.3,1422.7 L836.8,1421.7 L838.3,1420.9 L839.8,1420.2 L841.3,1419.7 L842.8,1419.4 L844.3,1419.1 L845.8,1419.1 L847.3,1419.1 L848.8,1419.1 L850.3,1419.1 L851.8,1419.1 L853.3,1419.1 L854.8,1419.1 L856.3,1419.1 L857.8,1419.1 L859.3,1419.1 L860.8,1419.1 L862.3,1419.1 L863.8,1419.1 L865.3,1419.1 L866.8,1419.1 L868.3,1419.1 L869.8,1419.1 L871.3,1419.1 L872.8,1419.1 L873.8,1419.1 L874.3,1419.5 L875.8,1421.6 L877.3,1423.4 L878.8,1425.3 L880.3,1427.2 L881.8,1429.1 L883.3,1431.0 L884.8,1432.9 L886.3,1434.8 L887.8,1436.7 L889.3,1438.6 L890.8,1440.4 L892.3,1442.2 L893.8,1444.1 L895.3,1445.9 L896.8,1447.6 L898.3,1449.3 L899.8,1451.0 L901.3,1452.6 L902.8,1454.1 L904.3,1455.6 L905.8,1457.2 L907.3,1458.7 L908.8,1460.2 L910.3,1461.4 L911.8,1462.6 L913.3,1463.7 L914.8,1464.6 L916.3,1465.4 L917.8,1466.1 L919.3,1466.5 L920.8,1466.8 L922.3,1466.9 L923.8,1467.0 L925.3,1467.0 L926.8,1467.0 L928.3,1467.0 L929.8,1467.0 L931.3,1467.0 L932.8,1467.0 L934.3,1467.0 L935.8,1467.0 L937.3,1467.0 L938.8,1467.0 L940.3,1467.0 L941.8,1467.0 L943.3,1467.0 L944.8,1467.0 L946.2,1467.0 L946.3,1466.9 L947.8,1464.5 L949.3,1462.2 L950.8,1459.9 L952.3,1457.7 L953.8,1455.4 L955.3,1453.2 L956.8,1451.0 L958.3,1448.9 L959.8,1446.8 L961.3,1444.8 L962.8,1442.8 L964.3,1440.8 L965.8,1438.9 L967.3,1437.0 L968.8,1435.2 L970.3,1433.5 L971.8,1432.0 L973.3,1430.5 L974.8,1429.1 L976.3,1427.6 L977.8,1426.1 L979.3,1424.7 L980.8,1423.5 L982.3,1422.4 L983.8,1421.5 L985.3,1420.7 L986.8,1420.0 L988.3,1419.6 L989.8,1419.4 L991.3,1419.2 L992.8,1419.0 L994.3,1417.5 L995.8,1417.3 L997.3,1417.3 L998.8,1417.3 L1000.3,1417.3 L1001.8,1417.3 L1003.3,1417.3 L1004.8,1417.3 L1006.3,1417.3 L1007.8,1417.3 L1009.3,1417.3 L1010.8,1417.3 L1012.3,1417.3 L1013.8,1417.3 L1015.3,1417.3 L1016.8,1417.3 L1018.3,1417.3 L1018.7,1417.3 L1019.8,1418.6 L1021.3,1420.4 L1022.8,1422.2 L1024.3,1424.0 L1025.8,1425.8 L1027.3,1427.7 L1028.8,1429.6 L1030.3,1431.5 L1031.8,1433.4 L1033.3,1435.3 L1034.8,1437.2 L1036.3,1439.0 L1037.8,1440.9 L1039.3,1442.7 L1040.8,1444.5 L1042.3,1446.3 L1043.8,1448.1 L1045.3,1449.8 L1046.8,1451.4 L1048.3,1452.9 L1049.8,1454.5 L1051.3,1456.0 L1052.8,1457.6 L1054.3,1459.1 L1055.8,1460.5 L1057.3,1461.8 L1058.8,1462.9 L1060.3,1463.9 L1061.8,1464.8 L1063.3,1465.6 L1064.8,1466.2 L1066.3,1466.6 L1067.8,1466.9 L1069.3,1467.0 L1070.8,1467.0 L1072.3,1467.0 L1073.8,1467.0 L1075.3,1467.0 L1076.8,1467.0 L1078.3,1467.0 L1079.8,1467.0 L1081.3,1467.0 L1082.8,1467.0 L1084.3,1467.0 L1085.8,1467.0 L1087.3,1467.0 L1088.8,1467.0 L1090.3,1467.0 L1091.8,1467.0 L1092.8,1467.0 L1093.3,1466.5 L1094.8,1463.9 L1096.3,1461.7 L1097.8,1459.4 L1099.3,1457.1 L1100.8,1454.8 L1102.3,1452.6 L1103.8,1450.5 L1105.3,1448.4 L1106.8,1446.3 L1108.3,1444.3 L1109.8,1442.3 L1111.3,1440.3 L1112.8,1438.4 L1114.3,1436.5 L1115.8,1434.8 L1117.3,1433.1 L1118.8,1431.6 L1120.3,1430.1 L1121.8,1428.7 L1123.3,1427.2 L1124.8,1425.8 L1126.3,1424.4 L1127.8,1423.2 L1129.3,1422.2 L1130.8,1421.3 L1132.3,1420.5 L1133.8,1419.9 L1135.3,1419.5 L1136.8,1419.2 L1138.3,1419.1 L1139.8,1419.1 L1141.3,1419.1 L1142.8,1419.1 L1144.3,1419.1 L1145.8,1419.1 L1147.3,1419.1 L1148.8,1419.1 L1150.3,1419.1 L1151.8,1419.1 L1153.3,1419.1 L1154.8,1419.1 L1156.3,1419.1 L1157.8,1419.1 L1159.3,1419.1 L1160.8,1419.1 L1162.3,1419.1 L1163.8,1419.1 L1165.3,1419.1 L1166.8,1419.1 L1167.0,1419.1 L1168.3,1420.7 L1169.8,1422.5 L1171.3,1424.4 L1172.8,1426.2 L1174.3,1428.2 L1175.8,1430.1 L1177.3,1432.0 L1178.8,1433.9 L1180.3,1435.8 L1181.8,1437.6 L1183.3,1439.5 L1184.8,1441.3 L1186.3,1443.2 L1187.8,1445.0 L1189.3,1446.8 L1190.8,1448.5 L1192.3,1450.2 L1193.8,1451.8 L1195.3,1453.3 L1196.8,1454.9 L1198.3,1456.4 L1199.8,1458.0 L1201.3,1459.5 L1202.8,1460.8 L1204.3,1462.1 L1205.8,1463.2 L1207.3,1464.2 L1208.8,1465.0 L1210.3,1465.8 L1211.8,1466.3 L1213.3,1466.7 L1214.8,1466.9 L1216.3,1467.0 L1217.8,1467.0 L1219.3,1467.0 L1220.8,1467.0 L1222.3,1467.0 L1223.8,1467.0 L1225.3,1467.0 L1226.8,1467.0 L1228.3,1467.0 L1229.8,1467.0 L1231.3,1467.0 L1232.8,1467.0 L1234.3,1467.0 L1235.8,1467.0 L1237.3,1467.0 L1238.8,1467.0 L1239.5,1467.0 L1240.3,1465.8 L1241.8,1463.4 L1243.3,1461.1 L1244.8,1458.8 L1246.3,1456.5 L1247.8,1454.3 L1249.3,1452.1 L1250.8,1449.9 L1252.3,1447.8 L1253.8,1445.8 L1255.3,1443.8 L1256.8,1441.8 L1258.3,1439.8 L1259.8,1437.9 L1261.3,1436.1 L1262.8,1434.3 L1264.3,1432.7 L1265.8,1431.2 L1267.3,1429.8 L1268.8,1428.3 L1270.3,1426.9 L1271.8,1425.4 L1273.3,1424.1 L1274.8,1422.9 L1276.3,1421.9 L1277.8,1421.1 L1279.3,1420.3 L1280.8,1419.8 L1282.3,1419.4 L1283.8,1419.2 L1285.3,1419.1 L1286.8,1419.1 L1288.3,1419.1 L1289.8,1419.1 L1291.3,1419.1 L1292.8,1419.1 L1294.3,1419.1 L1295.8,1419.1 L1297.3,1419.1 L1298.8,1419.1 L1300.3,1419.1 L1301.8,1419.1 L1303.3,1419.1 L1304.8,1419.1 L1306.3,1419.1 L1307.8,1419.1 L1309.3,1419.1 L1310.8,1419.1 L1312.3,1419.1 L1313.7,1419.1 L1313.8,1419.1 L1315.3,1421.1 L1316.8,1423.0 L1318.3,1424.8 L1319.8,1426.7 L1321.3,1428.6 L1322.8,1430.6 L1324.3,1432.5 L1325.8,1434.4 L1327.3,1436.2 L1328.8,1438.1 L1330.3,1440.0 L1331.8,1441.8 L1333.3,1443.6 L1334.8,1445.4 L1336.3,1447.2 L1337.8,1448.9 L1339.3,1450.6 L1340.8,1452.2 L1342.3,1453.7 L1343.8,1455.2 L1345.3,1456.8 L1346.8,1458.3 L1348.3,1459.8 L1349.8,1461.1 L1351.3,1462.4 L1352.8,1463.5 L1354.3,1464.4 L1355.8,1465.3 L1357.3,1466.0 L1358.8,1466.4 L1360.3,1466.7 L1361.8,1466.9 L1363.3,1467.0 L1364.8,1467.0 L1366.3,1467.0 L1367.8,1467.0 L1369.3,1467.0 L1370.8,1467.0 L1372.3,1467.0 L1373.8,1467.0 L1375.3,1467.0 L1376.8,1467.0 L1378.3,1467.0 L1379.8,1467.0 L1381.3,1467.0 L1382.8,1467.0 L1384.3,1467.0 L1385.8,1467.0 L1386.1,1467.0 L1387.3,1465.1 L1388.8,1462.8 L1390.3,1460.5 L1391.8,1458.2 L1393.3,1456.0 L1394.8,1453.7 L1396.3,1451.5 L1397.8,1449.4 L1399.3,1447.3 L1400.8,1445.3 L1402.3,1443.3 L1403.8,1441.3 L1405.3,1439.4 L1406.8,1437.4 L1408.3,1435.6 L1409.8,1433.9 L1411.3,1432.4 L1412.8,1430.9 L1414.3,1429.4 L1415.8,1428.0 L1417.3,1426.5 L1418.8,1425.1 L1420.3,1423.8 L1421.8,1422.7 L1423.3,1421.7 L1424.8,1420.9 L1426.3,1420.2 L1427.8,1419.7 L1429.3,1419.4 L1430.8,1419.1 L1432.3,1419.1 L1433.8,1419.1 L1435.3,1419.1 L1436.8,1419.1 L1438.3,1419.1 L1439.8,1419.1 L1441.3,1419.1 L1442.8,1419.1 L1444.3,1419.1 L1445.8,1419.1 L1447.3,1419.1 L1448.8,1419.1 L1450.3,1419.1 L1451.8,1419.1 L1453.3,1419.1 L1454.8,1419.1 L1456.3,1419.1 L1457.8,1419.1 L1459.3,1419.1 L1460.3,1419.1 L1460.8,1419.5 L1462.3,1421.6 L1463.8,1423.4 L1465.3,1425.3 L1466.8,1427.2 L1468.3,1429.1 L1469.8,1431.0 L1471.3,1432.9 L1472.8,1434.8 L1474.3,1436.7 L1475.8,1438.6 L1477.3,1440.4 L1478.8,1442.2 L1480.3,1444.1 L1481.8,1445.9 L1483.3,1447.6 L1484.8,1449.3 L1486.3,1451.0 L1487.8,1452.6 L1489.3,1454.1 L1490.8,1455.6 L1492.3,1457.2 L1493.8,1458.7 L1495.3,1460.2 L1496.8,1461.4 L1498.3,1462.6 L1499.8,1463.7 L1501.3,1464.6 L1502.8,1465.4 L1504.3,1466.1 L1505.8,1466.5 L1507.3,1466.8 L1508.8,1466.9 L1510.3,1467.0 L1511.8,1467.0 L1513.3,1467.0 L1514.8,1467.0 L1516.3,1467.0 L1517.8,1467.0 L1519.3,1467.0 L1520.8,1467.0 L1522.3,1467.0 L1523.8,1467.0 L1525.3,1467.0 L1526.8,1467.0 L1528.3,1467.0 L1529.8,1467.0 L1531.3,1467.0 L1532.7,1467.0 L1532.8,1466.9 L1534.3,1464.5 L1535.8,1462.2 L1537.3,1459.9 L1538.8,1457.7 L1540.3,1455.4 L1541.8,1453.2 L1543.3,1451.0 L1544.8,1448.9 L1546.3,1446.8 L1547.8,1444.8 L1549.3,1442.8 L1550.8,1440.8 L1552.3,1438.9 L1553.8,1437.0 L1555.3,1435.2 L1556.8,1433.5 L1558.3,1432.0 L1559.8,1430.5 L1561.3,1429.1 L1562.8,1427.6 L1564.3,1426.1 L1565.8,1424.7 L1567.3,1423.5 L1568.8,1422.4 L1570.3,1421.5 L1571.8,1420.7 L1573.3,1420.0 L1574.8,1419.6 L1576.3,1419.3 L1577.8,1419.1 L1579.3,1419.1 L1580.8,1419.1 L1582.3,1419.1 L1583.8,1419.1 L1585.3,1419.1 L1586.8,1419.1 L1588.3,1419.1 L1589.8,1419.1 L1591.3,1419.1 L1592.8,1419.1 L1594.3,1419.1 L1595.8,1419.1 L1597.3,1419.1 L1598.8,1419.1 L1600.3,1419.1 L1601.8,1419.1 L1603.3,1419.1 L1604.8,1419.1 L1606.3,1419.1 L1606.9,1419.1 L1607.8,1420.1 L1609.3,1422.0 L1610.8,1423.9 L1612.3,1425.8 L1613.8,1427.7 L1615.3,1429.6 L1616.8,1431.5 L1618.3,1433.4 L1619.8,1435.3 L1621.3,1437.2 L1622.8,1439.0 L1624.3,1440.9 L1625.8,1442.7 L1627.3,1444.5 L1628.8,1446.3 L1630.3,1448.1 L1631.8,1449.8 L1633.3,1451.4 L1634.8,1452.9 L1636.3,1454.5 L1637.8,1456.0 L1639.3,1457.6 L1640.8,1459.1 L1642.3,1460.5 L1643.8,1461.8 L1645.3,1462.9 L1646.8,1463.9 L1648.3,1464.8 L1649.8,1465.6 L1651.3,1466.2 L1652.8,1466.6 L1654.3,1466.9 L1655.8,1467.0 L1657.3,1467.0 L1658.8,1467.0 L1660.3,1467.0 L1661.8,1467.0 L1663.3,1467.0 L1664.0,1467.0" stroke-width="5.6" stroke-linejoin="round" shape-rendering="auto"/>
<path stroke="#ff00ff" d="M197.8,1066.5 L199.3,1068.1 L200.8,1072.5 L202.3,1078.7 L203.8,1093.3 L205.3,1107.2 L206.8,1118.1 L208.3,1129.4 L209.8,1140.9 L211.3,1150.1 L212.8,1158.4 L214.3,1170.7 L215.8,1178.5 L217.3,1186.1 L218.8,1193.2 L220.3,1200.0 L221.8,1206.4 L223.3,1212.4 L224.8,1218.2 L226.3,1223.5 L227.8,1228.5 L229.3,1233.2 L230.8,1237.7 L232.3,1241.8 L233.8,1245.7 L235.3,1249.5 L236.8,1253.0 L238.3,1256.5 L239.8,1259.8 L241.3,1263.1 L242.8,1266.2 L244.3,1269.3 L245.8,1272.2 L247.3,1275.2 L248.8,1278.1 L250.3,1281.0 L251.8,1284.0 L253.3,1287.0 L254.8,1289.9 L256.3,1292.9 L257.8,1295.9 L259.3,1298.9 L260.8,1301.9 L262.3,1305.0 L263.8,1308.1 L265.3,1311.3 L266.8,1314.5 L268.3,1317.8 L269.8,1321.1 L271.3,1324.4 L272.8,1327.8 L274.3,1331.2 L275.8,1334.6 L277.3,1338.1 L278.8,1341.7 L280.3,1345.2 L281.8,1348.8 L283.3,1352.3 L284.8,1355.8 L286.3,1359.3 L287.8,1362.9 L289.3,1366.4 L290.8,1369.9 L292.3,1373.4 L293.8,1376.8 L295.3,1380.2 L296.8,1383.5 L298.3,1386.8 L299.8,1390.1 L301.3,1393.3 L302.8,1396.5 L304.3,1399.6 L305.8,1402.8 L307.3,1405.9 L308.8,1409.1 L310.3,1412.1 L311.8,1415.1 L313.3,1417.8 L314.8,1420.4 L316.3,1422.9 L317.8,1425.2 L319.3,1427.5 L320.8,1429.6 L322.3,1431.5 L323.8,1433.3 L325.3,1435.1 L326.8,1436.8 L328.3,1438.3 L329.8,1439.6 L331.3,1440.8 L332.8,1441.7 L334.3,1442.5 L335.8,1443.3 L337.3,1444.0 L338.8,1444.6 L340.3,1445.0 L341.8,1445.4 L343.3,1445.7 L344.8,1446.0 L346.3,1446.2 L347.8,1446.5 L349.3,1446.6 L350.8,1446.7 L352.3,1446.7 L353.8,1446.7 L355.3,1446.7 L356.8,1446.7 L358.3,1446.7 L359.8,1446.7 L361.3,1446.7 L362.8,1446.7 L364.3,1446.7 L364.6,1446.7 L365.8,1445.5 L367.3,1443.9 L368.8,1442.4 L370.3,1440.8 L371.8,1439.2 L373.3,1437.7 L374.8,1436.2 L376.3,1434.6 L377.8,1433.1 L379.3,1431.6 L380.8,1430.1 L382.3,1428.6 L383.8,1427.1 L385.3,1425.7 L386.8,1424.2 L388.3,1422.7 L389.8,1421.2 L391.3,1419.9 L392.8,1418.6 L394.3,1417.6 L395.8,1416.7 L397.3,1415.9 L398.8,1415.1 L400.3,1414.4 L401.8,1413.9 L403.3,1413.6 L404.8,1413.4 L406.3,1413.3 L407.8,1413.1 L409.3,1413.0 L410.8,1413.0 L412.3,1413.0 L413.8,1413.0 L415.3,1413.0 L416.8,1413.0 L418.3,1413.0 L419.8,1413.0 L421.3,1413.0 L422.8,1413.0 L424.3,1413.0 L425.8,1413.0 L427.3,1413.0 L428.8,1413.0 L430.3,1413.0 L431.8,1413.0 L432.4,1413.0 L433.3,1414.0 L434.8,1416.1 L436.3,1418.0 L437.8,1419.9 L439.3,1421.9 L440.8,1423.9 L442.3,1425.9 L443.8,1428.0 L445.3,1430.1 L446.8,1432.3 L448.3,1434.6 L449.8,1436.8 L451.3,1439.0 L452.8,1441.1 L454.3,1443.1 L455.8,1445.1 L457.3,1447.1 L458.8,1449.0 L460.3,1450.9 L461.8,1452.7 L463.3,1454.3 L464.8,1455.8 L466.3,1457.1 L467.8,1458.4 L469.3,1459.7 L470.8,1460.8 L472.3,1461.8 L473.8,1462.6 L475.3,1463.3 L476.8,1464.0 L478.3,1464.6 L479.8,1464.9 L481.3,1464.9 L482.8,1464.9 L484.3,1464.9 L485.8,1464.9 L487.3,1464.9 L488.8,1464.9 L490.3,1464.9 L491.8,1464.9 L493.3,1464.9 L494.8,1464.9 L496.3,1464.9 L497.8,1464.9 L499.3,1464.9 L500.8,1464.9 L502.3,1464.9 L503.8,1464.9 L505.3,1464.9 L506.8,1464.9 L506.9,1464.9 L508.3,1463.1 L509.8,1461.2 L511.3,1459.2 L512.8,1457.2 L514.3,1455.3 L515.8,1453.3 L517.3,1451.3 L518.8,1449.3 L520.3,1447.3 L521.8,1445.2 L523.3,1443.1 L524.8,1441.0 L526.3,1439.0 L527.8,1437.1 L529.3,1435.3 L530.8,1433.6 L532.3,1432.0 L533.8,1430.4 L535.3,1428.8 L536.8,1427.4 L538.3,1426.1 L539.8,1424.9 L541.3,1423.8 L542.8,1422.7 L544.3,1421.7 L545.8,1420.9 L547.3,1420.4 L548.8,1419.9 L550.3,1419.5 L551.8,1419.2 L553.3,1418.9 L554.8,1418.8 L556.3,1418.8 L557.8,1418.8 L559.3,1418.8 L560.8,1418.8 L562.3,1418.8 L563.8,1418.8 L565.3,1418.8 L566.8,1418.8 L568.3,1418.8 L569.8,1418.8 L571.3,1418.8 L572.8,1418.8 L574.3,1418.8 L575.8,1418.8 L577.3,1418.8 L578.8,1418.8 L580.3,1418.8 L580.5,1418.8 L581.8,1420.6 L583.3,1422.5 L584.8,1424.5 L586.3,1426.4 L587.8,1428.4 L589.3,1430.3 L590.8,1432.3 L592.3,1434.2 L593.8,1436.1 L595.3,1438.1 L596.8,1440.0 L598.3,1442.0 L599.8,1443.8 L601.3,1445.7 L602.8,1447.5 L604.3,1449.2 L605.8,1450.8 L607.3,1452.4 L608.8,1453.9 L610.3,1455.4 L611.8,1456.9 L613.3,1458.2 L614.8,1459.5 L616.3,1460.8 L617.8,1462.0 L619.3,1463.2 L620.8,1464.1 L622.3,1464.8 L623.8,1465.5 L625.3,1466.1 L626.8,1466.5 L628.3,1466.5 L629.8,1466.5 L631.3,1466.5 L632.8,1466.5 L634.3,1466.5 L635.8,1466.5 L637.3,1466.5 L638.8,1466.5 L640.3,1466.5 L641.8,1466.5 L643.3,1466.5 L644.8,1466.5 L646.3,1466.5 L647.8,1466.5 L649.3,1466.5 L650.8,1466.5 L652.3,1466.5 L653.1,1466.5 L653.8,1465.6 L655.3,1463.2 L656.8,1461.1 L658.3,1458.8 L659.8,1456.6 L661.3,1454.3 L662.8,1452.1 L664.3,1449.9 L665.8,1447.8 L667.3,1445.8 L668.8,1443.8 L670.3,1441.8 L671.8,1439.8 L673.3,1437.9 L674.8,1436.1 L676.3,1434.3 L677.8,1432.7 L679.3,1431.2 L680.8,1429.8 L682.3,1428.3 L683.8,1426.9 L685.3,1425.4 L686.8,1424.1 L688.3,1422.9 L689.8,1421.9 L691.3,1421.1 L692.8,1420.3 L694.3,1419.8 L695.8,1419.4 L697.3,1419.2 L698.8,1419.1 L700.3,1419.1 L701.8,1419.1 L703.3,1419.1 L704.8,1419.1 L706.3,1419.1 L707.8,1419.1 L709.3,1419.1 L710.8,1419.1 L712.3,1419.1 L713.8,1419.1 L715.3,1419.1 L716.8,1419.1 L718.3,1419.1 L719.8,1419.1 L721.3,1419.1 L722.8,1419.1 L724.3,1419.1 L725.8,1419.1 L727.2,1419.1 L727.3,1419.1 L728.8,1421.1 L730.3,1423.0 L731.8,1424.8 L733.3,1426.7 L734.8,1428.6 L736.3,1430.6 L737.8,1432.5 L739.3,1434.4 L740.8,1436.2 L742.3,1438.1 L743.8,1440.0 L745.3,1441.8 L746.8,1443.6 L748.3,1445.4 L749.8,1447.2 L751.3,1448.9 L752.8,1450.6 L754.3,1452.2 L755.8,1453.7 L757.3,1455.2 L758.8,1456.8 L760.3,1458.3 L761.8,1459.8 L763.3,1461.1 L764.8,1462.4 L766.3,1463.5 L767.8,1464.4 L769.3,1465.3 L770.8,1466.0 L772.3,1466.4 L773.8,1466.7 L775.3,1466.9 L776.8,1467.0 L778.3,1467.0 L779.8,1467.0 L781.3,1467.0 L782.8,1467.0 L784.3,1467.0 L785.8,1467.0 L787.3,1467.0 L788.8,1467.0 L790.3,1467.0 L791.8,1467.0 L793.3,1467.0 L794.8,1467.0 L796.3,1467.0 L797.8,1467.0 L799.3,1467.0 L799.6,1467.0 L800.8,1465.1 L802.3,1462.8 L803.8,1460.5 L805.3,1458.2 L806.8,1456.0 L808.3,1453.7 L809.8,1451.5 L811.3,1449.4 L812.8,1447.3 L814.3,1445.3 L815.8,1443.3 L817.3,1441.3 L818.8,1439.4 L820.3,1437.4 L821.8,1435.6 L823.3,1433.9 L824.8,1432.4 L826.3,1430.9 L827.8,1429.4 L829.3,1428.0 L830.8,1426.5 L832.3,1425.1 L833.8,1423.8 L835.3,1422.7 L836.8,1421.7 L838.3,1420.9 L839.8,1420.2 L841.3,1419.7 L842.8,1419.4 L844.3,1419.1 L845.8,1419.1 L847.3,1419.1 L848.8,1419.1 L850.3,1419.1 L851.8,1419.1 L853.3,1419.1 L854.8,1419.1 L856.3,1419.1 L857.8,1419.1 L859.3,1419.1 L860.8,1419.1 L862.3,1419.1 L863.8,1419.1 L865.3,1419.1 L866.8,1419.1 L868.3,1419.1 L869.8,1419.1 L871.3,1419.1 L872.8,1419.1 L873.8,1419.1 L874.3,1419.5 L875.8,1421.6 L877.3,1423.4 L878.8,1425.3 L880.3,1427.2 L881.8,1429.1 L883.3,1431.0 L884.8,1432.9 L886.3,1434.8 L887.8,1436.7 L889.3,1438.6 L890.8,1440.4 L892.3,1442.2 L893.8,1444.1 L895.3,1445.9 L896.8,1447.6 L898.3,1449.3 L899.8,1451.0 L901.3,1452.6 L902.8,1454.1 L904.3,1455.6 L905.8,1457.2 L907.3,1458.7 L908.8,1460.2 L910.3,1461.4 L911.8,1462.6 L913.3,1463.7 L914.8,1464.6 L916.3,1465.4 L917.8,1466.1 L919.3,1466.5 L920.8,1466.8 L922.3,1466.9 L923.8,1467.0 L925.3,1467.0 L926.8,1467.0 L928.3,1467.0 L929.8,1467.0 L931.3,1467.0 L932.8,1467.0 L934.3,1467.0 L935.8,1467.0 L937.3,1467.0 L938.8,1467.0 L940.3,1467.0 L941.8,1467.0 L943.3,1467.0 L944.8,1467.0 L946.2,1467.0 L946.3,1466.9 L947.8,1464.5 L949.3,1462.2 L950.8,1459.9 L952.3,1457.7 L953.8,1455.4 L955.3,1453.2 L956.8,1451.0 L958.3,1448.9 L959.8,1446.8 L961.3,1444.8 L962.8,1442.8 L964.3,1440.8 L965.8,1438.9 L967.3,1437.0 L968.8,1435.2 L970.3,1433.5 L971.8,1432.0 L973.3,1430.5 L974.8,1429.1 L976.3,1427.6 L977.8,1426.1 L979.3,1424.7 L980.8,1423.5 L982.3,1422.4 L983.8,1421.5 L985.3,1420.7 L986.8,1420.0 L988.3,1419.6 L989.8,1419.4 L991.3,1419.2 L992.8,1419.0 L994.3,1417.5 L995.8,1417.3 L997.3,1417.3 L998.8,1417.3 L1000.3,1417.3 L1001.8,1417.3 L1003.3,1417.3 L1004.8,1417.3 L1006.3,1417.3 L1007.8,1417.3 L1009.3,1417.3 L1010.8,1417.3 L1012.3,1417.3 L1013.8,1417.3 L1015.3,1417.3 L1016.8,1417.3 L1018.3,1417.3 L1018.7,1417.3 L1019.8,1418.6 L1021.3,1420.4 L1022.8,1422.2 L1024.3,1424.0 L1025.8,1425.8 L1027.3,1427.7 L1028.8,1429.6 L1030.3,1431.5 L1031.8,1433.4 L1033.3,1435.3 L1034.8,1437.2 L1036.3,1439.0 L1037.8,1440.9 L1039.3,1442.7 L1040.8,1444.5 L1042.3,1446.3 L1043.8,1448.1 L1045.3,1449.8 L1046.8,1451.4 L1048.3,1452.9 L1049.8,1454.5 L1051.3,1456.0 L1052.8,1457.6 L1054.3,1459.1 L1055.8,1460.5 L1057.3,1461.8 L1058.8,1462.9 L1060.3,1463.9 L1061.8,1464.8 L1063.3,1465.6 L1064.8,1466.2 L1066.3,1466.6 L1067.8,1466.9 L1069.3,1467.0 L1070.8,1467.0 L1072.3,1467.0 L1073.8,1467.0 L1075.3,1467.0 L1076.8,1467.0 L1078.3,1467.0 L1079.8,1467.0 L1081.3,1467.0 L1082.8,1467.0 L1084.3,1467.0 L1085.8,1467.0 L1087.3,1467.0 L1088.8,1467.0 L1090.3,1467.0 L1091.8,1467.0 L1092.8,1467.0 L1093.3,1466.5 L1094.8,1463.9 L1096.3,1461.7 L1097.8,1459.4 L1099.3,1457.1 L1100.8,1454.8 L1102.3,1452.6 L1103.8,1450.5 L1105.3,1448.4 L1106.8,1446.3 L1108.3,1444.3 L1109.8,1442.3 L1111.3,1440.3 L1112.8,1438.4 L1114.3,1436.5 L1115.8,1434.8 L1117.3,1433.1 L1118.8,1431.6 L1120.3,1430.1 L1121.8,1428.7 L1123.3,1427.2 L1124.8,1425.8 L1126.3,1424.4 L1127.8,1423.2 L1129.3,1422.2 L1130.8,1421.3 L1132.3,1420.5 L1133.8,1419.9 L1135.3,1419.5 L1136.8,1419.2 L1138.3,1419.1 L1139.8,1419.1 L1141.3,1419.1 L1142.8,1419.1 L1144.3,1419.1 L1145.8,1419.1 L1147.3,1419.1 L1148.8,1419.1 L1150.3,1419.1 L1151.8,1419.1 L1153.3,1419.1 L1154.8,1419.1 L1156.3,1419.1 L1157.8,1419.1 L1159.3,1419.1 L1160.8,1419.1 L1162.3,1419.1 L1163.8,1419.1 L1165.3,1419.1 L1166.8,1419.1 L1167.0,1419.1 L1168.3,1420.7 L1169.8,1422.5 L1171.3,1424.4 L1172.8,1426.2 L1174.3,1428.2 L1175.8,1430.1 L1177.3,1432.0 L1178.8,1433.9 L1180.3,1435.8 L1181.8,1437.6 L1183.3,1439.5 L1184.8,1441.3 L1186.3,1443.2 L1187.8,1445.0 L1189.3,1446.8 L1190.8,1448.5 L1192.3,1450.2 L1193.8,1451.8 L1195.3,1453.3 L1196.8,1454.9 L1198.3,1456.4 L1199.8,1458.0 L1201.3,1459.5 L1202.8,1460.8 L1204.3,1462.1 L1205.8,1463.2 L1207.3,1464.2 L1208.8,1465.0 L1210.3,1465.8 L1211.8,1466.3 L1213.3,1466.7 L1214.8,1466.9 L1216.3,1467.0 L1217.8,1467.0 L1219.3,1467.0 L1220.8,1467.0 L1222.3,1467.0 L1223.8,1467.0 L1225.3,1467.0 L1226.8,1467.0 L1228.3,1467.0 L1229.8,1467.0 L1231.3,1467.0 L1232.8,1467.0 L1234.3,1467.0 L1235.8,1467.0 L1237.3,1467.0 L1238.8,1467.0 L1239.5,1467.0 L1240.3,1465.8 L1241.8,1463.4 L1243.3,1461.1 L1244.8,1458.8 L1246.3,1456.5 L1247.8,1454.3 L1249.3,1452.1 L1250.8,1449.9 L1252.3,1447.8 L1253.8,1445.8 L1255.3,1443.8 L1256.8,1441.8 L1258.3,1439.8 L1259.8,1437.9 L1261.3,1436.1 L1262.8,1434.3 L1264.3,1432.7 L1265.8,1431.2 L1267.3,1429.8 L1268.8,1428.3 L1270.3,1426.9 L1271.8,1425.4 L1273.3,1424.1 L1274.8,1422.9 L1276.3,1421.9 L1277.8,1421.1 L1279.3,1420.3 L1280.8,1419.8 L1282.3,1419.4 L1283.8,1419.2 L1285.3,1419.1 L1286.8,1419.1 L1288.3,1419.1 L1289.8,1419.1 L1291.3,1419.1 L1292.8,1419.1 L1294.3,1419.1 L1295.8,1419.1 L1297.3,1419.1 L1298.8,1419.1 L1300.3,1419.1 L1301.8,1419.1 L1303.3,1419.1 L1304.8,1419.1 L1306.3,1419.1 L1307.8,1419.1 L1309.3,1419.1 L1310.8,1419.1 L1312.3,1419.1 L1313.7,1419.1 L1313.8,1419.1 L1315.3,1421.1 L1316.8,1423.0 L1318.3,1424.8 L1319.8,1426.7 L1321.3,1428.6 L1322.8,1430.6 L1324.3,1432.5 L1325.8,1434.4 L1327.3,1436.2 L1328.8,1438.1 L1330.3,1440.0 L1331.8,1441.8 L1333.3,1443.6 L1334.8,1445.4 L1336.3,1447.2 L1337.8,1448.9 L1339.3,1450.6 L1340.8,1452.2 L1342.3,1453.7 L1343.8,1455.2 L1345.3,1456.8 L1346.8,1458.3 L1348.3,1459.8 L1349.8,1461.1 L1351.3,1462.4 L1352.8,1463.5 L1354.3,1464.4 L1355.8,1465.3 L1357.3,1466.0 L1358.8,1466.4 L1360.3,1466.7 L1361.8,1466.9 L1363.3,1467.0 L1364.8,1467.0 L1366.3,1467.0 L1367.8,1467.0 L1369.3,1467.0 L1370.8,1467.0 L1372.3,1467.0 L1373.8,1467.0 L1375.3,1467.0 L1376.8,1467.0 L1378.3,1467.0 L1379.8,1467.0 L1381.3,1467.0 L1382.8,1467.0 L1384.3,1467.0 L1385.8,1467.0 L1386.1,1467.0 L1387.3,1465.1 L1388.8,1462.8 L1390.3,1460.5 L1391.8,1458.2 L1393.3,1456.0 L1394.8,1453.7 L1396.3,1451.5 L1397.8,1449.4 L1399.3,1447.3 L1400.8,1445.3 L1402.3,1443.3 L1403.8,1441.3 L1405.3,1439.4 L1406.8,1437.4 L1408.3,1435.6 L1409.8,1433.9 L1411.3,1432.4 L1412.8,1430.9 L1414.3,1429.4 L1415.8,1428.0 L1417.3,1426.5 L1418.8,1425.1 L1420.3,1423.8 L1421.8,1422.7 L1423.3,1421.7 L1424.8,1420.9 L1426.3,1420.2 L1427.8,1419.7 L1429.3,1419.4 L1430.8,1419.1 L1432.3,1419.1 L1433.8,1419.1 L1435.3,1419.1 L1436.8,1419.1 L1438.3,1419.1 L1439.8,1419.1 L1441.3,1419.1 L1442.8,1419.1 L1444.3,1419.1 L1445.8,1419.1 L1447.3,1419.1 L1448.8,1419.1 L1450.3,1419.1 L1451.8,1419.1 L1453.3,1419.1 L1454.8,1419.1 L1456.3,1419.1 L1457.8,1419.1 L1459.3,1419.1 L1460.3,1419.1 L1460.8,1419.5 L1462.3,1421.6 L1463.8,1423.4 L1465.3,1425.3 L1466.8,1427.2 L1468.3,1429.1 L1469.8,1431.0 L1471.3,1432.9 L1472.8,1434.8 L1474.3,1436.7 L1475.8,1438.6 L1477.3,1440.4 L1478.8,1442.2 L1480.3,1444.1 L1481.8,1445.9 L1483.3,1447.6 L1484.8,1449.3 L1486.3,1451.0 L1487.8,1452.6 L1489.3,1454.1 L1490.8,1455.6 L1492.3,1457.2 L1493.8,1458.7 L1495.3,1460.2 L1496.8,1461.4 L1498.3,1462.6 L1499.8,1463.7 L1501.3,1464.6 L1502.8,1465.4 L1504.3,1466.1 L1505.8,1466.5 L1507.3,1466.8 L1508.8,1466.9 L1510.3,1467.0 L1511.8,1467.0 L1513.3,1467.0 L1514.8,1467.0 L1516.3,1467.0 L1517.8,1467.0 L1519.3,1467.0 L1520.8,1467.0 L1522.3,1467.0 L1523.8,1467.0 L1525.3,1467.0 L1526.8,1467.0 L1528.3,1467.0 L1529.8,1467.0 L1531.3,1467.0 L1532.7,1467.0 L1532.8,1466.9 L1534.3,1464.5 L1535.8,1462.2 L1537.3,1459.9 L1538.8,1457.7 L1540.3,1455.4 L1541.8,1453.2 L1543.3,1451.0 L1544.8,1448.9 L1546.3,1446.8 L1547.8,1444.8 L1549.3,1442.8 L1550.8,1440.8 L1552.3,1438.9 L1553.8,1437.0 L1555.3,1435.2 L1556.8,1433.5 L1558.3,1432.0 L1559.8,1430.5 L1561.3,1429.1 L1562.8,1427.6 L1564.3,1426.1 L1565.8,1424.7 L1567.3,1423.5 L1568.8,1422.4 L1570.3,1421.5 L1571.8,1420.7 L1573.3,1420.0 L1574.8,1419.6 L1576.3,1419.3 L1577.8,1419.1 L1579.3,1419.1 L1580.8,1419.1 L1582.3,1419.1 L1583.8,1419.1 L1585.3,1419.1 L1586.8,1419.1 L1588.3,1419.1 L1589.8,1419.1 L1591.3,1419.1 L1592.8,1419.1 L1594.3,1419.1 L1595.8,1419.1 L1597.3,1419.1 L1598.8,1419.1 L1600.3,1419.1 L1601.8,1419.1 L1603.3,1419.1 L1604.8,1419.1 L1606.3,1419.1 L1606.9,1419.1 L1607.8,1420.1 L1609.3,1422.0 L1610.8,1423.9 L1612.3,1425.8 L1613.8,1427.7 L1615.3,1429.6 L1616.8,1431.5 L1618.3,1433.4 L1619.8,1435.3 L1621.3,1437.2 L1622.8,1439.0 L1624.3,1440.9 L1625.8,1442.7 L1627.3,1444.5 L1628.8,1446.3 L1630.3,1448.1 L1631.8,1449.8 L1633.3,1451.4 L1634.8,1452.9 L1636.3,1454.5 L1637.8,1456.0 L1639.3,1457.6 L1640.8,1459.1 L1642.3,1460.5 L1643.8,1461.8 L1645.3,1462.9 L1646.8,1463.9 L1648.3,1464.8 L1649.8,1465.6 L1651.3,1466.2 L1652.8,1466.6 L1654.3,1466.9 L1655.8,1467.0 L1657.3,1467.0 L1658.8,1467.0 L1660.3,1467.0 L1661.8,1467.0 L1663.3,1467.0 L1664.0,1467.0"/>
</g>
<rect x="1281.5" y="406.2" width="553.8" height="399" fill="#ffffff" stroke="#262626" stroke-width="3.4"/>
<g stroke-width="7" shape-rendering="crispEdges">
<line x1="1297" y1="452.1" x2="1461" y2="452.1" stroke="#000000"/>
<line x1="1297" y1="529.2" x2="1461" y2="529.2" stroke="#0000ff"/>
<line x1="1297" y1="606.3" x2="1461" y2="606.3" stroke="#00ff00"/>
<line x1="1297" y1="682.8" x2="1461" y2="682.8" stroke="#ff0000"/>
<line x1="1297" y1="759.9" x2="1461" y2="759.9" stroke="#ff00ff"/>
</g>
<g>
<text transform="translate(181.00,1561.19) scale(1.0000,1.0103)" style="font-family:'Liberation Sans',sans-serif;font-size:54px" fill="#262626">0</text>
<text transform="translate(443.75,1561.19) scale(1.0000,1.0103)" style="font-family:'Liberation Sans',sans-serif;font-size:54px" fill="#262626">200</text>
<text transform="translate(738.00,1561.19) scale(1.0000,1.0103)" style="font-family:'Liberation Sans',sans-serif;font-size:54px" fill="#262626">400</text>
<text transform="translate(1030.25,1561.19) scale(1.0000,1.0103)" style="font-family:'Liberation Sans',sans-serif;font-size:54px" fill="#262626">600</text>
<text transform="translate(1324.00,1561.19) scale(1.0000,1.0103)" style="font-family:'Liberation Sans',sans-serif;font-size:54px" fill="#262626">800</text>
<text transform="translate(1601.25,1561.19) scale(1.0000,1.0103)" style="font-family:'Liberation Sans',sans-serif;font-size:54px" fill="#262626">1000</text>
<text transform="translate(1894.50,1561.19) scale(1.0000,1.0103)" style="font-family:'Liberation Sans',sans-serif;font-size:54px" fill="#262626">1200</text>
<text transform="translate(113.07,1510.05) scale(0.9700,1.0026)" style="font-family:'Liberation Sans',sans-serif;font-size:54px" fill="#262626">−3</text>
<text transform="translate(113.07,1369.95) scale(0.9700,1.0289)" style="font-family:'Liberation Sans',sans-serif;font-size:54px" fill="#262626">−2</text>
<text transform="translate(110.47,1234.95) scale(0.9700,1.0568)" style="font-family:'Liberation Sans',sans-serif;font-size:54px" fill="#262626">−1</text>
<text transform="translate(142.30,1088.95) scale(1.0000,1.0026)" style="font-family:'Liberation Sans',sans-serif;font-size:54px" fill="#262626">0</text>
<text transform="translate(140.70,951.15) scale(1.0000,1.0568)" style="font-family:'Liberation Sans',sans-serif;font-size:54px" fill="#262626">1</text>
<text transform="translate(143.30,812.25) scale(1.0000,1.0289)" style="font-family:'Liberation Sans',sans-serif;font-size:54px" fill="#262626">2</text>
<text transform="translate(142.30,671.75) scale(1.0000,1.0026)" style="font-family:'Liberation Sans',sans-serif;font-size:54px" fill="#262626">3</text>
<text transform="translate(141.30,533.55) scale(1.0000,1.0568)" style="font-family:'Liberation Sans',sans-serif;font-size:54px" fill="#262626">4</text>
<text transform="translate(142.30,393.42) scale(1.0000,1.0289)" style="font-family:'Liberation Sans',sans-serif;font-size:54px" fill="#262626">5</text>
<text transform="translate(142.30,254.35) scale(1.0000,1.0026)" style="font-family:'Liberation Sans',sans-serif;font-size:54px" fill="#262626">6</text>
<text transform="translate(143.30,116.95) scale(1.0000,1.0568)" style="font-family:'Liberation Sans',sans-serif;font-size:54px" fill="#262626">7</text>
<text transform="translate(198.80,89.54) scale(1.0000,0.9345)" style="font-family:'Liberation Sans',sans-serif;font-size:64px" fill="#262626">×</text>
<text transform="translate(235.93,92.29) scale(0.9667,1.0103)" style="font-family:'Liberation Sans',sans-serif;font-size:54px" fill="#262626">10</text>
<text transform="translate(293.10,66.80) scale(0.9489,1.0552)" style="font-family:'Liberation Sans',sans-serif;font-size:43px" fill="#262626">−3</text>
<text transform="translate(1470.51,477.40) scale(0.9971,1.0000)" style="font-family:'Liberation Serif',serif;font-size:66px" fill="#000000">Health</text>
<text transform="translate(1470.84,554.50) scale(0.9897,1.0000)" style="font-family:'Liberation Serif',serif;font-size:66px" fill="#000000">Sub-health</text>
<text transform="translate(1471.51,631.60) scale(0.9936,1.0000)" style="font-family:'Liberation Serif',serif;font-size:66px;font-kerning:none" fill="#000000">Average</text>
<text transform="translate(1470.53,708.10) scale(0.9848,1.0000)" style="font-family:'Liberation Serif',serif;font-size:66px" fill="#000000">Deterioration</text>
<text transform="translate(1470.52,785.20) scale(0.9910,1.0000)" style="font-family:'Liberation Serif',serif;font-size:66px" fill="#000000">Fault</text>
<text transform="translate(878.18,1635.30) scale(1.1589,1.0000)" style="font-family:'Liberation Serif',serif;font-size:66px" fill="#262626">data</text>
<text transform="translate(1027.13,1635.30) scale(1.0663,1.0000)" style="font-family:'Liberation Serif',serif;font-size:66px" fill="#262626">length</text>
<text transform="translate(1228.00,1635.30) scale(1.1064,1.0000)" style="font-family:'Liberation Serif',serif;font-size:66px;font-style:italic" fill="#262626">N</text>
<text transform="rotate(-90) translate(-1464.84,87.60) scale(1.0438,1.0000)" style="font-family:'Liberation Serif',serif;font-size:68px" fill="#262626">rod</text>
<text transform="rotate(-90) translate(-1349.72,87.60) scale(1.0118,1.0000)" style="font-family:'Liberation Serif',serif;font-size:68px" fill="#262626">displacement</text>
<text transform="rotate(-90) translate(-957.00,87.60) scale(1.0000,1.0000)" style="font-family:'Liberation Serif',serif;font-size:68px;font-style:italic" fill="#262626">x</text>
<text transform="rotate(-90) translate(-931.38,97.00) scale(0.9688,1.0000)" style="font-family:'Liberation Serif',serif;font-size:46px" fill="#262626">1</text>
<text transform="rotate(-90) translate(-902.81,88.19) scale(1.1034,1.0721)" style="font-family:'Liberation Serif',serif;font-size:68px" fill="#262626">(t)</text>
<text transform="rotate(-90) translate(-807.50,87.60) scale(0.9980,1.0000)" style="font-family:'Liberation Serif',serif;font-size:68px" fill="#262626">in</text>
<text transform="rotate(-90) translate(-732.27,87.60) scale(0.9870,1.0000)" style="font-family:'Liberation Serif',serif;font-size:68px" fill="#262626">different</text>
<text transform="rotate(-90) translate(-476.06,87.60) scale(1.0610,1.0000)" style="font-family:'Liberation Serif',serif;font-size:68px" fill="#262626">health</text>
<text transform="rotate(-90) translate(-280.07,87.60) scale(1.0890,1.0000)" style="font-family:'Liberation Serif',serif;font-size:68px" fill="#262626">states</text>
</g>
</svg></body></html>
